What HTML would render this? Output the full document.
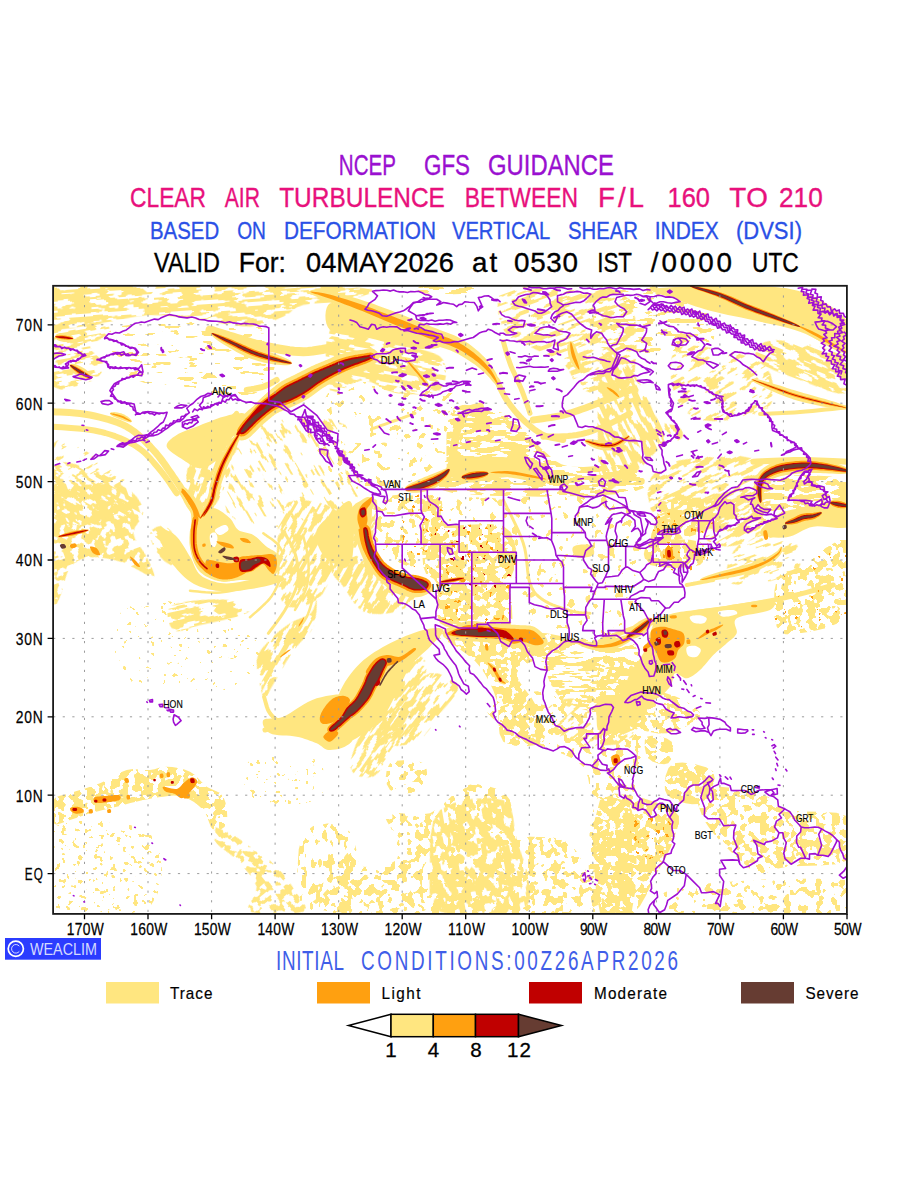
<!DOCTYPE html>
<html><head><meta charset="utf-8"><title>CAT</title>
<style>
html,body{margin:0;padding:0;background:#fff;}
body{width:900px;height:1200px;overflow:hidden;font-family:"Liberation Sans",sans-serif;}
svg{display:block;position:absolute;left:0;top:0}
text{font-family:"Liberation Sans",sans-serif;}
</style></head><body>
<svg width="900" height="1200" viewBox="0 0 900 1200">
<rect width="900" height="1200" fill="#fff"/>
<text transform="translate(338.8 174.6) scale(0.710 1)" font-size="29" fill="#9a10d0" stroke="#9a10d0" stroke-width="0.35" textLength="80.6" lengthAdjust="spacing">NCEP</text>
<text transform="translate(424.0 174.6) scale(0.772 1)" font-size="29" fill="#9a10d0" stroke="#9a10d0" stroke-width="0.35" textLength="59.6" lengthAdjust="spacing">GFS</text>
<text transform="translate(488.0 174.6) scale(0.823 1)" font-size="29" fill="#9a10d0" stroke="#9a10d0" stroke-width="0.35" textLength="153.1" lengthAdjust="spacing">GUIDANCE</text>
<text transform="translate(130.0 206.8) scale(0.820 1)" font-size="27.8" fill="#e8107c" stroke="#e8107c" stroke-width="0.35" textLength="92.7" lengthAdjust="spacing">CLEAR</text>
<text transform="translate(224.8 206.8) scale(0.760 1)" font-size="27.8" fill="#e8107c" stroke="#e8107c" stroke-width="0.35" textLength="46.3" lengthAdjust="spacing">AIR</text>
<text transform="translate(279.2 206.8) scale(0.879 1)" font-size="27.8" fill="#e8107c" stroke="#e8107c" stroke-width="0.35" textLength="188.5" lengthAdjust="spacing">TURBULENCE</text>
<text transform="translate(464.8 206.8) scale(0.823 1)" font-size="27.8" fill="#e8107c" stroke="#e8107c" stroke-width="0.35" textLength="137.5" lengthAdjust="spacing">BETWEEN</text>
<text transform="translate(598.0 206.8) scale(1.000 1)" font-size="27.8" fill="#e8107c" stroke="#e8107c" stroke-width="0.35" textLength="46.0" lengthAdjust="spacing">F/L</text>
<text transform="translate(667.5 206.8) scale(0.916 1)" font-size="27.8" fill="#e8107c" stroke="#e8107c" stroke-width="0.35" textLength="46.4" lengthAdjust="spacing">160</text>
<text transform="translate(729.2 206.8) scale(1.000 1)" font-size="27.8" fill="#e8107c" stroke="#e8107c" stroke-width="0.35" textLength="38.8" lengthAdjust="spacing">TO</text>
<text transform="translate(779.0 206.8) scale(0.944 1)" font-size="27.8" fill="#e8107c" stroke="#e8107c" stroke-width="0.35" textLength="46.4" lengthAdjust="spacing">210</text>
<text transform="translate(150.0 238.6) scale(0.830 1)" font-size="24.6" fill="#2a50e6" stroke="#2a50e6" stroke-width="0.35" textLength="83.4" lengthAdjust="spacing">BASED</text>
<text transform="translate(237.2 238.6) scale(0.780 1)" font-size="24.6" fill="#2a50e6" stroke="#2a50e6" stroke-width="0.35" textLength="36.9" lengthAdjust="spacing">ON</text>
<text transform="translate(284.0 238.6) scale(0.845 1)" font-size="24.6" fill="#2a50e6" stroke="#2a50e6" stroke-width="0.35" textLength="179.9" lengthAdjust="spacing">DEFORMATION</text>
<text transform="translate(452.0 238.6) scale(0.818 1)" font-size="24.6" fill="#2a50e6" stroke="#2a50e6" stroke-width="0.35" textLength="119.9" lengthAdjust="spacing">VERTICAL</text>
<text transform="translate(568.0 238.6) scale(0.826 1)" font-size="24.6" fill="#2a50e6" stroke="#2a50e6" stroke-width="0.35" textLength="84.8" lengthAdjust="spacing">SHEAR</text>
<text transform="translate(654.8 238.6) scale(0.851 1)" font-size="24.6" fill="#2a50e6" stroke="#2a50e6" stroke-width="0.35" textLength="75.2" lengthAdjust="spacing">INDEX</text>
<text transform="translate(736.0 238.6) scale(0.894 1)" font-size="24.6" fill="#2a50e6" stroke="#2a50e6" stroke-width="0.35" textLength="73.8" lengthAdjust="spacing">(DVSI)</text>
<text transform="translate(154.0 272.3) scale(0.843 1)" font-size="27.8" fill="#000" stroke="#000" stroke-width="0.35" textLength="78.3" lengthAdjust="spacing">VALID</text>
<text transform="translate(238.8 272.3) scale(0.955 1)" font-size="27.8" fill="#000" stroke="#000" stroke-width="0.35" textLength="49.4" lengthAdjust="spacing">For:</text>
<text transform="translate(306.0 272.3) scale(0.980 1)" font-size="27.8" fill="#000" stroke="#000" stroke-width="0.35" textLength="150.9" lengthAdjust="spacing">04MAY2026</text>
<text transform="translate(472.0 272.3) scale(1.000 1)" font-size="27.8" fill="#000" stroke="#000" stroke-width="0.35" textLength="25.2" lengthAdjust="spacing">at</text>
<text transform="translate(514.0 272.3) scale(1.000 1)" font-size="27.8" fill="#000" stroke="#000" stroke-width="0.35" textLength="64.0" lengthAdjust="spacing">0530</text>
<text transform="translate(597.2 272.3) scale(0.805 1)" font-size="27.8" fill="#000" stroke="#000" stroke-width="0.35" textLength="43.2" lengthAdjust="spacing">IST</text>
<text transform="translate(650.8 272.3) scale(1.000 1)" font-size="27.8" fill="#000" stroke="#000" stroke-width="0.35" textLength="81.2" lengthAdjust="spacing">/0000</text>
<text transform="translate(752.0 272.3) scale(0.819 1)" font-size="27.8" fill="#000" stroke="#000" stroke-width="0.35" textLength="57.1" lengthAdjust="spacing">UTC</text>
<defs><clipPath id="mc"><rect x="53.1" y="285.8" width="793.8" height="628.1"/></clipPath></defs>
<g clip-path="url(#mc)">
<defs>
<filter id="nzb40" x="0" y="0" width="1" height="1" color-interpolation-filters="sRGB"><feTurbulence type="fractalNoise" baseFrequency="0.125 0.125" numOctaves="2" seed="27" result="t"/><feColorMatrix in="t" type="matrix" values="0 0 0 0 1  0 0 0 0 1  0 0 0 0 1  80.00 0 0 0 -32.000" result="m"/><feComposite in="SourceGraphic" in2="m" operator="in"/></filter>
<filter id="nzb42" x="0" y="0" width="1" height="1" color-interpolation-filters="sRGB"><feTurbulence type="fractalNoise" baseFrequency="0.125 0.125" numOctaves="2" seed="29" result="t"/><feColorMatrix in="t" type="matrix" values="0 0 0 0 1  0 0 0 0 1  0 0 0 0 1  80.00 0 0 0 -33.600" result="m"/><feComposite in="SourceGraphic" in2="m" operator="in"/></filter>
<filter id="nzb44" x="0" y="0" width="1" height="1" color-interpolation-filters="sRGB"><feTurbulence type="fractalNoise" baseFrequency="0.125 0.125" numOctaves="2" seed="31" result="t"/><feColorMatrix in="t" type="matrix" values="0 0 0 0 1  0 0 0 0 1  0 0 0 0 1  80.00 0 0 0 -35.200" result="m"/><feComposite in="SourceGraphic" in2="m" operator="in"/></filter>
<filter id="nzb45" x="0" y="0" width="1" height="1" color-interpolation-filters="sRGB"><feTurbulence type="fractalNoise" baseFrequency="0.125 0.125" numOctaves="2" seed="32" result="t"/><feColorMatrix in="t" type="matrix" values="0 0 0 0 1  0 0 0 0 1  0 0 0 0 1  80.00 0 0 0 -36.000" result="m"/><feComposite in="SourceGraphic" in2="m" operator="in"/></filter>
<filter id="nzb50" x="0" y="0" width="1" height="1" color-interpolation-filters="sRGB"><feTurbulence type="fractalNoise" baseFrequency="0.125 0.125" numOctaves="2" seed="37" result="t"/><feColorMatrix in="t" type="matrix" values="0 0 0 0 1  0 0 0 0 1  0 0 0 0 1  80.00 0 0 0 -40.000" result="m"/><feComposite in="SourceGraphic" in2="m" operator="in"/></filter>
<filter id="nzb53" x="0" y="0" width="1" height="1" color-interpolation-filters="sRGB"><feTurbulence type="fractalNoise" baseFrequency="0.125 0.125" numOctaves="2" seed="40" result="t"/><feColorMatrix in="t" type="matrix" values="0 0 0 0 1  0 0 0 0 1  0 0 0 0 1  80.00 0 0 0 -42.400" result="m"/><feComposite in="SourceGraphic" in2="m" operator="in"/></filter>
<filter id="nzb54" x="0" y="0" width="1" height="1" color-interpolation-filters="sRGB"><feTurbulence type="fractalNoise" baseFrequency="0.125 0.125" numOctaves="2" seed="41" result="t"/><feColorMatrix in="t" type="matrix" values="0 0 0 0 1  0 0 0 0 1  0 0 0 0 1  80.00 0 0 0 -43.200" result="m"/><feComposite in="SourceGraphic" in2="m" operator="in"/></filter>
<filter id="nzb56" x="0" y="0" width="1" height="1" color-interpolation-filters="sRGB"><feTurbulence type="fractalNoise" baseFrequency="0.125 0.125" numOctaves="2" seed="43" result="t"/><feColorMatrix in="t" type="matrix" values="0 0 0 0 1  0 0 0 0 1  0 0 0 0 1  80.00 0 0 0 -44.800" result="m"/><feComposite in="SourceGraphic" in2="m" operator="in"/></filter>
<filter id="nzb57" x="0" y="0" width="1" height="1" color-interpolation-filters="sRGB"><feTurbulence type="fractalNoise" baseFrequency="0.125 0.125" numOctaves="2" seed="44" result="t"/><feColorMatrix in="t" type="matrix" values="0 0 0 0 1  0 0 0 0 1  0 0 0 0 1  80.00 0 0 0 -45.600" result="m"/><feComposite in="SourceGraphic" in2="m" operator="in"/></filter>
<filter id="nzb58" x="0" y="0" width="1" height="1" color-interpolation-filters="sRGB"><feTurbulence type="fractalNoise" baseFrequency="0.125 0.125" numOctaves="2" seed="45" result="t"/><feColorMatrix in="t" type="matrix" values="0 0 0 0 1  0 0 0 0 1  0 0 0 0 1  80.00 0 0 0 -46.400" result="m"/><feComposite in="SourceGraphic" in2="m" operator="in"/></filter>
<filter id="nzb64" x="0" y="0" width="1" height="1" color-interpolation-filters="sRGB"><feTurbulence type="fractalNoise" baseFrequency="0.125 0.125" numOctaves="2" seed="1" result="t"/><feColorMatrix in="t" type="matrix" values="0 0 0 0 1  0 0 0 0 1  0 0 0 0 1  80.00 0 0 0 -51.200" result="m"/><feComposite in="SourceGraphic" in2="m" operator="in"/></filter>
<filter id="nzb66" x="0" y="0" width="1" height="1" color-interpolation-filters="sRGB"><feTurbulence type="fractalNoise" baseFrequency="0.125 0.125" numOctaves="2" seed="3" result="t"/><feColorMatrix in="t" type="matrix" values="0 0 0 0 1  0 0 0 0 1  0 0 0 0 1  80.00 0 0 0 -52.800" result="m"/><feComposite in="SourceGraphic" in2="m" operator="in"/></filter>
<filter id="nzf65" x="0" y="0" width="1" height="1" color-interpolation-filters="sRGB"><feTurbulence type="fractalNoise" baseFrequency="0.18 0.18" numOctaves="2" seed="30" result="t"/><feColorMatrix in="t" type="matrix" values="0 0 0 0 1  0 0 0 0 1  0 0 0 0 1  80.00 0 0 0 -52.000" result="m"/><feComposite in="SourceGraphic" in2="m" operator="in"/></filter>
<filter id="nzf68" x="0" y="0" width="1" height="1" color-interpolation-filters="sRGB"><feTurbulence type="fractalNoise" baseFrequency="0.18 0.18" numOctaves="2" seed="33" result="t"/><feColorMatrix in="t" type="matrix" values="0 0 0 0 1  0 0 0 0 1  0 0 0 0 1  80.00 0 0 0 -54.400" result="m"/><feComposite in="SourceGraphic" in2="m" operator="in"/></filter>
<filter id="nzf70" x="0" y="0" width="1" height="1" color-interpolation-filters="sRGB"><feTurbulence type="fractalNoise" baseFrequency="0.18 0.18" numOctaves="2" seed="35" result="t"/><feColorMatrix in="t" type="matrix" values="0 0 0 0 1  0 0 0 0 1  0 0 0 0 1  80.00 0 0 0 -56.000" result="m"/><feComposite in="SourceGraphic" in2="m" operator="in"/></filter>
<filter id="nzf72" x="0" y="0" width="1" height="1" color-interpolation-filters="sRGB"><feTurbulence type="fractalNoise" baseFrequency="0.18 0.18" numOctaves="2" seed="37" result="t"/><feColorMatrix in="t" type="matrix" values="0 0 0 0 1  0 0 0 0 1  0 0 0 0 1  80.00 0 0 0 -57.600" result="m"/><feComposite in="SourceGraphic" in2="m" operator="in"/></filter>
<filter id="nzf75" x="0" y="0" width="1" height="1" color-interpolation-filters="sRGB"><feTurbulence type="fractalNoise" baseFrequency="0.18 0.18" numOctaves="2" seed="40" result="t"/><feColorMatrix in="t" type="matrix" values="0 0 0 0 1  0 0 0 0 1  0 0 0 0 1  80.00 0 0 0 -60.000" result="m"/><feComposite in="SourceGraphic" in2="m" operator="in"/></filter>
<filter id="nzf76" x="0" y="0" width="1" height="1" color-interpolation-filters="sRGB"><feTurbulence type="fractalNoise" baseFrequency="0.18 0.18" numOctaves="2" seed="41" result="t"/><feColorMatrix in="t" type="matrix" values="0 0 0 0 1  0 0 0 0 1  0 0 0 0 1  80.00 0 0 0 -60.800" result="m"/><feComposite in="SourceGraphic" in2="m" operator="in"/></filter>
<filter id="nzm46" x="0" y="0" width="1" height="1" color-interpolation-filters="sRGB"><feTurbulence type="fractalNoise" baseFrequency="0.08 0.15" numOctaves="2" seed="10" result="t"/><feColorMatrix in="t" type="matrix" values="0 0 0 0 1  0 0 0 0 1  0 0 0 0 1  80.00 0 0 0 -36.800" result="m"/><feComposite in="SourceGraphic" in2="m" operator="in"/></filter>
<filter id="nzm58" x="0" y="0" width="1" height="1" color-interpolation-filters="sRGB"><feTurbulence type="fractalNoise" baseFrequency="0.08 0.15" numOctaves="2" seed="22" result="t"/><feColorMatrix in="t" type="matrix" values="0 0 0 0 1  0 0 0 0 1  0 0 0 0 1  80.00 0 0 0 -46.400" result="m"/><feComposite in="SourceGraphic" in2="m" operator="in"/></filter>
<filter id="nzs45" x="0" y="0" width="1" height="1" color-interpolation-filters="sRGB"><feTurbulence type="fractalNoise" baseFrequency="0.055 0.21" numOctaves="2" seed="1" result="t"/><feColorMatrix in="t" type="matrix" values="0 0 0 0 1  0 0 0 0 1  0 0 0 0 1  80.00 0 0 0 -36.000" result="m"/><feComposite in="SourceGraphic" in2="m" operator="in"/></filter>
<filter id="nzs48" x="0" y="0" width="1" height="1" color-interpolation-filters="sRGB"><feTurbulence type="fractalNoise" baseFrequency="0.055 0.21" numOctaves="2" seed="4" result="t"/><feColorMatrix in="t" type="matrix" values="0 0 0 0 1  0 0 0 0 1  0 0 0 0 1  80.00 0 0 0 -38.400" result="m"/><feComposite in="SourceGraphic" in2="m" operator="in"/></filter>
<filter id="nzs50" x="0" y="0" width="1" height="1" color-interpolation-filters="sRGB"><feTurbulence type="fractalNoise" baseFrequency="0.055 0.21" numOctaves="2" seed="6" result="t"/><feColorMatrix in="t" type="matrix" values="0 0 0 0 1  0 0 0 0 1  0 0 0 0 1  80.00 0 0 0 -40.000" result="m"/><feComposite in="SourceGraphic" in2="m" operator="in"/></filter>
<filter id="nzs51" x="0" y="0" width="1" height="1" color-interpolation-filters="sRGB"><feTurbulence type="fractalNoise" baseFrequency="0.055 0.21" numOctaves="2" seed="7" result="t"/><feColorMatrix in="t" type="matrix" values="0 0 0 0 1  0 0 0 0 1  0 0 0 0 1  80.00 0 0 0 -40.800" result="m"/><feComposite in="SourceGraphic" in2="m" operator="in"/></filter>
<filter id="nzs57" x="0" y="0" width="1" height="1" color-interpolation-filters="sRGB"><feTurbulence type="fractalNoise" baseFrequency="0.055 0.21" numOctaves="2" seed="13" result="t"/><feColorMatrix in="t" type="matrix" values="0 0 0 0 1  0 0 0 0 1  0 0 0 0 1  80.00 0 0 0 -45.600" result="m"/><feComposite in="SourceGraphic" in2="m" operator="in"/></filter>
<filter id="nzs60" x="0" y="0" width="1" height="1" color-interpolation-filters="sRGB"><feTurbulence type="fractalNoise" baseFrequency="0.055 0.21" numOctaves="2" seed="16" result="t"/><feColorMatrix in="t" type="matrix" values="0 0 0 0 1  0 0 0 0 1  0 0 0 0 1  80.00 0 0 0 -48.000" result="m"/><feComposite in="SourceGraphic" in2="m" operator="in"/></filter>
<filter id="nzs62" x="0" y="0" width="1" height="1" color-interpolation-filters="sRGB"><feTurbulence type="fractalNoise" baseFrequency="0.055 0.21" numOctaves="2" seed="18" result="t"/><feColorMatrix in="t" type="matrix" values="0 0 0 0 1  0 0 0 0 1  0 0 0 0 1  80.00 0 0 0 -49.600" result="m"/><feComposite in="SourceGraphic" in2="m" operator="in"/></filter>
<filter id="nzs63" x="0" y="0" width="1" height="1" color-interpolation-filters="sRGB"><feTurbulence type="fractalNoise" baseFrequency="0.055 0.21" numOctaves="2" seed="19" result="t"/><feColorMatrix in="t" type="matrix" values="0 0 0 0 1  0 0 0 0 1  0 0 0 0 1  80.00 0 0 0 -50.400" result="m"/><feComposite in="SourceGraphic" in2="m" operator="in"/></filter>
</defs>
<g transform="rotate(-4.0 209.3 310.7)"><path d="M55.4 275.8L115.7 276.9L203.6 282.9L291.3 290.5L351.3 296.5L373.1 300.7L372.3 304.4L360.8 307.5L350.4 309.8L341.3 310.9L328.2 310.9L314.5 310.8L303.5 311.6L296.8 313.6L292.3 316.3L288.2 319.2L282.7 321.8L275.5 324.3L267.6 326.9L258.7 328.9L248.8 329.5L237.5 328.1L225.1 325.4L212.1 322.2L199.4 319.3L187.0 316.8L174.7 314.2L162.3 312.0L149.8 310.9L137.2 311.2L124.4 312.7L111.8 314.5L99.4 315.7L86.3 317.0L72.7 318.5L60.7 318.7L52.6 315.7L42.9 307.2L32.6 294.5L32.9 282.5Z" fill="#ffe680" filter="url(#nzs45)"/></g>
<g transform="rotate(-10.0 86.2 351.4)"><path d="M58.1 321.3L68.1 317.9L81.5 319.3L94.9 323.0L104.7 326.2L110.1 328.6L113.0 331.6L113.8 334.8L112.8 337.7L108.6 340.1L101.6 342.1L94.7 344.4L90.8 347.4L91.6 351.5L95.3 356.5L99.3 361.5L101.0 366.1L100.1 370.4L97.8 374.7L93.9 378.3L88.3 380.8L78.9 383.1L66.5 385.2L54.9 385.0L47.7 380.4L45.9 368.3L47.5 350.6L51.8 333.0Z" fill="#ffe680" filter="url(#nzs51)"/></g>
<g transform="rotate(0.0 181.1 363.3)"><path d="M116.7 326.7L146.5 322.6L190.0 320.4L233.5 321.4L263.3 326.7L275.4 339.5L277.1 358.1L271.9 376.9L263.3 390.0L249.7 395.4L230.0 396.5L208.6 395.1L190.0 393.3L174.5 391.2L160.0 387.9L147.2 384.0L136.7 380.0L128.9 376.5L123.3 373.1L119.5 369.0L116.7 363.3L111.8 354.7L106.3 344.0L105.9 333.7Z" fill="#ffe680" filter="url(#nzs63)"/></g>
<g transform="rotate(30.0 90.0 492.0)"><path d="M45.6 488.4L47.9 482.2L54.1 478.2L62.5 475.5L71.6 473.4L81.8 471.3L93.7 469.7L105.8 469.3L116.2 470.7L126.8 474.1L137.6 479.0L144.8 485.4L144.4 492.9L132.4 504.0L111.8 518.0L89.4 529.9L72.2 534.6L61.1 528.5L52.8 515.0L47.5 499.8Z" fill="#ffe680" filter="url(#nzs51)"/></g>
<g transform="rotate(60.0 283.3 474.7)"><path d="M225.1 479.5L230.8 457.8L242.8 430.6L258.4 406.2L275.1 392.9L296.4 394.0L322.2 404.7L344.7 421.2L355.9 439.6L351.0 463.1L335.0 492.5L315.3 519.9L299.3 537.7L288.4 542.8L279.0 539.5L270.2 531.8L261.3 523.5L250.1 515.6L237.7 506.1L228.0 494.2Z" fill="#ffe680" filter="url(#nzs62)"/></g>
<g transform="rotate(10.0 386.2 366.2)"><path d="M324.6 340.3L331.0 336.4L341.3 337.1L353.5 339.8L365.4 341.6L377.3 341.9L390.0 342.1L402.4 342.5L413.1 343.3L422.1 344.1L430.1 345.0L436.6 346.7L441.4 350.2L444.7 356.5L446.7 365.0L446.5 373.6L443.3 380.3L435.7 384.8L424.6 388.1L412.3 390.1L401.2 391.1L391.8 390.0L383.0 387.1L374.4 384.4L366.1 383.8L357.5 387.8L349.0 394.8L341.2 400.2L335.0 399.4L329.7 388.5L325.3 370.8L323.1 352.6Z" fill="#ffe680" filter="url(#nzs45)"/></g>
<g transform="rotate(0.0 390.0 435.0)"><path d="M330.0 390.0L354.4 381.6L390.0 378.8L425.6 381.6L450.0 390.0L461.2 408.3L465.0 435.0L461.2 461.7L450.0 480.0L425.6 488.4L390.0 491.2L354.4 488.4L330.0 480.0L318.8 461.7L315.0 435.0L318.8 408.3Z" fill="#ffe680" filter="url(#nzb64)"/></g>
<g transform="rotate(0.0 529.3 455.4)"><path d="M453.3 408.3L463.3 404.7L477.1 405.7L491.5 409.3L503.3 413.3L511.9 418.0L518.8 424.3L524.6 430.9L530.0 436.7L534.7 441.4L538.5 445.6L542.3 449.6L546.7 453.3L551.2 457.2L555.6 461.0L561.4 464.3L570.0 466.7L583.8 467.0L601.5 465.8L618.4 465.1L630.0 466.7L638.4 472.1L644.8 480.0L643.8 487.9L630.0 493.3L594.3 495.8L542.1 496.7L489.7 495.8L453.3 493.3L439.4 489.3L438.5 483.6L443.4 476.2L446.7 466.7L446.4 452.8L446.5 435.5L448.3 419.2Z" fill="#ffe680" filter="url(#nzs45)"/></g>
<g transform="rotate(-20.0 564.2 337.5)"><path d="M523.2 272.1L535.7 273.3L552.1 279.2L569.8 287.2L585.9 294.9L601.8 300.6L618.2 306.0L631.7 313.3L638.9 324.8L637.4 344.4L629.5 369.9L618.7 394.0L608.1 409.4L597.2 412.8L584.8 408.6L573.1 400.9L564.2 393.4L559.8 386.4L558.2 378.1L557.3 369.5L554.5 361.5L549.1 354.3L542.3 347.5L535.3 340.9L528.9 334.4L522.9 328.4L516.8 322.7L511.9 316.7L509.6 309.6L509.5 299.7L511.3 287.9L515.6 277.5Z" fill="#ffe680" filter="url(#nzs51)"/></g>
<g transform="rotate(0.0 446.7 289.2)"><path d="M423.3 285.0L432.8 284.2L446.7 284.0L460.5 284.2L470.0 285.0L474.4 286.7L475.8 289.2L474.4 291.6L470.0 293.3L460.5 294.1L446.7 294.4L432.8 294.1L423.3 293.3L419.0 291.6L417.5 289.2L419.0 286.7Z" fill="#ffe680" filter="url(#nzs51)"/></g>
<g transform="rotate(22.0 804.7 366.0)"><path d="M765.9 353.6L781.2 348.7L802.6 343.9L824.3 341.1L840.1 341.6L849.3 347.6L854.6 357.5L856.2 368.1L853.8 375.6L846.1 379.1L833.6 380.4L819.1 380.6L805.6 380.7L792.3 381.2L778.2 381.4L765.9 380.8L757.9 378.4L754.4 373.5L754.3 366.6L757.9 359.5Z" fill="#ffe680" filter="url(#nzs45)"/></g>
<g transform="rotate(65.0 640.2 427.5)"><path d="M562.0 435.4L554.3 427.9L555.2 422.8L560.9 419.1L567.4 415.8L575.2 413.1L585.7 411.1L597.1 409.8L607.5 408.8L616.8 408.5L625.9 408.8L634.2 409.0L641.0 407.9L646.1 404.6L649.6 400.0L652.5 395.5L655.5 392.6L659.0 391.3L662.4 391.1L665.4 392.0L667.5 394.5L668.1 398.8L667.6 404.9L667.0 411.7L667.4 418.3L669.3 424.8L671.9 431.6L674.8 438.3L677.1 444.9L679.0 451.3L680.8 457.7L682.0 463.8L682.2 469.4L683.5 476.0L685.3 483.2L683.5 488.1L673.8 487.5L650.4 478.6L617.0 463.8L584.1 447.8Z" fill="#ffe680" filter="url(#nzs45)"/></g>
<g transform="rotate(-25.0 710.0 491.7)"><path d="M675.3 447.9L696.4 450.6L725.0 459.6L752.0 471.8L768.7 484.1L772.2 498.7L767.5 516.2L757.1 531.3L743.3 538.5L722.6 534.8L695.0 523.8L668.9 509.5L652.7 496.2L648.7 482.6L652.5 467.1L662.0 454.2Z" fill="#ffe680" filter="url(#nzs51)"/></g>
<g transform="rotate(0.0 660.0 318.8)"><path d="M600.0 286.7L611.0 282.1L627.1 282.1L643.8 284.3L656.7 286.7L663.9 289.1L668.1 292.6L671.6 296.5L676.7 300.0L684.8 302.5L694.6 304.5L703.7 307.1L710.0 311.7L713.4 319.4L714.8 329.5L713.8 339.4L710.0 346.7L702.8 350.6L692.5 352.6L680.2 353.3L666.7 353.3L650.1 353.9L630.6 354.2L612.5 352.4L600.0 346.7L594.0 334.0L592.3 316.2L594.5 298.7Z" fill="#ffe680" filter="url(#nzs57)"/></g>
<g transform="rotate(-30.0 723.9 386.7)"><path d="M705.9 330.1L720.0 337.0L737.5 350.7L754.2 366.6L765.6 380.0L770.2 390.1L770.5 399.4L768.2 407.5L765.0 414.3L761.6 420.0L756.9 424.7L750.4 427.6L741.8 427.8L729.2 424.8L713.2 419.0L697.8 411.6L686.5 403.6L680.4 394.7L677.3 384.6L676.9 374.1L678.4 364.3L682.0 353.4L687.9 341.6L695.9 332.6Z" fill="#ffe680" filter="url(#nzs57)"/></g>
<g transform="rotate(0.0 803.3 500.0)"><path d="M760.0 480.0L777.6 476.2L803.3 475.0L829.1 476.2L846.7 480.0L854.8 488.1L857.5 500.0L854.8 511.9L846.7 520.0L829.1 523.8L803.3 525.0L777.6 523.8L760.0 520.0L751.9 511.9L749.2 500.0L751.9 488.1Z" fill="#ffe680" filter="url(#nzs45)"/></g>
<g transform="rotate(-70.0 210.5 476.2)"><path d="M191.9 455.8L203.6 453.1L219.2 450.7L235.0 449.8L247.2 451.7L255.4 457.9L261.6 467.3L264.9 477.1L264.4 484.4L258.8 488.5L248.9 490.8L237.3 492.0L226.7 492.8L217.2 493.4L207.5 493.3L198.5 492.7L190.8 491.7L184.3 490.4L178.7 488.7L174.5 486.6L172.1 484.3L172.2 481.8L174.3 479.0L177.3 475.9L180.2 472.5L181.9 468.4L183.1 463.7L185.9 459.2Z" fill="#ffe680" filter="url(#nzs45)"/></g>
<g transform="rotate(40.0 167.3 547.3)"><path d="M145.1 547.8L144.5 543.5L146.0 538.5L149.2 534.2L153.5 531.9L160.1 532.5L168.8 534.9L177.3 538.3L183.4 541.6L186.7 545.2L188.2 549.3L188.3 553.2L186.9 556.1L183.8 558.1L178.9 559.3L173.3 559.7L167.7 559.2L161.6 557.5L154.7 554.7L148.6 551.3Z" fill="#ffe680" filter="url(#nzs45)"/></g>
<g transform="rotate(-12.0 211.3 612.9)"><path d="M172.2 598.2L179.9 596.5L190.9 596.8L202.7 598.0L212.8 599.4L221.0 600.9L228.4 602.9L234.8 605.2L240.1 607.5L244.3 610.2L247.5 613.1L249.4 615.9L249.7 618.1L248.4 619.6L245.5 620.6L241.1 621.3L235.3 621.9L227.3 622.2L217.3 622.4L206.9 622.4L197.7 622.4L189.6 623.0L182.0 624.0L175.6 624.2L171.1 622.5L168.5 617.6L167.4 610.3L168.5 603.1Z" fill="#ffe680" filter="url(#nzs45)"/></g>
<g transform="rotate(-20.0 104.2 544.7)"><path d="M76.3 472.8L82.5 466.4L87.2 468.4L92.0 474.2L98.8 479.2L108.9 482.5L121.1 486.6L133.0 491.3L142.0 496.7L147.7 503.4L151.2 511.1L152.9 518.8L152.9 525.5L150.0 530.7L144.6 534.9L138.9 539.1L135.5 544.0L135.2 550.2L136.7 557.0L138.7 564.0L140.0 570.5L140.7 577.2L141.2 584.1L141.1 589.7L139.8 592.4L136.9 590.9L132.7 586.3L128.0 580.7L123.8 576.0L120.6 572.7L117.7 569.7L114.5 566.9L110.5 564.0L105.2 560.6L99.1 557.0L92.7 553.8L86.5 551.7L80.8 550.8L75.2 550.7L69.7 551.8L64.3 554.3L59.0 559.4L53.6 566.7L48.8 573.7L44.9 578.4L41.4 582.1L38.2 585.3L36.8 584.5L38.6 576.2L45.3 554.8L55.7 523.9L66.9 493.3Z" fill="#ffe680" filter="url(#nzb45)"/></g>
<g transform="rotate(-30.0 87.2 466.1)"><path d="M69.3 429.4L74.2 429.2L79.0 432.9L83.6 438.5L87.8 444.0L91.7 449.3L95.2 455.3L98.5 461.4L101.3 467.2L103.9 472.5L106.1 477.7L107.9 482.5L109.1 487.1L110.9 492.3L112.9 498.0L112.8 501.9L108.2 502.0L95.3 496.8L76.5 487.7L58.4 477.1L47.6 467.0L47.3 456.5L53.5 445.1L62.1 435.2Z" fill="#ffe680" filter="url(#nzs60)"/></g>
<g transform="rotate(-60.0 287.1 646.7)"><path d="M259.8 627.3L266.4 625.5L272.5 625.7L278.4 627.0L284.4 628.5L290.6 630.1L297.0 632.3L303.1 634.8L308.8 637.5L314.1 640.8L318.9 644.6L323.5 648.1L327.8 650.4L332.7 650.8L337.8 649.8L341.6 648.8L342.4 648.9L339.0 651.1L332.5 654.4L324.8 657.5L317.6 659.4L311.2 659.3L304.7 657.9L298.3 656.2L292.0 655.0L285.9 654.3L280.0 653.9L274.1 653.6L268.0 653.4L261.1 653.3L253.8 653.4L246.8 653.5L241.1 653.5L236.1 654.1L231.7 655.1L229.0 655.2L229.4 653.3L234.2 648.0L242.4 640.2L251.7 632.5Z" fill="#ffe680" filter="url(#nzs45)"/></g>
<g transform="rotate(0.0 181.3 653.3)"><path d="M133.3 600.0L158.0 599.3L192.3 605.4L226.2 615.5L250.0 626.7L262.1 640.7L267.3 658.3L265.5 675.1L256.7 686.7L236.2 691.4L205.8 691.7L174.2 689.5L150.0 686.7L135.3 684.2L125.6 680.8L119.8 675.4L116.7 666.7L115.0 651.1L115.6 630.4L121.0 611.2Z" fill="#ffe680" filter="url(#nzf72)"/></g>
<g transform="rotate(-60.0 369.4 562.4)"><path d="M386.4 507.1L394.0 508.5L400.4 513.0L406.1 518.7L411.3 523.5L417.0 527.2L422.7 530.7L426.6 534.1L427.1 537.5L422.6 540.8L414.4 543.9L404.9 547.2L396.6 551.3L389.4 556.2L382.4 561.8L376.1 567.8L371.0 573.7L367.4 579.7L364.8 586.0L363.2 592.2L362.0 598.2L362.2 604.6L363.6 611.5L364.5 617.2L363.4 620.5L359.2 620.7L353.0 618.8L346.3 615.2L340.4 610.7L335.1 604.8L329.9 597.5L325.7 589.5L323.7 581.8L324.7 574.2L327.8 566.4L331.9 558.9L335.4 552.0L337.4 546.0L338.9 540.8L341.3 535.7L346.0 530.4L354.4 523.8L365.3 516.4L376.7 510.2Z" fill="#ffe680" filter="url(#nzs45)"/></g>
<g transform="rotate(0.0 402.7 531.3)"><path d="M376.7 500.0L386.5 495.9L400.8 494.4L415.2 495.7L425.0 500.0L428.8 509.0L429.0 522.1L427.2 535.8L425.0 546.7L422.7 554.6L419.6 561.0L415.4 565.3L410.0 566.7L402.2 564.3L392.4 559.0L383.1 551.6L376.7 543.3L373.2 532.9L371.6 520.2L372.5 508.3Z" fill="#ffe680" filter="url(#nzb56)"/></g>
<g transform="rotate(0.0 465.8 565.2)"><path d="M423.3 500.0L427.0 494.8L432.3 494.3L437.7 496.8L441.7 500.0L442.3 504.8L440.8 511.9L440.7 519.0L445.0 524.0L456.8 525.4L473.5 524.6L490.6 524.0L503.3 526.0L510.3 531.7L514.1 539.8L515.8 548.6L516.7 556.7L516.2 563.2L514.2 569.2L511.7 575.6L510.0 583.3L510.4 594.0L511.9 606.7L512.4 618.5L510.0 626.7L503.3 629.8L493.8 629.6L483.1 627.9L473.3 626.7L464.1 626.9L454.6 627.5L446.1 626.8L440.0 623.3L437.3 615.4L437.1 604.2L437.5 592.6L436.7 583.3L433.7 578.7L429.8 576.7L426.0 573.8L423.3 566.7L422.0 552.0L421.4 532.3L421.7 513.2Z" fill="#ffe680" filter="url(#nzb44)"/></g>
<g transform="rotate(0.0 474.2 511.3)"><path d="M445.0 500.0L456.8 497.9L474.2 497.2L491.5 497.8L503.3 500.0L508.8 504.8L510.6 511.8L508.8 518.7L503.3 523.3L491.5 525.2L474.2 525.5L456.8 524.4L445.0 522.0L439.5 517.4L437.7 510.9L439.5 504.4Z" fill="#ffe680" filter="url(#nzb64)"/></g>
<g transform="rotate(0.0 512.1 677.0)"><path d="M440.0 633.3L459.9 632.1L490.8 631.7L523.0 632.1L546.7 633.3L559.5 635.8L566.7 639.4L569.6 643.3L570.0 646.7L566.8 649.2L559.8 651.5L551.2 653.8L543.3 656.7L535.6 660.0L527.1 663.5L520.1 667.8L516.7 673.3L518.7 680.5L524.6 688.9L531.5 697.8L536.7 706.7L540.4 716.1L543.7 726.3L545.3 735.3L543.3 741.7L535.8 745.1L524.2 746.5L512.1 745.4L503.3 741.7L499.6 734.0L498.5 722.9L498.3 710.8L496.7 700.0L493.4 690.8L489.4 682.0L484.9 673.9L480.0 666.7L474.5 660.6L468.3 655.4L462.2 650.9L456.7 646.7L449.1 642.6L440.2 638.7L435.3 635.6Z" fill="#ffe680" filter="url(#nzb45)"/></g>
<g transform="rotate(-52.0 421.9 709.4)"><path d="M372.8 698.9L379.6 694.9L391.7 692.0L405.6 690.0L417.9 689.0L428.5 688.5L439.0 688.7L448.3 690.2L455.4 693.6L460.2 700.0L463.2 709.0L464.0 717.9L462.3 724.1L457.1 726.7L448.9 727.0L439.3 726.4L430.0 726.1L420.8 726.6L410.9 727.4L401.4 727.2L393.3 725.1L385.5 720.0L377.9 712.5L372.9 704.9Z" fill="#ffe680" filter="url(#nzs51)"/></g>
<g transform="rotate(0.0 587.2 678.9)"><path d="M546.7 646.7L563.9 642.0L589.2 637.9L614.4 636.5L631.7 640.0L638.3 651.4L638.8 668.8L635.7 686.7L631.7 700.0L626.8 707.2L620.0 711.2L611.9 713.0L603.3 713.3L593.6 712.2L582.6 709.2L572.0 704.9L563.3 700.0L557.1 694.3L552.5 687.5L549.1 680.3L546.7 673.3L543.5 666.2L540.3 658.8L540.3 651.9Z" fill="#ffe680" filter="url(#nzs51)"/></g>
<g transform="rotate(0.0 568.0 570.0)"><path d="M516.7 500.0L539.7 491.0L573.3 486.5L607.0 488.7L630.0 500.0L639.9 527.1L642.3 566.7L638.5 606.2L630.0 633.3L613.8 643.9L590.2 644.8L565.7 640.0L546.7 633.3L534.7 625.1L526.5 613.5L520.8 599.3L516.7 583.3L511.9 562.9L507.7 538.5L508.0 515.8Z" fill="#ffe680" filter="url(#nzb66)"/></g>
<g transform="rotate(-40.0 592.7 720.0)"><path d="M570.7 679.8L579.1 682.1L589.8 689.4L600.4 698.9L608.6 707.3L614.0 714.1L617.7 721.0L619.8 727.9L620.4 734.6L619.8 742.8L617.8 752.0L613.9 759.0L607.3 760.6L595.7 754.6L580.1 743.2L565.3 729.7L556.3 717.7L554.7 706.4L557.9 694.4L563.9 684.6Z" fill="#ffe680" filter="url(#nzs57)"/></g>
<g transform="rotate(0.0 688.3 519.4)"><path d="M653.3 543.3L662.1 543.3L675.2 540.6L689.0 536.8L700.0 533.3L707.0 530.4L712.1 527.3L716.1 523.9L720.0 520.0L725.7 515.0L732.1 509.2L735.8 503.7L733.3 500.0L721.0 498.1L701.5 497.5L681.2 498.1L666.7 500.0L660.0 503.5L657.7 508.5L657.4 514.3L656.7 520.0L654.2 526.4L651.5 533.5L650.5 539.8Z" fill="#ffe680" filter="url(#nzb44)"/></g>
<g transform="rotate(0.0 675.0 553.6)"><path d="M650.0 542.7L660.2 540.3L675.0 539.3L689.8 539.7L700.0 541.7L704.7 546.3L706.2 553.3L704.7 560.2L700.0 565.0L689.8 567.2L675.0 567.9L660.2 567.1L650.0 565.0L645.3 560.5L643.8 553.9L645.3 547.3Z" fill="#ffe680" filter="url(#nzb40)"/></g>
<g transform="rotate(0.0 808.3 593.3)"><path d="M776.7 580.0L780.3 574.6L785.3 572.1L791.9 570.2L800.0 566.7L811.5 558.6L825.6 547.9L839.1 539.9L848.3 540.0L852.9 552.6L854.4 573.8L852.9 596.4L848.3 613.3L839.1 622.7L825.6 628.3L811.5 631.5L800.0 633.3L791.9 634.5L785.3 634.2L780.3 631.8L776.7 626.7L774.5 617.0L773.8 603.8L774.5 590.3Z" fill="#ffe680" filter="url(#nzb50)"/></g>
<g transform="rotate(0.0 645.8 704.4)"><path d="M600.0 660.0L606.4 655.1L615.6 657.0L625.4 662.0L633.3 666.7L638.3 670.9L641.7 676.2L645.1 681.8L650.0 686.7L657.6 690.4L666.7 693.5L675.8 696.6L683.3 700.0L689.8 703.9L695.8 708.1L699.7 712.4L700.0 716.7L695.2 721.3L686.5 726.2L676.2 730.6L666.7 733.3L658.3 733.6L650.0 732.0L641.7 730.2L633.3 730.0L624.2 734.0L614.6 740.7L606.0 745.0L600.0 741.7L596.9 725.7L595.8 701.1L596.9 676.4Z" fill="#ffe680" filter="url(#nzb50)"/></g>
<g transform="rotate(-20.0 762.7 561.3)"><path d="M747.5 536.7L758.9 535.1L772.7 535.8L785.7 538.7L794.8 543.2L799.4 550.9L801.0 561.5L799.8 571.8L795.9 579.1L787.9 582.4L776.2 583.3L763.6 582.6L752.6 581.1L742.9 579.0L733.3 575.8L725.8 571.7L722.5 566.6L724.3 559.3L730.1 550.3L738.4 541.9Z" fill="#ffe680" filter="url(#nzs57)"/></g>
<g transform="rotate(-30.0 729.3 522.7)"><path d="M715.3 488.4L727.4 491.8L743.3 499.8L758.2 509.6L767.2 518.4L768.3 526.5L764.4 535.0L757.7 542.4L750.6 547.2L742.6 548.8L732.8 548.0L723.0 545.6L715.0 542.1L708.8 537.4L703.5 531.2L699.9 524.2L698.6 517.2L699.6 508.9L702.7 499.4L707.8 491.5Z" fill="#ffe680" filter="url(#nzs51)"/></g>
<g transform="rotate(0.0 144.7 797.8)"><path d="M53.3 800.0L56.0 797.2L59.8 795.8L64.5 794.8L70.0 793.3L76.6 791.1L84.4 788.8L92.4 786.1L100.0 783.3L107.0 779.9L113.8 776.0L120.3 772.5L126.7 770.0L132.9 769.1L139.0 769.4L144.7 769.9L150.0 770.0L154.5 769.2L158.3 768.0L162.2 767.0L166.7 766.7L172.2 767.1L178.3 768.0L184.5 769.5L190.0 771.7L194.6 774.8L198.8 778.9L202.7 783.0L206.7 786.7L211.1 789.1L215.8 790.9L220.1 793.1L223.3 796.7L225.5 802.6L226.9 810.2L227.3 817.7L226.7 823.3L224.4 827.0L220.8 829.6L216.8 830.7L213.3 830.0L210.8 826.7L208.7 821.2L206.5 815.2L203.3 810.0L199.0 805.9L194.0 802.1L188.6 798.9L183.3 796.7L178.3 795.7L173.3 795.6L168.3 796.1L163.3 796.7L158.5 797.2L153.8 797.9L148.8 798.9L143.3 800.0L137.1 801.4L130.4 803.1L123.5 804.9L116.7 806.7L109.8 808.3L102.9 810.0L96.2 811.7L90.0 813.3L84.5 815.1L79.4 816.9L74.6 818.6L70.0 820.0L65.2 821.7L60.4 823.5L56.2 824.5L53.3 823.3L51.8 819.0L51.2 812.3L51.8 805.3Z" fill="#ffe680" filter="url(#nzb45)"/></g>
<g transform="rotate(0.0 101.7 868.3)"><path d="M53.3 826.7L73.0 820.7L101.7 820.4L130.4 824.9L150.0 833.3L159.1 848.7L162.1 870.4L159.1 891.9L150.0 906.7L130.4 913.7L101.7 916.3L73.0 914.0L53.3 906.7L44.3 890.3L41.2 866.2L44.3 842.4Z" fill="#ffe680" filter="url(#nzf65)"/></g>
<g transform="rotate(-40.0 252.7 868.0)"><path d="M246.6 808.9L249.0 810.8L252.0 815.4L255.0 821.2L257.6 826.9L259.6 832.1L261.2 837.5L262.7 843.4L264.3 849.9L266.4 857.4L268.7 865.5L270.7 874.0L271.9 882.4L272.2 891.0L271.9 899.9L271.1 908.4L270.1 915.7L269.6 922.6L269.2 929.1L267.6 933.5L263.4 934.0L254.1 928.7L241.2 919.0L229.2 908.2L222.6 899.7L223.9 895.1L230.5 892.2L238.3 889.4L243.7 884.9L245.7 877.7L246.3 868.9L246.0 859.8L245.6 851.6L244.6 844.4L243.0 837.8L241.5 831.6L240.9 826.0L241.5 820.3L242.8 814.7L244.5 810.5Z" fill="#ffe680" filter="url(#nzb50)"/></g>
<g transform="rotate(0.0 283.3 780.0)"><path d="M250.0 760.0L263.5 756.2L283.3 755.0L303.1 756.2L316.7 760.0L322.9 768.1L325.0 780.0L322.9 791.9L316.7 800.0L303.1 803.8L283.3 805.0L263.5 803.8L250.0 800.0L243.8 791.9L241.7 780.0L243.8 768.1Z" fill="#ffe680" filter="url(#nzf68)"/></g>
<g transform="rotate(90.0 327.5 872.5)"><path d="M288.3 896.7L281.0 886.8L278.5 872.5L281.0 858.2L288.3 848.3L304.2 843.8L327.5 842.3L350.8 843.8L366.7 848.3L374.0 858.2L376.5 872.5L374.0 886.8L366.7 896.7L350.8 901.2L327.5 902.7L304.2 901.2Z" fill="#ffe680" filter="url(#nzm58)"/></g>
<g transform="rotate(0.0 446.0 844.0)"><path d="M386.7 813.3L394.2 812.6L405.8 813.8L418.7 814.7L430.0 813.3L439.2 807.9L447.7 800.0L455.7 792.1L463.3 786.7L470.6 784.5L477.5 784.2L484.0 785.1L490.0 786.7L495.8 788.6L501.2 791.2L506.1 794.9L510.0 800.0L511.7 807.6L511.7 817.1L512.5 826.4L516.7 833.3L526.1 836.4L539.2 837.1L552.6 837.6L563.3 840.0L570.7 844.8L576.2 850.9L580.4 858.2L583.3 866.7L590.7 877.7L600.4 890.8L601.6 903.2L583.3 911.7L531.9 915.4L456.7 916.0L381.5 914.5L330.0 911.7L311.7 907.4L312.9 901.5L322.7 894.3L330.0 886.7L333.8 877.1L339.2 865.7L345.0 855.7L350.0 850.0L353.3 851.0L355.8 856.5L358.8 862.9L363.3 866.7L371.1 867.1L381.0 866.0L390.4 863.6L396.7 860.0L398.5 854.6L397.5 847.5L395.3 840.0L393.3 833.3L390.7 827.4L387.1 821.7L384.9 816.8Z" fill="#ffe680" filter="url(#nzb53)"/></g>
<g transform="rotate(80.0 482.4 861.0)"><path d="M424.8 893.8L420.3 879.6L419.4 860.9L421.6 842.7L426.0 829.7L433.4 824.1L443.9 822.9L455.9 823.7L467.7 823.5L479.9 821.7L493.0 819.6L505.6 818.2L516.0 818.5L524.2 819.9L531.0 822.2L535.8 827.0L538.3 836.0L538.2 852.5L535.9 874.7L531.4 896.4L525.0 911.5L515.9 917.7L504.5 918.5L491.8 916.3L478.9 913.5L464.7 911.2L448.9 907.8L434.7 902.4Z" fill="#ffe680" filter="url(#nzm46)"/></g>
<g transform="rotate(-55.0 387.8 737.2)"><path d="M342.0 723.2L350.8 718.7L363.9 714.9L378.6 712.6L391.7 712.8L403.7 716.6L415.7 723.2L426.1 730.6L432.9 736.8L435.8 741.8L435.6 746.4L432.8 750.2L427.7 752.6L419.6 753.3L408.5 752.4L396.3 751.0L385.1 749.9L374.6 749.9L363.8 750.4L354.3 750.1L347.2 748.0L342.3 743.1L339.1 736.1L338.7 728.9Z" fill="#ffe680" filter="url(#nzs51)"/></g>
<g transform="rotate(0.0 406.7 776.7)"><path d="M390.0 763.3L396.8 760.8L406.7 760.0L416.6 760.8L423.3 763.3L426.5 768.8L427.5 776.7L426.5 784.6L423.3 790.0L416.6 792.5L406.7 793.3L396.8 792.5L390.0 790.0L386.9 784.6L385.8 776.7L386.9 768.8Z" fill="#ffe680" filter="url(#nzb57)"/></g>
<g transform="rotate(0.0 569.5 752.4)"><path d="M490.0 698.3L517.4 693.2L559.6 689.1L602.4 689.5L631.7 698.3L642.4 721.4L642.7 755.0L637.4 788.6L631.7 811.7L624.9 820.7L615.0 821.6L604.7 817.5L596.7 811.7L592.4 803.0L590.3 790.4L588.0 777.2L583.3 766.7L575.1 759.8L564.6 754.7L553.5 750.6L543.3 746.7L534.2 743.4L525.4 740.9L517.2 738.0L510.0 733.3L500.3 725.3L489.1 715.0L483.3 705.1Z" fill="#ffe680" filter="url(#nzb58)"/></g>
<g transform="rotate(0.0 612.5 860.8)"><path d="M593.3 810.0L601.1 800.5L612.5 797.3L623.9 800.5L631.7 810.0L635.3 830.7L636.5 860.8L635.3 891.0L631.7 911.7L623.9 921.2L612.5 924.4L601.1 921.2L593.3 911.7L589.7 891.0L588.5 860.8L589.7 830.7Z" fill="#ffe680" filter="url(#nzb54)"/></g>
<g transform="rotate(0.0 658.8 750.0)"><path d="M646.7 736.7L651.7 735.7L659.3 736.5L666.8 738.6L671.7 741.7L673.2 746.5L672.8 753.1L671.0 759.4L668.3 763.3L664.1 764.3L658.2 763.5L652.4 761.4L648.3 758.3L646.0 753.5L644.7 746.9L644.8 740.6Z" fill="#ffe680" filter="url(#nzb45)"/></g>
<g transform="rotate(0.0 687.0 785.7)"><path d="M673.3 763.3L682.3 762.4L694.5 764.0L706.1 767.2L713.3 771.7L714.7 778.3L712.3 787.2L707.9 795.8L703.3 801.7L698.2 804.0L692.0 804.3L685.6 803.2L680.0 801.7L675.1 799.9L670.5 797.5L666.9 794.2L665.0 790.0L664.7 783.6L665.7 775.4L668.5 767.9Z" fill="#ffe680" filter="url(#nzb42)"/></g>
<g transform="rotate(0.0 639.4 858.3)"><path d="M600.0 800.0L614.9 793.4L636.7 796.0L658.4 803.2L673.3 810.0L678.9 816.0L679.0 823.5L676.2 831.8L673.3 840.0L670.5 847.9L666.5 856.0L661.7 864.5L656.7 873.3L651.5 883.8L646.0 895.4L640.0 906.0L633.3 913.3L624.9 918.8L615.2 922.9L606.2 922.2L600.0 913.3L595.9 890.1L593.3 856.0L594.1 822.3Z" fill="#ffe680" filter="url(#nzb45)"/></g>
<g transform="rotate(0.0 764.3 831.0)"><path d="M700.0 786.7L711.6 786.0L728.3 787.5L745.9 790.3L760.0 793.3L768.2 797.0L773.2 801.7L778.3 806.3L786.7 810.0L801.1 811.5L819.2 811.7L836.4 812.7L848.3 816.7L854.1 825.8L856.0 838.3L854.1 850.9L848.3 860.0L836.4 864.2L819.2 865.6L801.1 865.9L786.7 866.7L777.4 868.8L770.7 871.2L765.4 873.1L760.0 873.3L754.7 871.7L750.0 868.8L745.3 864.7L740.0 860.0L733.5 854.2L726.2 847.3L719.2 840.1L713.3 833.3L708.8 827.3L705.0 821.5L702.1 815.8L700.0 810.0L697.7 803.5L695.4 796.5L695.5 790.4Z" fill="#ffe680" filter="url(#nzb50)"/></g>
<g transform="rotate(0.0 764.2 898.3)"><path d="M680.0 886.7L714.2 882.7L764.2 879.6L814.1 878.4L848.3 880.0L864.1 886.3L869.4 896.2L864.1 906.4L848.3 913.3L814.1 916.3L764.2 917.1L714.2 916.0L680.0 913.3L664.2 908.1L659.0 900.4L664.2 892.6Z" fill="#ffe680" filter="url(#nzb57)"/></g>
<g transform="rotate(-60.0 312.2 549.6)"><path d="M330.0 503.4L340.7 504.9L347.7 511.8L352.3 521.1L355.5 529.8L357.9 537.8L358.7 546.5L357.5 554.9L353.4 561.8L345.5 566.9L334.3 570.9L322.0 573.9L310.5 576.3L299.8 578.5L289.1 580.3L279.1 580.7L270.8 578.7L262.6 573.6L254.6 566.2L250.3 557.3L253.0 547.9L266.8 536.1L288.8 522.1L312.2 509.9Z" fill="#ffe680" filter="url(#nzs48)"/></g>
<g transform="rotate(-52.0 396.3 704.4)"><path d="M391.8 691.5L400.7 690.2L410.8 689.1L420.8 688.2L429.1 687.8L435.6 687.6L441.0 687.7L445.1 688.4L447.8 690.1L449.2 693.0L449.3 697.1L447.9 701.4L444.8 705.1L439.4 708.2L432.0 710.9L423.5 713.4L415.0 715.7L406.1 718.0L396.6 720.3L387.1 722.1L378.4 723.1L370.4 723.2L362.6 722.5L355.8 721.3L350.4 719.6L346.1 717.5L342.9 714.9L341.4 712.0L342.2 709.1L346.1 706.3L352.7 703.3L360.3 700.5L367.3 698.0L373.2 696.0L378.8 694.3L384.8 692.8Z" fill="#ffe680" filter="url(#nzs50)"/></g>
<g><path d="M211.3 334.0L212.3 336.1L214.0 337.7L216.2 339.4L218.7 341.2L221.3 343.0L224.1 344.7L226.8 346.3L229.3 347.8L231.6 349.1L234.1 350.5L236.5 351.9L239.0 353.2L241.6 354.5L244.1 355.8L246.7 357.0L249.2 358.0L251.7 359.0L254.1 359.8L256.5 360.5L258.8 361.2L261.2 361.8L263.5 362.4L265.9 362.9L268.5 363.5L271.3 364.0L274.4 364.4L277.7 364.8L281.0 365.1L284.1 365.3L287.0 365.3L289.5 365.1L291.5 364.1L291.8 362.6L290.5 360.8L288.4 359.5L285.8 358.2L283.0 357.0L279.9 355.7L276.9 354.6L274.1 353.5L271.5 352.5L269.2 351.7L266.9 350.8L264.8 350.1L262.6 349.3L260.6 348.5L258.5 347.7L256.3 346.9L254.1 346.0L251.8 345.0L249.5 344.0L247.0 342.9L244.5 341.8L242.0 340.7L239.3 339.6L236.7 338.6L234.1 337.6L231.3 336.6L228.3 335.5L225.2 334.6L222.2 333.7L219.2 332.9L216.5 332.3L214.1 332.1L212.0 332.6Z" fill="#ffe680"/><path d="M210.0 330.0L212.0 330.6L214.7 331.5L217.9 332.5L221.5 333.6L225.3 334.8L229.1 336.1L233.0 337.2L236.7 338.3L240.2 339.4L243.8 340.5L247.4 341.6L251.0 342.7L254.8 343.8L258.6 344.8L262.6 345.8L266.7 346.7L271.0 347.5L275.4 348.4L280.1 349.2L284.8 350.0L289.5 350.7L294.2 351.2L298.9 351.5L303.3 351.7L307.9 351.5L312.7 351.0L317.5 350.3L322.3 349.5L326.8 348.6L330.8 347.8L334.1 347.1L336.7 346.7" fill="none" stroke="#ffe680" stroke-width="9.0" stroke-linecap="round" stroke-linejoin="round"/><path d="M237.4 435.7L239.4 435.4L241.2 434.3L243.2 432.9L245.4 431.2L247.6 429.4L249.8 427.5L252.0 425.7L254.1 423.9L256.3 422.0L258.4 420.0L260.5 418.1L262.6 416.2L264.7 414.3L266.8 412.5L269.0 410.9L271.2 409.3L273.5 407.9L276.1 406.4L278.8 405.0L281.6 403.6L284.5 402.1L287.6 400.6L290.8 399.1L293.9 397.5L297.1 395.8L300.4 394.2L303.7 392.5L307.1 390.8L310.5 389.0L313.8 387.3L317.1 385.7L320.2 384.1L323.3 382.5L326.3 380.9L329.2 379.3L332.0 377.8L334.7 376.4L337.4 375.0L340.0 373.7L342.5 372.4L344.9 371.3L347.4 370.2L349.9 369.2L352.3 368.2L354.7 367.3L357.0 366.3L359.2 365.5L361.2 364.6L363.1 363.8L364.9 363.1L366.6 362.3L368.2 361.6L369.7 360.9L371.0 360.2L372.1 359.5L372.9 358.3L372.5 356.3L371.4 355.5L370.1 355.2L368.6 355.0L366.9 355.0L365.1 354.9L363.1 355.0L361.0 355.2L358.8 355.4L356.6 355.7L354.2 356.0L351.7 356.4L349.0 356.8L346.3 357.3L343.4 358.0L340.5 358.7L337.5 359.6L334.6 360.5L331.6 361.6L328.5 362.7L325.5 363.9L322.4 365.2L319.4 366.5L316.3 367.9L313.1 369.3L309.9 370.7L306.5 372.3L303.0 373.9L299.6 375.6L296.1 377.3L292.6 379.0L289.3 380.8L286.1 382.5L283.0 384.2L279.9 385.9L276.9 387.6L273.8 389.3L270.8 391.2L267.8 393.1L264.9 395.1L262.1 397.3L259.5 399.7L257.1 402.1L254.9 404.5L252.8 407.0L250.9 409.4L249.2 411.7L247.5 414.0L245.9 416.1L244.2 418.4L242.4 420.9L240.8 423.4L239.2 425.9L237.9 428.2L236.7 430.4L235.9 432.3L235.9 434.3Z" fill="#ffe680"/><path d="M241.1 429.7L239.4 430.4L237.9 431.7L236.3 433.4L234.6 435.4L232.8 437.6L231.1 439.9L229.4 442.2L227.8 444.5L226.3 446.8L224.9 449.2L223.4 451.6L221.9 454.1L220.5 456.7L219.1 459.3L217.8 461.9L216.6 464.6L215.5 467.2L214.5 469.9L213.6 472.6L212.7 475.3L211.9 477.9L211.2 480.5L210.6 482.9L210.0 485.3L209.5 487.6L209.1 489.8L208.9 491.9L208.7 493.7L208.6 495.4L208.4 497.0L208.1 498.6L207.8 500.1L207.2 501.9L206.4 504.0L205.6 506.3L204.6 508.5L203.8 510.8L203.1 512.8L202.6 514.6L202.8 516.3L203.9 517.0L205.4 516.4L206.8 515.1L208.4 513.5L209.9 511.7L211.5 509.6L213.0 507.5L214.4 505.3L215.6 503.2L216.5 501.1L217.2 499.1L217.7 497.1L218.2 495.3L218.6 493.5L219.0 491.7L219.4 489.9L220.0 488.0L220.7 485.9L221.5 483.6L222.3 481.1L223.1 478.7L224.0 476.2L224.9 473.7L225.8 471.2L226.7 468.8L227.7 466.3L228.7 463.9L229.9 461.3L231.0 458.8L232.2 456.2L233.3 453.7L234.4 451.2L235.5 448.8L236.6 446.4L237.7 443.8L238.9 441.3L240.0 438.7L241.0 436.3L241.8 434.1L242.4 432.2L242.2 430.3Z" fill="#ffe680"/><path d="M181.1 488.7L180.3 490.9L180.6 493.0L181.2 495.3L182.0 497.7L183.1 500.1L184.2 502.4L185.4 504.6L186.5 506.5L187.7 508.3L189.1 510.2L190.6 512.2L192.2 514.1L193.8 515.8L195.5 517.3L197.1 518.4L199.4 518.7L200.6 518.0L201.6 516.0L201.6 514.0L201.3 511.8L200.7 509.4L200.0 507.0L199.0 504.6L198.0 502.3L196.8 500.2L195.5 498.1L193.9 496.1L192.1 494.0L190.3 492.1L188.3 490.4L186.4 489.0L184.6 488.0L182.3 487.9Z" fill="#ffe680"/><path d="M53.3 411.7L56.2 411.9L59.9 412.1L64.4 412.3L69.4 412.6L74.6 413.0L80.0 413.5L85.2 414.2L90.0 415.0L94.7 416.0L99.4 417.1L104.2 418.3L109.0 419.6L113.6 421.1L118.2 422.7L122.6 424.6L126.7 426.7L130.5 429.0L134.2 431.6L137.7 434.4L141.0 437.4L144.3 440.5L147.4 443.7L150.4 446.8L153.3 450.0L156.2 453.2L159.0 456.6L161.6 460.0L164.2 463.5L166.6 467.0L169.0 470.4L171.2 473.6L173.3 476.7L175.4 479.6L177.4 482.6L179.4 485.5L181.2 488.3L182.9 490.9L184.4 493.2L185.7 495.2L186.7 496.7" fill="none" stroke="#ffe680" stroke-width="7.0" stroke-linecap="round" stroke-linejoin="round"/><path d="M53.3 426.7L57.0 427.0L62.0 427.3L67.9 427.7L74.4 428.2L81.2 428.8L87.9 429.6L94.3 430.5L100.0 431.7L105.2 433.0L110.2 434.5L115.1 436.2L119.8 438.0L124.3 440.0L128.7 442.1L132.8 444.3L136.7 446.7L140.3 449.2L143.6 451.9L146.7 454.8L149.6 457.8L152.3 460.9L154.9 464.0L157.5 467.0L160.0 470.0L162.5 473.1L165.0 476.4L167.5 479.8L169.8 483.1L171.9 486.3L173.8 489.1L175.4 491.5L176.7 493.3" fill="none" stroke="#ffe680" stroke-width="6.0" stroke-linecap="round" stroke-linejoin="round"/><path d="M109.9 413.7L110.6 414.8L111.7 415.6L113.0 416.4L114.6 417.1L116.2 417.8L117.8 418.4L119.3 419.0L120.6 419.5L121.9 420.0L123.3 420.5L124.8 421.0L126.3 421.5L127.7 421.9L129.1 422.2L130.3 422.4L131.5 422.0L131.8 421.3L131.5 420.2L130.7 419.2L129.7 418.2L128.5 417.2L127.2 416.3L125.7 415.4L124.3 414.5L122.7 413.9L121.2 413.3L119.4 412.9L117.6 412.5L115.9 412.3L114.1 412.1L112.6 412.2L111.2 412.3L110.1 413.0Z" fill="#ffe680"/><path d="M196.7 426.7L199.7 425.5L203.0 424.1L206.5 422.7L210.0 421.4L213.5 420.0L217.0 418.7L220.3 417.6L223.3 416.7L226.3 415.9L229.2 415.1L232.1 414.4L234.8 413.9L237.3 413.4L239.7 413.2L241.7 413.1L243.3 413.3L244.7 413.7L245.8 414.4L246.7 415.2L247.3 416.1L247.6 417.3L247.6 418.6L247.3 420.1L246.7 421.7L245.5 423.5L243.8 425.5L241.7 427.7L239.4 430.1L236.9 432.6L234.4 435.1L232.1 437.6L230.0 440.0L228.2 442.5L226.5 445.2L224.9 447.9L223.3 450.6L221.8 453.3L220.2 455.8L218.5 458.0L216.7 460.0L214.7 461.7L212.7 463.3L210.7 464.7L208.5 465.9L206.4 466.9L204.2 467.7L202.1 468.2L200.0 468.3L197.9 468.1L195.8 467.5L193.8 466.6L191.7 465.5L189.6 464.2L187.5 462.8L185.4 461.4L183.3 460.0L181.1 458.6L178.5 457.0L175.9 455.3L173.3 453.5L171.0 451.8L169.0 450.0L167.5 448.3L166.7 446.7L166.6 445.1L167.1 443.6L168.0 442.0L169.4 440.5L171.0 439.1L172.8 437.6L174.8 436.3L176.7 435.0L178.6 433.8L180.8 432.7L183.1 431.7L185.6 430.7L188.2 429.8L191.0 428.8L193.8 427.8Z" fill="#ffe680"/><path d="M55.0 337.2L55.5 338.5L56.3 339.3L57.2 339.9L58.3 340.4L59.4 340.9L60.6 341.3L61.7 341.6L62.8 341.8L64.0 341.9L65.4 342.0L66.8 342.0L68.3 341.8L69.8 341.6L71.1 341.1L72.3 340.5L73.3 339.2L73.4 338.1L72.8 336.6L71.9 335.7L70.7 334.9L69.4 334.2L68.0 333.7L66.5 333.3L65.1 333.0L63.8 332.9L62.6 332.9L61.3 332.9L60.0 333.1L58.8 333.4L57.7 333.8L56.6 334.3L55.8 334.9L55.0 336.1Z" fill="#ffe680"/><path d="M69.7 365.5L69.6 367.2L70.2 368.5L71.0 369.9L72.0 371.2L73.2 372.5L74.6 373.8L76.0 374.9L77.4 375.9L78.9 376.8L80.6 377.7L82.5 378.5L84.4 379.1L86.3 379.5L88.1 379.8L89.7 379.7L91.4 378.9L92.0 377.8L91.8 375.9L91.0 374.5L89.9 373.1L88.5 371.8L87.0 370.5L85.5 369.3L84.0 368.3L82.6 367.4L81.2 366.7L79.7 365.9L78.1 365.2L76.5 364.6L74.9 364.1L73.4 363.9L71.9 363.8L70.3 364.5Z" fill="#ffe680"/><path d="M246.7 390.0L248.0 389.8L249.7 389.5L251.8 389.1L254.2 388.8L256.6 388.3L259.0 387.8L261.3 387.3L263.3 386.7L265.3 385.9L267.2 385.1L269.2 384.1L271.0 383.1L272.8 382.2L274.3 381.3L275.7 380.5L276.7 380.0" fill="none" stroke="#ffe680" stroke-width="6.0" stroke-linecap="round" stroke-linejoin="round"/><path d="M206.7 436.7L208.0 435.9L209.7 434.9L211.8 433.8L214.2 432.5L216.6 431.1L219.0 429.6L221.3 428.1L223.3 426.7L225.3 425.1L227.2 423.3L229.2 421.3L231.0 419.4L232.8 417.5L234.3 415.8L235.7 414.4L236.7 413.3" fill="none" stroke="#ffe680" stroke-width="5.0" stroke-linecap="round" stroke-linejoin="round"/><path d="M309.8 292.7L311.0 294.1L312.7 295.0L314.8 296.0L317.1 296.9L319.7 298.0L322.5 299.1L325.4 300.3L328.5 301.5L331.8 303.0L335.6 304.5L339.5 306.2L343.7 308.0L348.0 309.9L352.3 311.7L356.6 313.5L360.7 315.3L364.8 317.0L368.8 318.8L372.9 320.6L377.0 322.3L381.1 324.1L385.2 325.9L389.4 327.7L393.5 329.5L397.7 331.2L402.0 332.9L406.3 334.7L410.6 336.4L414.8 338.1L419.0 339.7L423.1 341.3L427.0 342.8L430.9 344.2L434.6 345.4L438.2 346.5L441.6 347.6L444.8 348.6L447.8 349.6L450.6 350.6L453.3 351.7L456.0 353.0L458.6 354.3L461.1 355.7L463.6 357.2L466.0 358.7L468.3 360.2L470.6 361.7L472.8 363.2L474.8 364.6L476.7 366.0L478.5 367.4L480.2 368.8L481.8 370.3L483.4 371.7L484.9 373.1L486.4 374.5L487.8 376.0L489.3 377.5L490.7 379.2L492.1 380.9L493.5 382.4L494.8 383.8L496.0 385.0L497.5 385.5L499.2 384.5L499.5 383.0L499.2 381.4L498.6 379.5L497.9 377.5L497.0 375.3L496.0 373.1L494.9 370.9L493.6 368.8L492.3 366.9L490.9 365.0L489.5 363.1L488.0 361.2L486.3 359.2L484.5 357.3L482.6 355.4L480.6 353.5L478.5 351.6L476.3 349.7L473.9 347.7L471.4 345.7L468.8 343.8L466.0 341.9L463.1 340.0L460.0 338.3L456.8 336.6L453.5 335.1L450.1 333.7L446.8 332.4L443.4 331.2L440.0 329.9L436.5 328.6L433.0 327.2L429.2 325.7L425.3 324.1L421.1 322.4L416.9 320.7L412.6 318.9L408.3 317.2L404.0 315.5L399.8 313.9L395.6 312.3L391.4 310.6L387.2 309.0L383.0 307.4L378.8 305.9L374.5 304.3L370.2 302.8L365.9 301.4L361.6 300.0L357.1 298.6L352.5 297.2L348.0 295.9L343.5 294.7L339.2 293.6L335.2 292.6L331.5 291.8L328.0 291.1L324.7 290.6L321.6 290.2L318.7 289.9L316.1 289.8L313.9 289.8L311.9 289.9L310.2 290.7Z" fill="#ffe680"/><path d="M496.7 380.0L497.4 381.5L498.3 383.6L499.4 386.0L500.6 388.8L502.0 391.6L503.5 394.5L505.0 397.4L506.7 400.0L508.4 402.5L510.3 405.1L512.3 407.7L514.4 410.3L516.5 412.9L518.8 415.4L521.0 417.7L523.3 420.0L525.7 422.2L528.1 424.3L530.6 426.4L533.1 428.4L535.7 430.3L538.3 432.1L540.8 433.6L543.3 435.0L546.0 436.1L548.8 437.1L551.7 437.8L554.6 438.4L557.3 438.9L559.7 439.3L561.8 439.7L563.3 440.0" fill="none" stroke="#ffe680" stroke-width="6.0" stroke-linecap="round" stroke-linejoin="round"/><path d="M330.0 303.3L332.5 302.9L335.6 303.4L339.3 304.5L343.5 306.2L348.1 308.3L353.0 310.6L358.1 312.9L363.3 315.0L368.9 317.2L375.2 319.6L381.9 322.3L388.8 325.0L395.6 327.7L402.1 330.4L408.1 332.8L413.3 335.0L418.1 336.9L422.9 338.7L427.4 340.4L431.5 342.0L434.9 343.4L437.6 344.6L439.4 345.7L440.0 346.7L439.3 347.4L437.5 348.1L434.6 348.5L431.0 348.9L426.9 349.0L422.4 349.0L417.8 348.8L413.3 348.3L408.7 347.6L403.6 346.6L398.2 345.4L392.5 344.0L386.7 342.5L381.0 341.0L375.4 339.6L370.0 338.3L364.6 337.3L358.8 336.6L353.0 335.9L347.3 335.2L341.9 334.4L337.1 333.3L333.1 331.9L330.0 330.0L327.9 327.3L326.4 323.7L325.6 319.7L325.4 315.4L325.8 311.3L326.7 307.7L328.1 305.0Z" fill="#ffe680"/><path d="M404.7 358.6L405.0 360.2L405.8 361.8L406.9 363.6L408.2 365.5L409.7 367.6L411.2 369.6L412.8 371.6L414.4 373.6L416.0 375.6L417.9 377.8L419.9 380.1L422.1 382.4L424.1 384.5L426.1 386.4L427.9 387.8L429.7 388.6L430.3 388.1L430.0 386.2L429.0 384.1L427.7 381.8L426.1 379.2L424.3 376.7L422.5 374.1L420.7 371.8L419.0 369.8L417.3 367.9L415.5 366.0L413.6 364.1L411.8 362.4L410.0 360.9L408.3 359.5L406.8 358.5L405.3 358.1Z" fill="#ffe680"/><path d="M373.3 428.3L375.2 427.7L377.6 426.8L380.6 425.7L383.9 424.6L387.3 423.4L390.6 422.2L393.8 421.0L396.7 420.0L399.3 419.0L402.0 418.1L404.7 417.1L407.3 416.1L409.7 415.3L411.8 414.5L413.6 413.8L415.0 413.3" fill="none" stroke="#ffe680" stroke-width="3.0" stroke-linecap="round" stroke-linejoin="round"/><path d="M405.2 490.2L406.7 491.6L408.4 492.1L410.4 492.5L412.6 492.7L415.0 492.8L417.3 492.7L419.6 492.5L421.8 492.2L423.8 491.8L425.7 491.3L427.6 490.8L429.4 490.2L431.2 489.5L433.0 488.8L434.7 488.0L436.3 487.2L437.8 486.3L439.3 485.4L440.7 484.4L442.0 483.4L443.3 482.3L444.4 481.3L445.4 480.2L446.4 479.2L447.4 478.0L448.3 476.8L449.0 475.6L449.6 474.4L450.0 473.3L450.3 472.2L450.4 471.2L449.9 469.9L448.7 468.7L447.4 468.3L446.4 468.5L445.4 468.8L444.3 469.2L443.3 469.6L442.2 470.1L441.2 470.5L440.2 470.8L439.2 471.2L438.0 471.7L436.8 472.2L435.5 472.7L434.3 473.2L433.0 473.8L431.7 474.3L430.4 474.8L429.0 475.3L427.6 475.9L426.1 476.5L424.5 477.1L423.0 477.8L421.4 478.4L419.8 479.1L418.2 479.8L416.6 480.5L414.7 481.4L412.7 482.3L410.7 483.3L408.8 484.3L407.1 485.4L405.7 486.6L404.8 488.5Z" fill="#ffe680"/><path d="M451.7 466.7L451.8 465.1L452.0 463.1L452.3 460.6L452.6 457.9L452.9 455.0L453.2 452.1L453.6 449.3L454.0 446.7L454.4 444.1L454.8 441.5L455.3 438.9L455.8 436.4L456.3 433.8L456.9 431.3L457.6 428.9L458.3 426.7L459.1 424.5L460.0 422.3L460.9 420.2L461.9 418.2L463.0 416.3L464.1 414.6L465.4 413.0L466.7 411.7L468.2 410.5L470.0 409.6L471.9 408.8L473.9 408.2L475.8 407.7L477.5 407.3L478.9 407.0L480.0 406.7" fill="none" stroke="#ffe680" stroke-width="8.0" stroke-linecap="round" stroke-linejoin="round"/><path d="M461.8 478.2L463.1 480.1L464.7 481.0L466.4 481.7L468.4 482.1L470.4 482.4L472.4 482.5L474.3 482.5L476.0 482.3L477.8 481.9L479.6 481.4L481.5 480.7L483.4 479.9L485.1 478.9L486.5 477.7L487.7 476.4L488.5 474.2L488.2 472.5L486.9 470.5L485.3 469.6L483.6 469.0L481.6 468.5L479.6 468.2L477.6 468.1L475.7 468.2L474.0 468.4L472.2 468.7L470.4 469.2L468.5 469.9L466.6 470.8L464.9 471.8L463.5 472.9L462.3 474.2L461.5 476.5Z" fill="#ffe680"/><path d="M490.0 472.9L491.5 474.2L493.6 474.9L496.1 475.4L498.7 475.9L501.6 476.3L504.4 476.7L507.1 477.0L509.6 477.4L511.9 477.8L514.4 478.2L516.8 478.6L519.3 479.1L521.8 479.5L524.3 479.9L526.8 480.2L529.2 480.5L531.5 480.7L534.0 480.9L536.5 481.0L538.9 481.1L541.2 481.2L543.3 481.1L545.0 480.8L546.5 479.9L546.8 478.7L545.8 477.3L544.2 476.4L542.4 475.5L540.3 474.6L538.0 473.7L535.6 472.9L533.2 472.2L530.8 471.5L528.5 470.9L526.1 470.3L523.7 469.8L521.1 469.2L518.5 468.8L515.8 468.4L513.1 468.1L510.4 467.9L507.6 467.9L504.7 468.0L501.7 468.3L498.8 468.7L496.0 469.2L493.6 469.8L491.5 470.5L490.0 471.7Z" fill="#ffe680"/><path d="M456.7 460.0L458.4 458.6L460.5 457.6L463.1 457.1L466.0 456.8L469.2 456.7L472.7 456.7L476.3 456.7L480.0 456.7L484.0 456.6L488.4 456.6L493.1 456.7L497.9 456.9L502.8 457.1L507.7 457.4L512.3 457.9L516.7 458.3L520.9 458.9L525.3 459.5L529.7 460.1L534.0 460.8L537.9 461.7L541.4 462.6L544.4 463.7L546.7 465.0L548.3 466.6L549.5 468.6L550.2 470.8L550.4 473.1L550.2 475.4L549.5 477.3L548.3 478.9L546.7 480.0L544.4 480.4L541.4 480.3L537.9 479.8L534.0 479.1L529.7 478.2L525.3 477.5L520.9 476.9L516.7 476.7L512.3 476.8L507.7 477.0L502.8 477.4L497.9 477.9L493.1 478.5L488.4 479.0L484.0 479.5L480.0 480.0L476.3 480.6L472.7 481.5L469.2 482.4L466.0 483.3L463.1 484.0L460.5 484.4L458.4 484.2L456.7 483.3L455.4 481.6L454.5 478.9L453.9 475.7L453.8 472.1L453.9 468.5L454.5 465.1L455.4 462.1Z" fill="#ffe680"/><path d="M570.1 341.8L568.8 343.0L568.3 344.5L568.0 346.2L567.7 348.1L567.7 350.1L567.8 352.2L568.1 354.4L568.6 356.5L569.3 358.6L570.2 360.7L571.3 362.9L572.6 365.0L574.0 366.9L575.4 368.5L576.8 369.7L578.8 370.2L579.9 369.8L580.9 368.0L581.0 366.1L580.8 363.9L580.4 361.7L579.9 359.4L579.3 357.2L578.7 355.2L578.1 353.5L577.5 352.0L576.9 350.2L576.2 348.5L575.5 346.7L574.7 345.1L573.8 343.6L572.9 342.3L571.3 341.6Z" fill="#ffe680"/><path d="M606.4 387.8L606.2 389.3L606.5 390.3L607.0 391.3L607.7 392.3L608.4 393.1L609.2 393.9L609.9 394.6L610.5 395.2L611.2 395.7L612.1 396.3L613.1 396.9L614.1 397.4L615.3 397.9L616.4 398.2L617.5 398.3L619.0 397.7L619.7 396.9L620.2 395.5L620.1 394.4L619.8 393.3L619.4 392.1L618.7 391.0L618.0 389.9L617.1 389.0L616.1 388.1L615.1 387.4L614.0 386.8L612.8 386.4L611.6 386.0L610.4 385.9L609.2 385.9L608.2 386.0L607.0 386.9Z" fill="#ffe680"/><path d="M584.8 441.2L585.6 442.8L586.9 443.9L588.6 445.1L590.6 446.2L592.7 447.3L594.9 448.2L597.1 449.0L599.2 449.6L601.2 450.0L603.1 450.3L605.0 450.5L607.0 450.6L608.8 450.6L610.7 450.4L612.6 450.1L614.4 449.7L616.3 449.1L618.0 448.4L619.5 447.5L620.9 446.6L622.2 445.6L623.3 444.7L624.3 443.9L625.1 443.1L626.1 442.3L626.9 441.4L627.7 440.6L628.4 439.8L629.0 439.0L629.4 438.2L629.7 437.5L629.7 436.5L629.0 435.5L628.1 435.1L627.3 435.2L626.4 435.4L625.5 435.6L624.6 435.9L623.6 436.2L622.6 436.6L621.5 436.9L620.3 437.4L619.1 437.9L617.8 438.4L616.6 438.9L615.5 439.4L614.3 439.8L613.3 440.1L612.3 440.3L611.1 440.4L609.8 440.5L608.5 440.6L607.0 440.6L605.5 440.6L603.9 440.5L602.3 440.5L600.8 440.4L599.1 440.2L597.1 440.0L595.0 439.7L592.7 439.5L590.6 439.2L588.5 439.2L586.7 439.3L585.2 440.1Z" fill="#ffe680"/><path d="M533.3 420.0L535.6 419.6L538.7 419.2L542.4 418.7L546.5 418.1L550.8 417.5L555.1 416.7L559.4 415.9L563.3 415.0L567.0 414.0L570.7 413.0L574.3 411.8L577.9 410.6L581.6 409.3L585.4 408.0L589.3 406.5L593.3 405.0L597.8 403.3L602.9 401.2L608.2 399.1L613.5 396.9L618.6 394.7L623.3 392.8L627.1 391.2L630.0 390.0" fill="none" stroke="#ffe680" stroke-width="7.0" stroke-linecap="round" stroke-linejoin="round"/><path d="M543.3 436.7L546.0 436.6L549.5 436.5L553.7 436.5L558.3 436.4L563.2 436.2L568.0 435.9L572.6 435.5L576.7 435.0L580.3 434.3L583.8 433.5L587.2 432.6L590.4 431.6L593.6 430.5L596.8 429.3L600.0 428.0L603.3 426.7L606.8 425.1L610.6 423.4L614.5 421.4L618.3 419.5L622.0 417.6L625.2 415.8L627.9 414.4L630.0 413.3" fill="none" stroke="#ffe680" stroke-width="6.0" stroke-linecap="round" stroke-linejoin="round"/><path d="M503.3 341.7L503.8 343.3L504.4 345.4L505.1 348.0L505.9 350.8L506.8 353.9L507.8 357.1L508.9 360.2L510.0 363.3L511.2 366.5L512.6 369.7L514.2 373.1L515.7 376.6L517.3 380.0L518.9 383.5L520.3 386.8L521.7 390.0L522.9 393.2L524.2 396.6L525.4 400.0L526.6 403.3L527.6 406.4L528.6 409.2L529.4 411.6L530.0 413.3" fill="none" stroke="#ffe680" stroke-width="5.0" stroke-linecap="round" stroke-linejoin="round"/><path d="M656.7 288.3L666.2 287.6L680.3 286.8L697.5 286.1L716.7 285.7L736.5 285.5L755.6 285.8L772.7 286.7L786.7 288.3L797.9 290.8L808.0 294.0L816.9 297.9L824.8 302.2L831.6 306.7L837.5 311.3L842.5 315.8L846.7 320.0L849.9 324.3L852.0 329.1L853.1 334.1L853.3 339.1L852.7 343.6L851.4 347.4L849.3 350.2L846.7 351.7L843.0 351.6L838.1 350.1L832.3 347.5L825.8 344.3L819.1 340.7L812.3 337.2L805.8 334.0L800.0 331.7L794.7 329.9L789.8 328.5L785.0 327.2L780.2 326.1L775.4 325.1L770.5 324.0L765.4 322.9L760.0 321.7L754.1 320.3L747.8 319.0L741.2 317.6L734.6 316.3L728.0 314.9L721.6 313.5L715.5 312.1L710.0 310.7L704.9 309.3L700.2 307.8L695.7 306.4L691.5 305.0L687.5 303.6L683.7 302.2L680.1 300.7L676.7 299.3L672.5 297.9L667.2 296.3L661.6 294.7L656.5 293.1L652.6 291.6L650.8 290.3L651.9 289.2Z" fill="#ffe680"/><path d="M689.8 286.5L691.9 288.2L694.9 289.6L698.5 291.0L702.5 292.6L706.7 294.2L711.0 295.7L715.0 297.3L718.6 298.7L722.0 300.1L725.2 301.6L728.5 303.2L731.7 304.8L734.9 306.3L738.2 307.9L741.6 309.4L745.0 310.8L748.4 312.2L751.7 313.4L755.1 314.7L758.5 315.8L761.9 317.0L765.3 318.1L768.6 319.2L772.0 320.3L775.6 321.4L779.4 322.6L783.4 323.8L787.3 324.9L791.1 325.9L794.5 326.7L797.4 327.3L799.8 327.2L800.2 326.2L798.5 324.5L795.9 323.0L792.8 321.4L789.3 319.7L785.6 317.9L781.8 316.2L778.1 314.6L774.7 313.1L771.4 311.7L768.1 310.3L764.8 309.0L761.5 307.7L758.2 306.4L754.9 305.1L751.6 303.8L748.4 302.5L745.1 301.1L741.9 299.7L738.7 298.3L735.4 296.8L732.0 295.3L728.6 293.9L725.0 292.5L721.4 291.3L717.4 290.1L713.1 289.0L708.6 287.9L704.1 287.0L699.9 286.2L696.0 285.6L692.8 285.2L690.2 285.5Z" fill="#ffe680"/><path d="M796.5 325.4L797.5 327.2L799.4 328.7L801.7 330.3L804.3 332.1L807.1 333.8L809.8 335.4L812.5 337.0L814.8 338.4L817.0 339.7L819.1 341.0L821.2 342.2L823.2 343.5L825.3 344.7L827.3 345.9L829.4 347.0L831.5 348.1L833.7 349.2L836.0 350.2L838.3 351.2L840.6 352.1L842.8 352.9L844.8 353.5L846.5 353.9L848.1 353.8L848.6 352.9L847.9 351.5L846.6 350.2L845.0 348.9L843.2 347.5L841.2 346.0L839.1 344.6L837.1 343.2L835.1 341.9L833.3 340.6L831.4 339.3L829.4 338.0L827.4 336.7L825.3 335.4L823.1 334.1L820.9 332.8L818.5 331.6L815.9 330.4L813.0 329.1L810.0 327.8L806.9 326.7L804.0 325.7L801.3 324.9L798.9 324.4L796.9 324.6Z" fill="#ffe680"/><path d="M751.5 379.8L753.3 381.7L756.2 383.4L759.6 385.2L763.5 387.1L767.5 389.0L771.5 390.9L775.3 392.5L778.6 393.9L781.4 395.0L784.0 396.0L786.4 396.9L788.7 397.8L791.0 398.6L793.4 399.4L796.0 400.2L798.8 401.0L801.9 401.8L805.2 402.7L808.7 403.5L812.2 404.3L815.8 405.0L819.3 405.7L822.6 406.4L825.8 406.9L829.0 407.5L832.2 408.0L835.4 408.5L838.6 408.8L841.5 409.2L844.1 409.3L846.4 409.4L848.2 408.9L848.5 407.8L847.0 406.6L845.0 405.6L842.5 404.6L839.8 403.7L836.8 402.6L833.7 401.6L830.6 400.7L827.5 399.7L824.4 398.8L821.1 397.9L817.7 396.9L814.3 395.9L810.8 395.0L807.4 394.1L804.2 393.2L801.2 392.3L798.5 391.6L796.1 390.8L793.8 390.1L791.5 389.4L789.3 388.7L786.9 387.9L784.3 387.1L781.4 386.1L778.0 385.1L774.1 383.9L770.0 382.6L765.7 381.4L761.5 380.2L757.7 379.3L754.5 378.7L751.9 378.8Z" fill="#ffe680"/><path d="M760.0 414.0L763.0 413.9L767.0 413.7L771.8 413.5L777.1 413.3L782.8 413.0L788.6 412.7L794.4 412.4L800.0 412.0L805.8 411.5L812.3 410.9L819.1 410.2L825.8 409.5L832.3 408.9L838.1 408.2L843.0 407.7L846.7 407.3" fill="none" stroke="#ffe680" stroke-width="4.0" stroke-linecap="round" stroke-linejoin="round"/><path d="M761.6 502.5L762.7 501.2L763.1 499.6L763.4 497.7L763.6 495.7L763.8 493.7L764.0 491.7L764.3 490.1L764.6 488.8L765.0 487.6L765.4 486.4L765.9 485.4L766.4 484.4L766.9 483.5L767.4 482.7L768.0 482.0L768.5 481.5L769.1 481.0L769.8 480.5L770.6 480.1L771.5 479.6L772.6 479.0L773.8 478.5L775.0 478.0L776.3 477.5L777.6 477.1L778.8 476.7L780.1 476.3L781.4 476.0L782.9 475.7L784.4 475.4L786.1 475.1L787.9 474.9L790.0 474.6L792.2 474.3L794.5 474.0L796.9 473.8L799.4 473.6L801.9 473.4L804.3 473.2L806.7 473.1L809.0 473.0L811.2 473.0L813.5 473.0L815.8 473.0L818.2 473.1L820.6 473.1L823.1 473.2L825.8 473.3L828.6 473.5L831.8 473.6L835.2 473.8L838.7 473.9L842.0 473.9L845.1 473.8L847.7 473.5L849.8 472.3L850.2 470.4L848.7 468.5L846.4 467.2L843.6 465.9L840.5 464.7L837.2 463.5L833.8 462.4L830.6 461.4L827.6 460.7L824.9 460.0L822.2 459.5L819.7 459.0L817.1 458.6L814.5 458.2L811.9 457.9L809.3 457.7L806.7 457.6L803.9 457.5L801.1 457.6L798.3 457.7L795.6 457.9L792.8 458.1L790.2 458.4L787.7 458.8L785.4 459.1L783.2 459.5L781.2 460.0L779.2 460.5L777.3 461.0L775.5 461.6L773.7 462.3L772.0 463.0L770.3 463.8L768.7 464.6L767.1 465.5L765.5 466.5L764.0 467.5L762.4 468.7L760.9 470.0L759.4 471.5L758.1 473.2L757.1 474.9L756.2 476.7L755.5 478.5L754.9 480.3L754.5 482.2L754.2 484.0L754.1 485.9L754.1 487.9L754.2 490.0L754.6 492.3L755.2 494.5L755.9 496.7L756.6 498.7L757.5 500.4L758.4 501.8L759.7 502.8Z" fill="#ffe680"/><path d="M753.3 461.7L756.9 461.5L761.7 461.3L767.4 461.0L773.8 460.7L780.4 460.5L787.2 460.2L793.8 460.1L800.0 460.0L806.2 460.1L812.8 460.2L819.6 460.5L826.2 460.7L832.6 461.0L838.3 461.3L843.1 461.5L846.7 461.7" fill="none" stroke="#ffe680" stroke-width="6.0" stroke-linecap="round" stroke-linejoin="round"/><path d="M158.3 530.0L159.3 529.2L160.8 528.9L162.9 529.1L165.2 529.7L167.8 530.7L170.4 531.9L172.8 533.4L175.0 535.0L177.0 536.9L179.0 539.3L180.9 542.0L182.9 545.0L184.8 548.0L186.6 551.1L188.3 554.0L190.0 556.7L191.5 559.2L192.7 561.8L193.8 564.4L194.9 566.9L196.0 569.2L197.3 571.5L198.8 573.5L200.7 575.3L202.9 576.9L205.4 578.3L208.1 579.6L211.0 580.7L214.0 581.6L217.1 582.4L220.2 582.9L223.3 583.3L226.5 583.5L229.7 583.3L233.0 583.0L236.4 582.5L239.8 581.9L243.2 581.2L246.6 580.6L250.0 580.0L253.5 579.4L257.1 578.6L260.9 577.8L264.6 576.9L268.1 576.2L271.4 575.5L274.3 575.1L276.7 575.0L278.7 575.2L280.5 575.6L282.1 576.3L283.3 577.1L284.2 578.0L284.5 578.9L284.2 579.8L283.3 580.7L281.6 581.5L279.2 582.5L276.1 583.5L272.5 584.5L268.6 585.5L264.6 586.4L260.5 587.3L256.7 588.0L252.8 588.7L248.6 589.3L244.4 590.0L240.0 590.5L235.6 590.9L231.4 591.2L227.2 591.4L223.3 591.3L219.6 591.1L216.0 590.7L212.4 590.1L209.0 589.4L205.7 588.5L202.5 587.6L199.5 586.5L196.7 585.3L194.0 584.1L191.6 582.6L189.3 581.1L187.2 579.5L185.1 577.7L183.2 575.9L181.2 574.0L179.3 572.0L177.4 570.0L175.6 567.8L173.8 565.6L172.1 563.3L170.4 560.9L168.8 558.5L167.4 555.9L166.0 553.3L164.6 550.4L163.1 547.2L161.6 543.7L160.3 540.2L159.2 536.9L158.4 534.0L158.1 531.6Z" fill="#ffe680"/><path d="M285.0 533.3L285.9 535.1L287.2 537.4L288.7 540.2L290.4 543.3L292.1 546.6L293.7 550.1L295.0 553.4L296.0 556.7L296.7 559.8L297.3 563.1L297.8 566.4L298.1 569.8L298.3 573.2L298.2 576.6L297.9 580.0L297.3 583.3L296.5 586.7L295.3 590.1L293.9 593.5L292.3 596.9L290.5 600.2L288.7 603.6L286.8 606.8L285.0 610.0L283.0 613.2L280.7 616.6L278.3 620.0L275.9 623.3L273.6 626.4L271.4 629.2L269.6 631.6L268.3 633.3" fill="none" stroke="#ffe680" stroke-width="3.0" stroke-linecap="round" stroke-linejoin="round"/><path d="M303.3 536.7L303.8 538.4L304.4 540.8L305.1 543.6L305.9 546.7L306.7 550.0L307.4 553.4L308.0 556.8L308.3 560.0L308.5 563.2L308.6 566.5L308.6 569.9L308.5 573.3L308.3 576.8L307.9 580.2L307.4 583.5L306.7 586.7L305.6 589.9L304.2 593.3L302.5 596.7L300.7 600.0L299.0 603.1L297.3 605.9L296.0 608.2L295.0 610.0" fill="none" stroke="#ffe680" stroke-width="2.5" stroke-linecap="round" stroke-linejoin="round"/><path d="M313.3 596.7L312.8 598.5L312.1 600.9L311.3 603.8L310.4 607.0L309.3 610.3L308.1 613.7L306.7 617.0L305.0 620.0L302.9 622.9L300.4 626.0L297.5 629.2L294.5 632.3L291.5 635.2L288.9 637.8L286.6 640.0L285.0 641.7" fill="none" stroke="#ffe680" stroke-width="2.5" stroke-linecap="round" stroke-linejoin="round"/><path d="M280.0 580.0L279.3 581.4L278.4 583.3L277.4 585.5L276.2 588.0L274.9 590.6L273.4 593.3L271.8 595.9L270.0 598.3L267.8 600.8L265.2 603.5L262.4 606.2L259.4 609.0L256.5 611.6L253.8 613.9L251.6 615.9L250.0 617.3" fill="none" stroke="#ffe680" stroke-width="2.5" stroke-linecap="round" stroke-linejoin="round"/><path d="M263.3 533.3L264.4 534.1L265.9 535.1L267.6 536.4L269.6 537.7L271.6 539.1L273.5 540.6L275.2 542.0L276.7 543.3L277.9 544.7L279.0 546.1L279.9 547.5L280.8 549.0L281.6 550.3L282.3 551.5L282.9 552.6L283.3 553.3" fill="none" stroke="#ffe680" stroke-width="2.5" stroke-linecap="round" stroke-linejoin="round"/><path d="M190.0 590.7L192.1 590.9L194.8 591.2L198.0 591.5L201.7 591.9L205.5 592.3L209.4 592.5L213.2 592.7L216.7 592.7L220.2 592.4L224.0 592.0L227.8 591.4L231.7 590.8L235.3 590.1L238.5 589.5L241.3 589.0L243.3 588.7" fill="none" stroke="#ffe680" stroke-width="2.5" stroke-linecap="round" stroke-linejoin="round"/><path d="M316.7 530.0L317.8 527.7L319.4 525.4L321.4 523.2L323.6 521.0L326.1 518.9L328.6 517.0L331.0 515.1L333.3 513.3L335.7 511.3L338.2 508.8L340.9 506.2L343.5 503.8L346.1 501.9L348.3 501.0L350.2 501.3L351.7 503.3L352.7 507.6L353.4 514.1L353.8 522.0L354.0 530.8L353.8 539.7L353.4 548.0L352.7 555.0L351.7 560.0L350.2 563.1L348.3 565.0L345.9 565.9L343.3 566.0L340.6 565.6L338.0 564.9L335.5 564.1L333.3 563.3L331.4 562.5L329.4 561.3L327.5 559.8L325.7 558.1L324.0 556.2L322.5 554.2L321.2 552.1L320.0 550.0L319.0 547.8L318.0 545.4L317.1 542.8L316.5 540.2L316.0 537.5L315.9 534.9L316.1 532.4Z" fill="#ffe680"/><path d="M264.0 696.7L264.4 698.0L264.9 699.8L265.5 702.0L266.2 704.4L266.9 706.9L267.8 709.3L268.9 711.5L270.0 713.3L271.3 714.9L272.7 716.5L274.2 717.9L275.8 719.2L277.5 720.4L279.4 721.3L281.3 722.1L283.3 722.7L285.7 722.9L288.3 722.8L291.2 722.4L294.2 721.9L297.0 721.3L299.6 720.8L301.7 720.3L303.3 720.0" fill="none" stroke="#ffe680" stroke-width="4.0" stroke-linecap="round" stroke-linejoin="round"/><path d="M265.0 730.0L266.4 729.6L268.3 728.9L270.5 728.2L272.9 727.4L275.5 726.6L278.2 725.9L280.8 725.3L283.3 725.0L285.8 724.9L288.4 724.9L291.0 725.1L293.6 725.3L296.2 725.6L298.8 726.0L301.1 726.3L303.3 726.7L305.4 727.0L307.4 727.5L309.4 727.9L311.2 728.4L312.9 728.9L314.4 729.4L315.7 729.7L316.7 730.0" fill="none" stroke="#ffe680" stroke-width="5.0" stroke-linecap="round" stroke-linejoin="round"/><path d="M313.3 733.3L314.2 731.4L315.4 729.1L317.0 726.6L318.8 724.0L320.7 721.2L322.7 718.5L324.7 715.8L326.7 713.3L328.6 710.9L330.8 708.3L333.0 705.8L335.3 703.2L337.5 700.8L339.7 698.6L341.6 696.6L343.3 695.0L344.8 693.3L346.2 691.5L347.4 689.7L348.5 688.1L349.5 687.1L350.4 687.0L351.1 687.8L351.7 690.0L352.3 694.1L353.1 700.1L353.8 707.5L354.4 715.5L354.6 723.6L354.3 731.1L353.4 737.3L351.7 741.7L348.8 744.2L344.6 745.5L339.7 745.8L334.4 745.4L329.0 744.5L324.0 743.5L319.8 742.4L316.7 741.7L314.6 741.1L313.2 740.4L312.4 739.7L312.0 738.7L312.0 737.7L312.3 736.4L312.7 735.0Z" fill="#ffe680"/><path d="M350.0 513.3L350.5 510.6L351.5 508.3L353.0 506.3L354.7 504.6L356.5 503.1L358.4 501.9L360.2 500.9L361.7 500.0L363.1 499.1L364.5 498.3L366.0 497.6L367.4 497.1L368.7 497.0L369.9 497.3L370.9 498.3L371.7 500.0L372.1 502.6L372.2 506.1L372.0 510.4L371.8 515.0L371.5 519.9L371.3 524.7L371.3 529.3L371.7 533.3L372.3 537.0L373.0 540.7L373.8 544.2L374.8 547.6L375.9 550.9L377.1 554.1L378.5 557.1L380.0 560.0L381.6 562.8L383.3 565.4L385.2 567.9L387.2 570.3L389.3 572.5L391.6 574.6L394.0 576.5L396.7 578.3L399.7 580.0L403.1 581.5L406.8 583.0L410.6 584.2L414.4 585.3L417.8 586.2L420.9 586.9L423.3 587.3L425.1 587.4L426.5 587.0L427.4 586.3L428.1 585.5L428.6 584.6L429.0 583.9L429.5 583.4L430.0 583.3L430.7 583.7L431.5 584.2L432.4 585.0L433.1 586.0L433.7 587.0L434.0 588.0L433.9 589.1L433.3 590.0L432.3 591.0L430.7 592.1L428.8 593.3L426.7 594.4L424.3 595.5L421.8 596.4L419.2 597.0L416.7 597.3L414.1 597.4L411.3 597.2L408.4 596.9L405.4 596.3L402.4 595.5L399.3 594.5L396.3 593.2L393.3 591.7L390.3 589.7L387.2 587.4L384.1 584.8L380.9 581.9L377.9 579.0L375.0 575.9L372.4 572.9L370.0 570.0L368.0 567.2L366.2 564.5L364.6 561.8L363.2 559.1L362.0 556.2L360.7 553.2L359.6 550.1L358.3 546.7L357.0 542.8L355.5 538.6L354.1 534.0L352.7 529.4L351.5 524.8L350.6 520.5L350.1 516.6Z" fill="#ffe680"/><path d="M336.7 700.0L338.3 695.4L340.3 690.8L342.5 686.4L345.0 682.1L347.7 677.9L350.6 674.0L353.6 670.2L356.7 666.7L359.9 663.4L363.3 660.3L366.9 657.4L370.6 654.7L374.5 652.1L378.5 649.7L382.5 647.3L386.7 645.0L391.0 642.7L395.8 640.4L400.7 638.2L405.6 636.1L410.5 634.2L415.2 632.5L419.5 631.1L423.3 630.0L426.9 629.2L430.3 628.6L433.5 628.2L436.5 628.0L439.0 628.1L441.1 628.5L442.5 629.1L443.3 630.0L443.3 631.3L442.5 632.9L441.1 634.9L439.2 637.1L437.0 639.4L434.6 641.9L432.2 644.3L430.0 646.7L427.8 649.0L425.3 651.3L422.7 653.6L420.0 656.0L417.3 658.5L414.7 661.1L412.2 663.8L410.0 666.7L408.0 669.7L406.3 672.9L404.7 676.2L403.1 679.6L401.6 683.0L400.1 686.5L398.4 690.0L396.7 693.3L394.8 696.7L393.0 700.1L391.2 703.6L389.4 707.0L387.4 710.4L385.2 713.7L382.7 716.9L380.0 720.0L376.8 723.1L373.1 726.3L369.1 729.4L365.0 732.5L360.9 735.3L356.9 737.9L353.2 740.0L350.0 741.7L347.1 743.0L344.4 744.2L341.9 745.1L339.6 745.6L337.5 745.7L335.8 745.1L334.4 743.8L333.3 741.7L332.7 738.4L332.4 734.0L332.4 728.7L332.7 722.9L333.3 716.8L334.2 710.8L335.3 705.1Z" fill="#ffe680"/><path d="M574.9 641.8L576.0 643.1L577.7 644.2L579.8 645.3L582.1 646.4L584.7 647.4L587.5 648.4L590.2 649.2L592.9 649.7L595.5 650.0L598.1 650.3L600.8 650.4L603.4 650.4L606.1 650.2L608.8 650.0L611.5 649.6L614.1 649.0L616.8 648.2L619.5 647.2L622.2 645.9L624.8 644.6L627.2 643.2L629.2 641.9L630.8 640.6L631.8 639.1L631.5 638.2L629.7 637.9L627.6 638.2L625.3 638.7L622.7 639.3L620.0 640.0L617.4 640.7L614.9 641.3L612.6 641.7L610.3 641.9L608.0 642.1L605.6 642.3L603.2 642.4L600.8 642.4L598.4 642.4L596.0 642.4L593.8 642.3L591.5 642.1L588.9 641.8L586.3 641.4L583.7 641.0L581.2 640.7L578.8 640.4L576.8 640.3L575.1 640.9Z" fill="#ffe680"/><path d="M503.3 500.0L505.0 503.4L507.2 507.9L510.0 513.2L512.9 519.2L515.9 525.4L518.8 531.7L521.3 537.8L523.3 543.3L524.8 548.7L525.8 554.1L526.5 559.6L527.1 565.0L527.6 570.2L528.2 575.1L528.9 579.5L530.0 583.3L531.3 586.6L532.6 589.3L533.9 591.6L535.4 593.5L537.1 595.2L538.9 596.8L541.0 598.4L543.3 600.0L546.1 601.7L549.2 603.3L552.6 604.8L556.2 606.2L559.9 607.5L563.5 608.7L566.9 609.8L570.0 610.7L573.0 611.4L575.9 612.0L578.9 612.4L581.7 612.7L584.3 612.9L586.6 613.0L588.5 613.2L590.0 613.3" fill="none" stroke="#ffe680" stroke-width="3.0" stroke-linecap="round" stroke-linejoin="round"/><path d="M573.3 546.7L574.6 545.9L576.4 545.3L578.7 544.9L581.2 544.5L583.8 544.4L586.3 544.4L588.4 544.6L590.0 545.0L591.2 545.7L592.2 546.9L593.1 548.2L593.8 549.8L594.1 551.3L594.2 552.8L594.0 554.0L593.3 555.0L592.1 555.7L590.3 556.4L588.0 557.0L585.4 557.5L582.8 557.7L580.4 557.8L578.2 557.7L576.7 557.3L575.5 556.6L574.4 555.4L573.6 553.9L572.9 552.2L572.5 550.6L572.4 549.0L572.7 547.7Z" fill="#ffe680"/><path d="M600.0 641.7L602.5 640.6L605.6 639.3L609.3 637.6L613.5 635.8L618.1 633.9L623.0 632.0L628.1 630.1L633.3 628.3L638.8 626.6L644.7 624.9L650.9 623.1L657.3 621.3L663.9 619.6L670.4 617.9L677.0 616.4L683.3 615.0L689.6 613.8L695.8 612.7L701.9 611.8L708.1 611.0L714.3 610.1L720.6 609.3L726.9 608.4L733.3 607.3L739.9 606.2L746.6 605.1L753.4 603.9L760.2 602.6L767.0 601.4L773.7 600.1L780.3 598.7L786.7 597.3L793.1 595.8L799.9 594.1L806.7 592.3L813.3 590.5L819.5 588.8L825.1 587.3L829.8 586.0L833.3 585.0" fill="none" stroke="#ffe680" stroke-width="5.0" stroke-linecap="round" stroke-linejoin="round"/><path d="M700.1 580.5L703.1 581.1L706.9 581.0L711.4 580.5L716.4 579.9L721.4 579.2L726.3 578.4L730.7 577.6L734.3 576.9L737.2 576.3L739.7 575.8L741.9 575.3L743.8 574.8L745.7 574.3L747.5 573.8L749.4 573.2L751.4 572.6L753.5 571.8L755.7 571.0L758.0 570.1L760.2 569.2L762.4 568.2L764.5 567.2L766.5 566.1L768.5 565.0L770.3 563.9L772.0 562.7L773.7 561.4L775.2 560.1L776.7 558.8L778.0 557.6L779.1 556.3L780.2 555.1L781.0 553.8L781.7 552.5L782.2 551.3L782.4 550.1L782.5 549.1L782.6 548.2L782.5 547.5L782.2 546.9L781.2 546.5L780.4 546.8L780.0 547.4L779.5 548.1L779.0 548.8L778.5 549.6L777.9 550.3L777.3 550.9L776.5 551.6L775.5 552.3L774.3 553.1L772.9 554.0L771.4 554.9L769.9 555.8L768.2 556.7L766.6 557.5L764.9 558.3L763.1 559.1L761.2 559.8L759.2 560.6L757.1 561.3L755.0 562.0L752.8 562.7L750.7 563.4L748.6 564.1L746.7 564.7L745.0 565.2L743.3 565.7L741.6 566.1L739.8 566.6L737.7 567.1L735.2 567.7L732.4 568.4L728.8 569.4L724.5 570.5L719.8 571.8L714.9 573.3L710.2 574.8L705.9 576.3L702.3 577.7L699.9 579.5Z" fill="#ffe680"/><path d="M686.7 585.0L690.0 584.4L693.3 583.8L696.7 583.1L700.0 582.5L703.3 581.9L706.7 581.2L710.0 580.6L713.3 580.0" fill="none" stroke="#ffe680" stroke-width="4.0" stroke-linecap="round" stroke-linejoin="round"/><path d="M627.1 638.0L629.2 639.0L631.1 639.1L633.2 638.8L635.5 638.2L637.7 637.4L639.9 636.3L642.0 635.2L643.9 633.9L645.6 632.4L647.3 630.8L648.8 629.0L650.2 627.1L651.3 625.2L652.1 623.3L652.6 621.5L652.2 619.3L651.2 618.1L649.0 617.4L647.1 617.7L645.1 618.3L643.2 619.2L641.2 620.2L639.3 621.3L637.6 622.4L636.1 623.5L634.6 624.6L633.0 625.9L631.3 627.4L629.7 629.1L628.3 630.8L627.1 632.6L626.2 634.3L626.2 636.7Z" fill="#ffe680"/><path d="M593.4 647.9L595.2 649.0L597.3 649.5L599.9 649.8L602.8 649.9L605.9 649.8L608.9 649.5L611.9 649.0L614.7 648.3L617.3 647.3L619.9 646.0L622.3 644.6L624.6 643.0L626.6 641.4L628.3 639.8L629.6 638.3L630.2 636.5L629.8 635.5L627.9 635.0L625.9 635.3L623.6 635.8L621.2 636.6L618.8 637.4L616.4 638.3L614.1 639.0L612.0 639.7L609.8 640.3L607.3 640.9L604.5 641.7L601.8 642.4L599.1 643.3L596.7 644.2L594.6 645.2L593.3 646.8Z" fill="#ffe680"/><path d="M760.0 533.3L760.2 531.5L761.4 529.1L763.5 526.4L766.2 523.5L769.5 520.6L773.0 517.8L776.5 515.3L780.0 513.3L783.5 511.8L787.4 510.7L791.5 509.7L795.7 509.0L800.1 508.3L804.6 507.8L809.0 507.2L813.3 506.7L817.9 505.9L822.8 505.0L827.9 504.0L832.9 503.1L837.7 502.5L842.0 502.2L845.6 502.5L848.3 503.3L850.2 505.1L851.6 507.8L852.4 511.2L852.7 514.8L852.4 518.5L851.6 521.8L850.2 524.7L848.3 526.7L845.6 527.7L841.8 528.1L837.4 527.9L832.5 527.5L827.4 526.9L822.3 526.5L817.5 526.3L813.3 526.7L809.6 527.6L806.1 528.9L802.7 530.5L799.5 532.2L796.3 533.9L793.1 535.4L789.9 536.6L786.7 537.3L783.0 537.6L778.9 537.7L774.6 537.6L770.4 537.2L766.6 536.6L763.4 535.8L761.1 534.7Z" fill="#ffe680"/><path d="M829.9 503.4L830.3 505.4L831.1 506.6L832.2 507.7L833.5 508.6L834.8 509.4L836.2 509.9L837.6 510.3L838.9 510.5L840.2 510.6L841.5 510.6L842.8 510.4L844.1 510.1L845.3 509.7L846.4 509.1L847.3 508.3L848.2 506.7L848.4 505.3L848.1 503.5L847.4 502.5L846.5 501.6L845.5 500.8L844.4 500.1L843.3 499.6L842.2 499.1L841.1 498.8L839.9 498.5L838.5 498.4L837.0 498.4L835.5 498.6L834.0 498.9L832.6 499.5L831.3 500.2L830.1 502.0Z" fill="#ffe680"/><path d="M263.3 720.0L264.5 719.2L266.1 718.8L268.3 718.7L270.8 718.6L273.7 718.6L276.8 718.3L280.0 717.7L283.3 716.7L286.9 715.0L290.7 712.7L294.8 710.1L299.1 707.3L303.5 704.5L307.9 702.0L312.3 699.9L316.7 698.3L321.2 697.2L326.1 696.1L331.2 695.2L336.2 694.6L341.0 694.5L345.3 695.0L349.0 696.2L351.7 698.3L353.5 701.8L354.6 706.6L355.2 712.3L355.2 718.5L354.8 724.9L354.0 730.8L352.9 736.0L351.7 740.0L349.9 742.9L347.6 745.1L344.8 746.8L341.7 748.0L338.5 748.9L335.3 749.4L332.5 749.8L330.0 750.0L328.0 750.0L326.2 749.5L324.7 748.7L323.2 747.7L321.8 746.6L320.3 745.4L318.6 744.3L316.7 743.3L314.5 742.5L312.3 741.6L309.9 740.7L307.5 739.8L304.9 738.9L302.3 738.1L299.5 737.3L296.7 736.7L293.5 736.2L290.0 735.8L286.3 735.6L282.5 735.4L278.8 735.2L275.4 734.8L272.4 734.2L270.0 733.3L268.0 732.1L266.3 730.5L264.9 728.6L263.8 726.7L263.0 724.7L262.7 722.9L262.8 721.3Z" fill="#ffe680"/><path d="M330.0 698.3L333.5 696.5L338.6 695.2L344.7 694.5L351.2 694.4L357.6 694.7L363.3 695.5L367.6 696.7L370.0 698.3L370.4 700.7L369.2 703.9L366.9 707.8L363.8 712.1L360.1 716.4L356.4 720.4L352.9 724.0L350.0 726.7L347.4 728.8L344.5 730.8L341.6 732.6L338.8 734.0L336.0 734.8L333.6 735.1L331.5 734.6L330.0 733.3L328.8 730.7L327.7 726.7L326.8 721.7L326.2 716.2L326.2 710.7L326.7 705.6L327.9 701.3Z" fill="#ffe680"/><path d="M600.0 698.3L604.0 696.7L609.6 695.6L616.4 695.1L623.8 695.0L631.0 695.4L637.7 696.1L643.1 697.1L646.7 698.3L648.5 700.1L649.2 702.4L649.0 705.2L647.9 708.3L646.3 711.5L644.3 714.7L642.2 717.5L640.0 720.0L637.5 722.2L634.4 724.3L630.9 726.3L627.1 728.2L623.2 729.9L619.5 731.4L616.2 732.5L613.3 733.3L610.9 733.9L608.8 734.3L606.8 734.5L605.0 734.5L603.4 734.1L602.1 733.2L600.9 731.9L600.0 730.0L599.0 727.2L598.0 723.3L597.0 718.8L596.2 714.0L596.0 709.1L596.4 704.7L597.7 701.0Z" fill="#ffe680"/><path d="M623.3 693.3L623.8 691.5L624.4 689.3L625.1 686.8L625.8 684.2L626.7 681.4L627.7 678.6L628.8 675.9L630.0 673.3L631.4 670.8L633.0 668.3L634.8 665.8L636.7 663.3L638.5 660.8L640.3 658.3L641.9 655.8L643.3 653.3L644.5 650.8L645.5 648.2L646.3 645.5L647.1 642.9L647.8 640.3L648.5 637.9L649.2 635.5L650.0 633.3L650.8 631.3L651.4 629.4L652.1 627.6L652.7 625.8L653.4 624.2L654.3 622.7L655.4 621.3L656.7 620.0L658.2 618.8L660.0 617.8L662.0 616.9L664.1 616.0L666.3 615.3L668.6 614.6L670.9 614.0L673.3 613.3L675.8 612.8L678.3 612.3L680.9 611.8L683.6 611.5L686.4 611.1L689.2 610.8L692.1 610.4L695.0 610.0L697.8 609.6L700.4 609.2L703.0 608.9L705.7 608.5L708.6 608.2L711.9 607.7L715.7 607.2L720.0 606.7L725.4 605.9L731.9 604.8L739.1 603.7L746.6 602.5L753.8 601.4L760.4 600.6L766.0 600.1L770.0 600.0L772.6 600.5L774.3 601.4L775.1 602.6L775.2 604.1L774.6 605.6L773.5 607.2L771.9 608.7L770.0 610.0L767.2 611.1L763.2 612.0L758.5 613.0L753.3 613.9L748.2 614.8L743.4 615.8L739.5 617.0L736.7 618.3L735.1 619.9L734.6 621.7L734.7 623.7L735.2 625.7L735.9 627.8L736.6 629.8L736.9 631.7L736.7 633.3L735.9 634.8L734.9 636.1L733.8 637.4L732.5 638.5L731.1 639.7L729.6 640.8L728.1 642.0L726.7 643.3L725.2 644.7L723.6 646.1L721.9 647.4L720.2 648.9L718.5 650.3L716.7 651.8L715.0 653.4L713.3 655.0L711.7 656.8L710.0 658.7L708.3 660.7L706.7 662.7L705.0 664.7L703.3 666.6L701.7 668.4L700.0 670.0L698.3 671.5L696.6 672.9L694.9 674.2L693.2 675.4L691.5 676.5L689.9 677.3L688.3 678.0L686.7 678.3L685.1 678.2L683.5 677.6L681.9 676.6L680.3 675.5L678.8 674.5L677.4 673.6L676.1 673.2L675.0 673.3L674.1 674.1L673.6 675.4L673.1 677.0L672.8 678.9L672.4 680.9L671.9 682.9L671.1 684.9L670.0 686.7L668.6 688.4L667.0 690.3L665.2 692.3L663.2 694.2L661.1 696.0L658.7 697.6L656.1 699.0L653.3 700.0L650.0 700.7L646.1 701.1L641.7 701.3L637.3 701.2L633.0 701.1L629.0 700.8L625.7 700.4L623.3 700.0L621.9 699.6L621.1 699.1L620.8 698.6L621.0 697.9L621.5 697.1L622.2 696.1L622.8 694.9Z" fill="#ffe680"/><path d="M241.0 431.6L241.2 431.0L241.6 430.2L242.2 429.3L242.8 428.3L243.6 427.2L244.4 426.1L245.2 425.0L246.0 424.0L246.8 423.0L247.8 422.0L248.7 421.0L249.8 420.0L250.8 418.9L251.9 417.9L252.9 417.0L254.0 416.0L255.1 415.1L256.2 414.2L257.4 413.3L258.6 412.5L259.7 411.7L260.9 410.8L262.0 409.9L263.0 409.0L264.0 408.0L264.9 407.0L265.7 406.0L266.6 405.0L267.4 404.0L268.2 403.0L269.1 402.0L270.0 401.0L271.0 400.1L271.9 399.2L272.9 398.3L273.9 397.4L275.0 396.5L276.0 395.7L277.0 394.8L278.0 394.0L279.0 393.2L280.0 392.4L280.9 391.6L281.9 390.9L282.9 390.1L283.9 389.4L284.9 388.7L286.0 388.0L287.2 387.3L288.4 386.7L289.6 386.1L290.9 385.4L292.2 384.8L293.5 384.2L294.7 383.6L296.0 383.0L297.2 382.4L298.5 381.8L299.8 381.1L301.0 380.5L302.2 379.9L303.5 379.2L304.8 378.6L306.0 378.0L307.2 377.4L308.5 376.8L309.7 376.1L310.9 375.5L312.1 374.9L313.4 374.2L314.7 373.6L316.0 373.0L317.4 372.4L318.9 371.8L320.4 371.1L321.9 370.5L323.4 369.9L325.0 369.2L326.5 368.6L328.0 368.0L329.5 367.4L331.0 366.7L332.5 366.1L334.0 365.4L335.5 364.8L337.0 364.1L338.5 363.5L340.0 363.0L341.5 362.5L343.0 362.0L344.5 361.5L346.0 361.1L347.5 360.7L349.0 360.3L350.5 359.9L352.0 359.6L353.5 359.3L355.1 359.0L356.7 358.7L358.3 358.5L359.9 358.2L361.4 358.0L362.7 357.8L364.0 357.6L365.2 357.4L366.4 357.2L367.6 357.0L368.7 356.8L369.6 356.6L370.4 356.5L370.8 356.5L371.0 356.6L370.8 356.8L370.3 357.1L369.5 357.5L368.6 358.0L367.5 358.5L366.3 359.0L365.1 359.5L364.0 360.0L362.9 360.4L361.7 360.9L360.5 361.3L359.2 361.8L357.9 362.2L356.6 362.7L355.3 363.1L354.0 363.6L352.8 364.1L351.5 364.6L350.2 365.0L349.0 365.5L347.8 366.0L346.5 366.5L345.2 367.1L344.0 367.6L342.8 368.2L341.5 368.7L340.2 369.3L339.0 369.9L337.8 370.5L336.5 371.1L335.2 371.8L334.0 372.4L332.7 373.1L331.5 373.8L330.2 374.5L328.9 375.2L327.6 375.9L326.4 376.6L325.2 377.3L324.0 378.0L322.9 378.6L321.9 379.3L320.9 379.9L319.9 380.5L318.9 381.1L318.0 381.7L317.0 382.3L316.0 383.0L315.0 383.7L314.0 384.5L313.0 385.2L312.0 386.0L311.0 386.8L310.0 387.5L309.0 388.3L308.0 389.0L307.0 389.7L306.0 390.3L305.1 390.9L304.1 391.6L303.1 392.2L302.1 392.8L301.1 393.4L300.0 394.0L298.8 394.6L297.6 395.3L296.4 395.9L295.1 396.6L293.8 397.2L292.5 397.8L291.3 398.4L290.0 399.0L288.7 399.5L287.5 400.1L286.2 400.6L284.9 401.1L283.6 401.5L282.4 402.0L281.2 402.5L280.0 403.0L278.9 403.5L277.9 404.0L276.9 404.4L275.9 404.9L274.9 405.4L274.0 405.9L273.0 406.4L272.0 407.0L271.0 407.6L270.0 408.3L269.0 409.1L268.0 409.8L267.0 410.6L266.0 411.4L265.0 412.2L264.0 413.0L263.0 413.8L262.0 414.7L260.9 415.6L259.9 416.5L258.9 417.4L257.9 418.3L256.9 419.2L256.0 420.0L255.2 420.8L254.4 421.6L253.6 422.3L252.9 423.1L252.2 423.8L251.5 424.6L250.7 425.3L250.0 426.0L249.2 426.8L248.4 427.6L247.6 428.4L246.8 429.2L246.0 429.9L245.3 430.6L244.6 431.2L244.0 431.6L243.4 431.9L242.9 432.2L242.3 432.3L241.8 432.4L241.4 432.4L241.1 432.3L241.0 432.0Z" fill="#ffe680" stroke="#ffe680" stroke-width="16.0" stroke-linejoin="round"/><path d="M198.3 510.0L199.9 509.3L201.7 508.7L203.8 508.3L206.0 507.9L208.4 507.7L210.7 507.7L212.9 507.9L215.0 508.3L217.0 509.0L219.0 510.0L221.0 511.2L223.0 512.5L224.9 513.9L226.8 515.4L228.5 516.9L230.0 518.3L231.3 519.8L232.4 521.3L233.3 522.9L234.2 524.5L235.0 526.0L235.9 527.5L237.0 528.8L238.3 530.0L239.9 530.9L241.7 531.6L243.5 532.1L245.5 532.5L247.5 532.9L249.5 533.4L251.5 534.1L253.3 535.0L255.1 536.2L256.9 537.6L258.6 539.1L260.3 540.7L262.0 542.4L263.6 543.9L265.2 545.4L266.7 546.7L268.1 547.7L269.6 548.6L271.0 549.4L272.3 550.1L273.6 550.8L274.7 551.5L275.8 552.4L276.7 553.3L277.5 554.4L278.2 555.6L278.8 556.8L279.3 558.0L279.7 559.3L279.9 560.6L280.0 562.0L280.0 563.3L279.8 564.8L279.6 566.3L279.2 567.9L278.6 569.5L278.0 571.0L277.1 572.5L276.2 573.8L275.0 575.0L273.6 576.0L272.1 576.8L270.3 577.6L268.4 578.2L266.4 578.8L264.3 579.3L262.2 579.7L260.0 580.0L257.7 580.2L255.3 580.3L252.7 580.3L250.1 580.2L247.5 580.1L244.9 580.0L242.4 580.0L240.0 580.0L237.7 580.2L235.5 580.4L233.4 580.7L231.2 581.0L229.2 581.3L227.2 581.6L225.2 581.7L223.3 581.7L221.5 581.5L219.7 581.3L218.0 581.0L216.4 580.6L214.7 580.2L213.1 579.6L211.6 579.0L210.0 578.3L208.4 577.6L206.8 576.8L205.3 575.9L203.8 574.9L202.3 573.8L200.9 572.7L199.5 571.4L198.3 570.0L197.2 568.5L196.2 566.8L195.2 565.1L194.3 563.2L193.5 561.3L192.8 559.3L192.2 557.2L191.7 555.0L191.3 552.7L191.0 550.2L190.8 547.6L190.7 545.0L190.6 542.4L190.7 539.8L190.7 537.3L190.8 535.0L191.0 532.9L191.2 530.8L191.4 528.8L191.7 526.9L192.1 525.0L192.5 523.3L192.9 521.6L193.3 520.0L193.8 518.5L194.1 517.0L194.5 515.5L194.9 514.2L195.5 512.9L196.2 511.8L197.1 510.8Z" fill="#ffe680"/><path d="M183.3 491.7L183.9 492.4L184.6 493.5L185.4 494.7L186.4 496.0L187.3 497.5L188.3 498.9L189.2 500.3L190.0 501.7L190.7 502.9L191.5 504.1L192.2 505.3L192.9 506.6L193.5 507.8L194.1 509.0L194.6 510.3L195.0 511.7L195.3 513.1L195.6 514.5L195.7 516.0L195.8 517.5L195.9 519.0L195.9 520.5L195.9 521.9L195.8 523.3L195.7 524.7L195.6 525.9L195.3 527.1L195.1 528.3L194.8 529.5L194.5 530.8L194.3 532.0L194.2 533.3L194.1 534.7L194.0 536.2L193.9 537.6L193.9 539.1L193.9 540.6L193.9 542.1L194.0 543.6L194.2 545.0L194.4 546.4L194.6 547.8L194.9 549.2L195.2 550.6L195.6 552.0L196.0 553.3L196.5 554.6L197.0 555.8L197.5 557.0L198.1 558.1L198.7 559.2L199.4 560.2L200.1 561.2L200.9 562.2L201.7 563.2L202.5 564.2L203.4 565.2L204.3 566.2L205.3 567.2L206.3 568.1L207.4 569.1L208.5 570.0L209.6 570.9L210.8 571.7L212.1 572.5L213.4 573.2L214.8 574.0L216.2 574.7L217.7 575.3L219.1 575.9L220.6 576.3L222.0 576.7L223.4 576.9L224.9 577.0L226.4 576.9L227.9 576.8L229.4 576.7L230.8 576.4L232.3 576.2L233.7 575.8L235.1 575.4L236.6 574.9L238.2 574.2L239.6 573.5L241.0 572.9L242.3 572.2L243.4 571.7L244.2 571.3" fill="none" stroke="#ffe680" stroke-width="9.0" stroke-linecap="round" stroke-linejoin="round"/><path d="M216.1 479.9L214.8 480.7L213.9 481.9L213.0 483.5L212.1 485.3L211.3 487.1L210.5 489.0L209.9 490.7L209.3 492.2L208.8 493.6L208.3 494.9L207.9 496.1L207.5 497.3L207.1 498.4L206.7 499.4L206.4 500.5L206.0 501.5L205.5 502.5L205.1 503.5L204.6 504.5L204.1 505.5L203.6 506.5L203.0 507.6L202.5 508.6L202.0 509.7L201.5 510.7L201.0 511.9L200.6 513.0L200.1 514.2L199.7 515.3L199.4 516.3L199.2 517.3L199.6 518.3L200.4 519.0L201.5 519.0L202.4 518.5L203.3 517.9L204.3 517.2L205.3 516.4L206.2 515.5L207.1 514.6L208.0 513.6L208.8 512.8L209.5 511.9L210.3 510.9L211.1 509.9L211.9 508.8L212.7 507.7L213.4 506.5L214.0 505.2L214.6 503.9L215.2 502.6L215.6 501.3L216.0 500.0L216.4 498.7L216.7 497.3L217.1 495.9L217.4 494.5L217.7 492.8L217.9 490.9L218.2 488.8L218.3 486.8L218.3 484.8L218.3 483.0L218.0 481.4L217.2 480.1Z" fill="#ffe680"/><path d="M220.0 564.2L220.6 563.9L221.5 563.8L222.5 563.9L223.7 564.0L225.0 564.2L226.2 564.5L227.4 564.7L228.3 565.0L229.2 565.3L230.1 565.7L231.0 566.1L231.8 566.5L232.5 567.0L233.0 567.4L233.3 567.9L233.3 568.3L233.0 568.8L232.4 569.3L231.6 569.8L230.6 570.3L229.6 570.8L228.5 571.2L227.5 571.5L226.7 571.7L225.9 571.7L225.2 571.7L224.5 571.6L223.9 571.4L223.2 571.1L222.6 570.8L222.1 570.4L221.7 570.0L221.2 569.4L220.8 568.7L220.4 567.8L220.0 566.9L219.7 566.0L219.6 565.3L219.7 564.6Z" fill="#ffe680"/><path d="M325.0 708.3L325.4 707.7L326.2 706.9L327.3 706.1L328.5 705.3L329.9 704.6L331.2 704.0L332.4 703.6L333.3 703.3L334.2 703.3L335.1 703.5L336.0 703.8L336.9 704.3L337.6 704.8L338.1 705.4L338.4 706.0L338.3 706.7L337.9 707.4L337.1 708.4L336.0 709.4L334.8 710.5L333.5 711.5L332.2 712.4L331.0 713.0L330.0 713.3L329.1 713.3L328.2 712.9L327.3 712.3L326.5 711.6L325.8 710.7L325.2 709.9L325.0 709.0Z" fill="#ffe680"/><path d="M367.5 684.2L367.7 683.9L368.1 683.7L368.6 683.5L369.1 683.3L369.6 683.2L370.1 683.2L370.5 683.2L370.8 683.3L371.1 683.6L371.2 683.9L371.4 684.4L371.5 684.9L371.5 685.4L371.5 685.9L371.5 686.3L371.3 686.7L371.1 686.9L370.8 687.1L370.4 687.3L369.9 687.5L369.5 687.6L369.0 687.6L368.6 687.6L368.3 687.5L368.1 687.3L367.9 686.9L367.7 686.4L367.5 685.9L367.4 685.4L367.4 684.9L367.4 684.5Z" fill="#ffe680"/><path d="M446.7 633.3L447.3 632.7L448.6 632.0L450.2 631.2L452.2 630.4L454.3 629.6L456.4 628.8L458.3 628.1L460.0 627.5L461.4 627.0L462.5 626.5L463.6 626.1L464.7 625.8L465.8 625.5L467.0 625.3L468.4 625.1L470.0 625.0L471.9 625.0L474.0 625.1L476.3 625.3L478.8 625.6L481.2 625.9L483.7 626.2L486.1 626.4L488.3 626.7L490.5 626.9L492.7 627.1L494.8 627.3L496.9 627.6L498.9 627.8L501.0 628.0L503.0 628.2L505.0 628.3L507.0 628.5L508.9 628.6L510.8 628.7L512.7 628.7L514.6 628.8L516.4 628.9L518.2 629.0L520.0 629.2L521.8 629.3L523.5 629.3L525.3 629.3L527.0 629.4L528.6 629.5L530.2 629.8L531.8 630.2L533.3 630.8L534.9 631.8L536.5 633.1L538.2 634.5L539.8 636.1L541.2 637.7L542.4 639.2L543.2 640.6L543.7 641.7L543.7 642.5L543.3 643.3L542.6 643.9L541.6 644.4L540.5 644.8L539.3 645.1L538.0 645.3L536.7 645.3L535.3 645.2L533.7 644.9L532.0 644.4L530.2 643.8L528.4 643.2L526.6 642.6L524.9 642.2L523.3 642.0L521.9 642.0L520.6 642.2L519.3 642.5L518.1 642.9L516.9 643.2L515.8 643.5L514.6 643.7L513.3 643.7L512.2 643.4L511.1 643.0L510.2 642.4L509.2 641.8L508.1 641.1L506.8 640.5L505.2 639.9L503.3 639.5L501.1 639.2L498.5 638.9L495.6 638.7L492.6 638.5L489.5 638.3L486.3 638.2L483.1 638.0L480.0 637.8L476.8 637.6L473.5 637.4L470.0 637.3L466.6 637.1L463.2 636.9L460.1 636.7L457.3 636.4L455.0 636.2L453.0 635.9L451.2 635.6L449.7 635.3L448.4 635.0L447.5 634.7L446.8 634.3L446.6 633.8Z" fill="#ffe680" stroke="#ffe680" stroke-width="8.0" stroke-linejoin="round"/><path d="M487.2 662.8L487.1 664.0L487.5 665.0L488.0 666.1L488.7 667.2L489.4 668.4L490.2 669.5L490.9 670.6L491.5 671.6L492.0 672.6L492.6 673.8L493.3 675.1L494.0 676.5L494.8 677.8L495.7 679.2L496.6 680.4L497.7 681.6L498.8 682.5L500.0 683.3L501.1 683.8L502.2 684.1L503.2 684.4L504.1 684.5L504.8 684.4L505.6 684.0L506.0 683.3L505.9 682.4L505.5 681.7L504.9 681.1L504.4 680.4L503.8 679.8L503.2 679.1L502.7 678.4L502.3 677.7L501.9 676.9L501.4 675.9L500.9 674.6L500.2 673.3L499.5 671.8L498.7 670.4L497.8 669.0L496.9 667.7L495.8 666.6L494.6 665.5L493.4 664.6L492.2 663.7L491.1 663.0L490.0 662.5L488.9 662.1L487.8 662.2Z" fill="#ffe680"/></g>
<g><path d="M686.7 647.5L687.2 646.9L688.1 646.5L689.2 646.1L690.4 645.9L691.6 645.7L692.9 645.7L694.0 645.7L695.0 645.8L695.9 646.1L696.9 646.4L697.8 646.9L698.7 647.4L699.5 648.0L700.1 648.6L700.6 649.3L700.8 650.0L700.8 650.8L700.6 651.7L700.2 652.6L699.6 653.6L699.0 654.6L698.2 655.5L697.5 656.2L696.7 656.7L695.8 657.0L694.7 657.2L693.6 657.2L692.3 657.2L691.2 657.0L690.0 656.7L689.1 656.3L688.3 655.8L687.7 655.1L687.2 654.1L686.8 653.0L686.5 651.7L686.3 650.5L686.2 649.3L686.4 648.3Z" fill="#ffffff"/><path d="M690.0 616.7L690.6 616.3L691.6 615.9L692.9 615.6L694.4 615.4L695.9 615.3L697.4 615.3L698.8 615.3L700.0 615.3L701.1 615.5L702.1 615.7L703.2 616.1L704.2 616.4L705.0 616.9L705.8 617.3L706.3 617.8L706.7 618.3L706.8 618.9L706.7 619.6L706.4 620.3L706.0 621.1L705.5 621.8L704.9 622.4L704.1 623.0L703.3 623.3L702.4 623.5L701.1 623.7L699.8 623.7L698.3 623.6L696.9 623.4L695.5 623.2L694.3 622.9L693.3 622.5L692.5 622.0L691.7 621.3L691.0 620.5L690.4 619.6L690.0 618.7L689.7 617.9L689.7 617.2Z" fill="#ffffff"/><path d="M718.3 611.7L719.3 611.3L721.0 610.9L723.0 610.5L725.3 610.3L727.7 610.1L729.9 609.9L731.9 609.9L733.3 610.0L734.4 610.3L735.4 610.7L736.2 611.2L736.8 611.8L737.2 612.5L737.3 613.1L737.1 613.7L736.7 614.2L735.7 614.6L734.3 615.1L732.5 615.6L730.5 616.0L728.5 616.4L726.5 616.6L724.7 616.7L723.3 616.7L722.2 616.4L721.0 615.9L720.0 615.2L719.1 614.4L718.4 613.6L718.0 612.9L717.9 612.2Z" fill="#ffffff"/><path d="M210.0 535.0L210.4 534.3L210.9 533.7L211.6 533.2L212.3 532.8L213.1 532.5L213.8 532.4L214.5 532.4L215.0 532.5L215.5 532.8L215.9 533.3L216.3 534.0L216.7 534.7L217.0 535.6L217.3 536.5L217.4 537.4L217.5 538.3L217.4 539.3L217.3 540.5L217.0 541.8L216.7 543.0L216.3 544.2L215.9 545.3L215.4 546.1L215.0 546.7L214.5 546.9L214.0 547.0L213.4 546.8L212.8 546.5L212.2 546.1L211.7 545.5L211.2 544.9L210.8 544.2L210.5 543.3L210.3 542.2L210.0 540.9L209.8 539.6L209.7 538.2L209.7 537.0L209.8 535.9Z" fill="#ffffff"/><path d="M215.0 530.0L215.6 529.3L216.6 528.5L217.9 527.7L219.5 526.9L221.1 526.1L222.6 525.5L224.0 525.1L225.0 525.0L225.8 525.1L226.6 525.5L227.3 526.1L227.8 526.9L228.2 527.7L228.5 528.5L228.5 529.3L228.3 530.0L227.8 530.7L227.0 531.5L225.9 532.3L224.7 533.1L223.4 533.9L222.1 534.5L221.0 534.9L220.0 535.0L219.1 534.9L218.2 534.5L217.2 533.9L216.4 533.1L215.6 532.3L215.1 531.5L214.9 530.7Z" fill="#ffffff"/></g>
<g transform="rotate(0.0 462.1 565.2)"><path d="M396.7 500.0L404.8 494.8L418.1 494.3L432.0 496.8L441.7 500.0L444.1 504.8L442.5 511.9L441.3 519.0L445.0 524.0L456.8 525.4L473.5 524.6L490.6 524.0L503.3 526.0L510.3 531.7L514.1 539.8L515.8 548.6L516.7 556.7L516.2 563.2L514.2 569.2L511.7 575.6L510.0 583.3L510.4 594.0L511.9 606.7L512.4 618.5L510.0 626.7L503.3 629.8L493.8 629.6L483.1 627.9L473.3 626.7L464.1 626.9L454.6 627.5L446.1 626.8L440.0 623.3L437.6 615.4L437.9 604.2L438.4 592.6L436.7 583.3L431.3 578.7L424.0 576.7L416.3 573.8L410.0 566.7L404.4 552.0L398.9 532.3L395.6 513.2Z" fill="#ffa010" filter="url(#nzf70)"/></g>
<g transform="rotate(0.0 680.0 540.8)"><path d="M650.0 520.0L662.2 514.3L680.0 510.6L697.8 510.0L710.0 513.3L715.6 523.4L717.5 538.8L715.6 554.3L710.0 565.0L697.8 569.7L680.0 571.0L662.2 569.4L650.0 565.0L644.4 556.0L642.5 542.9L644.4 529.6Z" fill="#ffa010" filter="url(#nzf70)"/></g>
<g transform="rotate(0.0 808.3 593.3)"><path d="M776.7 580.0L780.3 574.6L785.3 572.1L791.9 570.2L800.0 566.7L811.5 558.6L825.6 547.9L839.1 539.9L848.3 540.0L852.9 552.6L854.4 573.8L852.9 596.4L848.3 613.3L839.1 622.7L825.6 628.3L811.5 631.5L800.0 633.3L791.9 634.5L785.3 634.2L780.3 631.8L776.7 626.7L774.5 617.0L773.8 603.8L774.5 590.3Z" fill="#ffa010" filter="url(#nzf76)"/></g>
<g transform="rotate(0.0 652.5 837.5)"><path d="M633.3 820.0L641.4 816.6L653.5 815.6L665.6 816.8L673.3 820.0L675.5 826.7L674.4 836.5L671.1 846.3L666.7 853.3L660.2 857.2L651.5 859.4L642.8 859.3L636.7 856.7L632.9 849.5L630.6 838.5L630.5 827.5Z" fill="#ffa010" filter="url(#nzf68)"/></g>
<g><path d="M211.5 333.7L212.7 335.1L214.6 336.3L216.9 337.8L219.5 339.3L222.3 340.9L225.1 342.4L227.9 343.9L230.5 345.2L232.9 346.5L235.4 347.8L237.9 349.1L240.4 350.4L242.9 351.6L245.4 352.8L248.0 354.0L250.5 355.0L252.9 355.9L255.2 356.8L257.5 357.5L259.8 358.2L262.1 358.9L264.4 359.5L266.7 360.1L269.2 360.7L272.0 361.4L275.1 362.0L278.3 362.6L281.5 363.1L284.6 363.5L287.4 363.8L289.7 364.0L291.6 363.7L291.8 363.0L290.2 361.8L288.0 360.9L285.4 360.0L282.5 359.0L279.4 358.0L276.3 357.0L273.4 356.1L270.8 355.3L268.4 354.5L266.1 353.7L263.9 353.0L261.7 352.3L259.5 351.5L257.4 350.7L255.2 349.9L252.9 349.0L250.5 348.0L248.1 347.0L245.7 345.8L243.1 344.7L240.6 343.5L238.0 342.4L235.4 341.2L232.9 340.1L230.2 339.0L227.3 337.8L224.3 336.7L221.3 335.5L218.5 334.5L215.9 333.7L213.7 333.1L211.8 333.0Z" fill="#ffa010"/><path d="M237.2 435.4L238.8 434.8L240.4 433.6L242.3 432.1L244.3 430.3L246.4 428.4L248.5 426.4L250.6 424.4L252.7 422.5L254.7 420.6L256.8 418.6L258.8 416.5L260.9 414.5L263.0 412.6L265.1 410.7L267.3 408.9L269.6 407.2L272.0 405.6L274.6 404.1L277.4 402.6L280.2 401.1L283.2 399.6L286.3 398.0L289.4 396.4L292.5 394.8L295.7 393.2L299.0 391.5L302.4 389.8L305.8 388.1L309.2 386.4L312.5 384.7L315.8 383.0L319.0 381.4L322.0 379.9L325.0 378.3L328.0 376.8L330.8 375.4L333.6 374.0L336.4 372.6L339.0 371.3L341.6 370.2L344.1 369.1L346.7 368.1L349.2 367.1L351.7 366.2L354.1 365.3L356.5 364.5L358.7 363.7L360.8 363.0L362.7 362.3L364.6 361.6L366.3 361.0L368.0 360.5L369.5 359.9L370.9 359.4L372.0 358.8L372.8 358.0L372.5 356.7L371.5 356.2L370.3 356.1L368.8 356.1L367.2 356.1L365.3 356.2L363.4 356.4L361.3 356.7L359.2 357.0L357.0 357.4L354.7 357.8L352.2 358.3L349.6 358.8L346.9 359.4L344.1 360.1L341.3 360.9L338.4 361.8L335.5 362.8L332.6 363.9L329.6 365.1L326.7 366.4L323.6 367.7L320.6 369.1L317.5 370.5L314.4 371.9L311.1 373.4L307.8 374.9L304.4 376.6L300.9 378.3L297.4 380.0L294.0 381.7L290.7 383.5L287.5 385.2L284.4 386.8L281.3 388.5L278.2 390.2L275.2 391.9L272.2 393.6L269.3 395.4L266.5 397.4L263.7 399.4L261.2 401.6L258.8 403.9L256.6 406.2L254.5 408.6L252.6 410.9L250.8 413.2L249.0 415.4L247.3 417.5L245.5 419.7L243.7 422.1L242.0 424.5L240.3 426.8L238.8 429.0L237.5 431.1L236.5 432.9L236.2 434.6Z" fill="#ffa010"/><path d="M241.4 429.8L240.2 430.9L239.0 432.4L237.6 434.2L236.1 436.3L234.5 438.6L232.9 441.0L231.3 443.4L229.9 445.7L228.6 448.0L227.2 450.4L225.8 452.9L224.4 455.4L223.0 458.0L221.7 460.6L220.5 463.1L219.4 465.7L218.3 468.3L217.3 470.9L216.4 473.6L215.6 476.2L214.8 478.8L214.0 481.3L213.3 483.7L212.7 486.0L212.2 488.3L211.8 490.3L211.5 492.3L211.3 494.1L211.1 495.9L210.8 497.6L210.4 499.2L209.9 501.0L209.2 502.9L208.2 505.0L207.2 507.2L206.1 509.4L205.0 511.5L204.1 513.4L203.4 515.1L203.1 516.5L203.6 516.8L204.7 515.9L205.8 514.5L207.1 512.8L208.5 510.8L209.9 508.7L211.2 506.6L212.5 504.4L213.4 502.4L214.2 500.4L214.8 498.5L215.2 496.7L215.6 494.8L215.9 493.0L216.3 491.2L216.7 489.3L217.3 487.3L218.0 485.1L218.7 482.7L219.5 480.3L220.3 477.7L221.1 475.2L222.0 472.6L223.0 470.1L224.0 467.6L225.0 465.1L226.1 462.6L227.3 460.1L228.5 457.5L229.8 455.0L231.0 452.5L232.2 450.0L233.4 447.6L234.6 445.2L235.9 442.8L237.2 440.3L238.5 437.8L239.7 435.5L240.8 433.5L241.6 431.7L241.9 430.2Z" fill="#ffa010"/><path d="M181.7 488.3L181.7 490.0L182.4 491.8L183.3 493.8L184.5 496.0L185.7 498.3L187.0 500.6L188.3 502.7L189.5 504.6L190.7 506.6L192.0 508.6L193.4 510.7L194.7 512.7L196.1 514.6L197.4 516.3L198.6 517.6L200.0 518.3L200.0 518.3L200.1 516.8L199.7 515.0L199.0 513.0L198.2 510.8L197.2 508.6L196.1 506.3L195.0 504.1L193.8 502.0L192.5 500.0L191.1 497.9L189.5 495.8L187.8 493.8L186.2 491.9L184.6 490.3L183.2 489.0L181.7 488.3Z" fill="#ffa010"/><path d="M110.0 413.3L110.8 413.9L112.0 414.4L113.4 414.9L115.0 415.5L116.7 416.0L118.3 416.6L119.9 417.1L121.3 417.6L122.7 418.1L124.1 418.8L125.6 419.4L127.0 420.1L128.4 420.7L129.7 421.2L130.7 421.6L131.7 421.7L131.7 421.7L131.1 421.0L130.2 420.3L129.0 419.5L127.8 418.7L126.4 417.9L124.9 417.1L123.5 416.3L122.0 415.7L120.5 415.2L118.9 414.7L117.1 414.3L115.4 413.9L113.8 413.6L112.3 413.4L111.0 413.2L110.0 413.3Z" fill="#ffa010"/><path d="M55.0 336.9L55.6 337.5L56.4 337.9L57.3 338.2L58.4 338.5L59.6 338.7L60.8 339.0L62.0 339.2L63.1 339.3L64.3 339.5L65.7 339.6L67.2 339.7L68.6 339.7L70.0 339.7L71.3 339.6L72.4 339.4L73.3 338.9L73.4 338.4L72.7 337.7L71.7 337.2L70.4 336.8L69.1 336.3L67.6 336.0L66.2 335.7L64.8 335.5L63.5 335.4L62.3 335.3L61.1 335.2L59.9 335.3L58.7 335.4L57.5 335.5L56.5 335.7L55.7 335.9L55.0 336.4Z" fill="#ffa010"/><path d="M69.8 365.2L70.2 366.4L71.0 367.4L72.0 368.4L73.1 369.6L74.5 370.7L75.9 371.8L77.3 372.9L78.7 373.8L80.2 374.7L81.9 375.6L83.6 376.5L85.4 377.2L87.2 377.9L88.8 378.4L90.2 378.8L91.5 378.6L91.8 378.1L91.3 376.9L90.3 375.8L89.0 374.7L87.5 373.6L85.9 372.5L84.3 371.4L82.7 370.4L81.3 369.5L79.9 368.7L78.4 367.9L76.9 367.0L75.4 366.3L73.9 365.6L72.6 365.0L71.3 364.7L70.2 364.8Z" fill="#ffa010"/><path d="M310.0 291.7L311.3 292.5L313.1 293.2L315.2 293.9L317.6 294.6L320.3 295.4L323.2 296.4L326.2 297.4L329.4 298.5L332.9 299.8L336.7 301.2L340.8 302.7L345.0 304.4L349.4 306.0L353.7 307.8L358.1 309.5L362.3 311.1L366.4 312.8L370.5 314.5L374.6 316.2L378.8 317.9L382.9 319.7L387.1 321.4L391.2 323.2L395.4 324.9L399.6 326.6L403.9 328.3L408.2 330.1L412.4 331.8L416.7 333.5L420.9 335.1L424.9 336.7L428.8 338.2L432.5 339.6L436.2 340.8L439.7 342.0L443.1 343.1L446.4 344.2L449.5 345.3L452.4 346.5L455.3 347.7L458.1 349.1L460.8 350.6L463.4 352.1L465.9 353.7L468.4 355.4L470.7 357.0L473.0 358.6L475.1 360.2L477.2 361.8L479.1 363.3L480.9 364.9L482.6 366.5L484.2 368.0L485.8 369.6L487.3 371.2L488.7 372.7L490.1 374.3L491.4 376.1L492.8 377.9L494.1 379.7L495.2 381.4L496.3 382.9L497.3 384.2L498.3 385.0L498.3 385.0L498.1 383.7L497.6 382.3L496.8 380.5L495.9 378.6L494.9 376.6L493.8 374.5L492.6 372.5L491.3 370.6L490.0 368.8L488.6 367.1L487.1 365.3L485.5 363.5L483.9 361.8L482.1 360.0L480.2 358.2L478.2 356.4L476.1 354.7L473.9 352.8L471.5 351.0L469.1 349.2L466.5 347.4L463.8 345.6L461.0 343.9L458.0 342.3L454.9 340.8L451.8 339.4L448.5 338.1L445.2 336.9L441.8 335.7L438.4 334.5L434.9 333.2L431.2 331.8L427.4 330.3L423.4 328.7L419.3 327.0L415.1 325.3L410.8 323.6L406.5 321.8L402.2 320.1L398.0 318.5L393.8 316.8L389.6 315.2L385.4 313.5L381.2 311.9L377.0 310.2L372.8 308.6L368.6 307.1L364.4 305.5L360.1 304.0L355.6 302.5L351.1 301.0L346.7 299.6L342.3 298.2L338.1 297.0L334.2 295.8L330.6 294.8L327.2 294.0L324.0 293.3L321.0 292.7L318.2 292.3L315.7 291.9L313.4 291.7L311.6 291.5L310.0 291.7Z" fill="#ffa010"/><path d="M405.0 358.3L405.6 359.6L406.7 361.0L408.0 362.6L409.4 364.5L411.0 366.4L412.7 368.4L414.3 370.4L415.9 372.3L417.6 374.3L419.4 376.6L421.4 379.0L423.4 381.4L425.3 383.6L427.1 385.6L428.7 387.3L430.0 388.3L430.0 388.3L429.2 386.8L428.0 384.9L426.5 382.7L424.7 380.3L422.9 377.8L421.0 375.4L419.1 373.1L417.4 371.0L415.8 369.1L414.1 367.2L412.3 365.3L410.6 363.5L408.9 361.8L407.4 360.3L406.1 359.1L405.0 358.3Z" fill="#ffa010"/><path d="M405.1 489.9L406.5 490.7L408.2 490.9L410.1 491.0L412.3 491.0L414.6 490.9L416.9 490.7L419.1 490.4L421.1 490.0L423.0 489.5L424.9 489.0L426.8 488.5L428.6 487.9L430.3 487.2L432.0 486.5L433.6 485.8L435.2 485.0L436.7 484.2L438.2 483.3L439.6 482.4L440.9 481.5L442.1 480.5L443.3 479.6L444.3 478.6L445.3 477.7L446.3 476.7L447.2 475.6L448.0 474.5L448.6 473.5L449.2 472.5L449.6 471.5L449.8 470.7L449.7 469.7L449.0 469.0L448.0 468.8L447.1 469.2L446.2 469.6L445.3 470.1L444.3 470.7L443.3 471.3L442.3 471.8L441.3 472.3L440.3 472.9L439.1 473.4L437.9 474.0L436.7 474.6L435.4 475.2L434.1 475.8L432.8 476.4L431.4 477.0L430.0 477.6L428.5 478.2L427.0 478.8L425.4 479.5L423.8 480.1L422.1 480.7L420.5 481.4L418.9 482.0L417.1 482.7L415.2 483.4L413.1 484.1L411.0 484.9L409.1 485.8L407.3 486.6L405.8 487.5L404.9 488.8Z" fill="#ffa010"/><path d="M461.7 477.8L462.9 478.9L464.4 479.3L466.1 479.6L468.0 479.7L469.9 479.7L471.9 479.7L473.8 479.5L475.6 479.3L477.3 479.0L479.2 478.6L481.1 478.1L483.0 477.5L484.7 476.8L486.3 476.0L487.6 475.2L488.4 473.8L488.3 472.9L487.1 471.8L485.6 471.4L483.9 471.1L482.0 471.0L480.1 470.9L478.1 471.0L476.2 471.2L474.4 471.4L472.7 471.7L470.8 472.1L468.9 472.6L467.0 473.2L465.3 473.9L463.7 474.7L462.4 475.5L461.6 476.9Z" fill="#ffa010"/><path d="M490.0 472.3L491.5 472.8L493.6 473.0L496.0 473.2L498.7 473.3L501.6 473.5L504.5 473.6L507.3 473.8L509.9 474.1L512.3 474.4L514.9 474.8L517.4 475.2L519.9 475.6L522.5 476.1L525.0 476.5L527.4 476.9L529.8 477.3L532.1 477.7L534.6 478.1L537.0 478.4L539.4 478.8L541.6 479.1L543.6 479.3L545.3 479.5L546.7 479.3L546.7 479.3L545.5 478.7L543.9 478.1L541.9 477.6L539.8 477.0L537.4 476.4L535.0 475.8L532.6 475.2L530.2 474.7L527.9 474.2L525.5 473.7L523.0 473.2L520.5 472.7L517.9 472.2L515.3 471.8L512.7 471.5L510.1 471.3L507.4 471.1L504.6 471.1L501.6 471.2L498.8 471.3L496.0 471.4L493.6 471.7L491.5 471.9L490.0 472.3Z" fill="#ffa010"/><path d="M570.7 341.7L570.3 342.8L570.2 344.2L570.2 345.8L570.3 347.6L570.5 349.6L570.8 351.6L571.2 353.6L571.7 355.5L572.3 357.5L573.1 359.6L574.1 361.8L575.2 363.9L576.2 365.9L577.3 367.6L578.3 369.1L579.3 370.0L579.3 370.0L579.4 368.6L579.1 366.9L578.5 364.9L577.8 362.8L577.1 360.6L576.3 358.4L575.6 356.3L575.0 354.5L574.5 352.7L574.0 350.9L573.4 349.0L572.9 347.2L572.4 345.4L571.9 343.9L571.4 342.6L570.7 341.7Z" fill="#ffa010"/><path d="M606.7 387.3L607.0 388.0L607.5 388.6L608.3 389.3L609.1 390.0L610.0 390.7L610.9 391.4L611.8 392.0L612.6 392.6L613.3 393.3L614.2 394.0L615.1 394.8L616.0 395.5L616.9 396.2L617.8 396.8L618.6 397.2L619.3 397.3L619.3 397.3L619.2 396.6L618.7 395.8L618.2 395.0L617.5 394.1L616.7 393.1L615.8 392.2L615.0 391.4L614.1 390.7L613.2 390.0L612.2 389.4L611.2 388.8L610.1 388.3L609.1 387.9L608.2 387.5L607.4 387.3L606.7 387.3Z" fill="#ffa010"/><path d="M584.9 440.9L585.9 441.7L587.4 442.5L589.2 443.3L591.2 444.2L593.4 445.0L595.6 445.8L597.7 446.4L599.7 446.8L601.5 447.2L603.4 447.4L605.2 447.5L607.0 447.6L608.7 447.6L610.5 447.4L612.1 447.2L613.8 446.9L615.4 446.4L616.9 445.8L618.3 445.1L619.7 444.3L620.9 443.5L622.0 442.7L623.1 441.9L624.1 441.2L625.0 440.6L625.9 439.9L626.8 439.2L627.5 438.5L628.2 437.9L628.8 437.3L629.2 436.8L629.5 436.2L629.2 435.8L628.6 435.8L627.9 436.1L627.2 436.4L626.4 436.9L625.5 437.3L624.6 437.8L623.6 438.3L622.6 438.8L621.5 439.3L620.3 439.9L619.2 440.6L617.9 441.2L616.7 441.8L615.4 442.4L614.2 442.8L612.9 443.1L611.5 443.3L610.1 443.5L608.6 443.6L607.0 443.6L605.4 443.6L603.7 443.5L602.0 443.3L600.3 443.2L598.5 442.9L596.5 442.5L594.3 442.0L592.1 441.5L590.0 441.0L588.0 440.6L586.4 440.3L585.1 440.4Z" fill="#ffa010"/><path d="M689.9 286.3L692.1 287.7L695.1 288.9L698.7 290.2L702.8 291.6L707.1 293.1L711.3 294.6L715.4 296.1L719.1 297.5L722.5 298.9L725.8 300.3L729.1 301.9L732.3 303.4L735.6 305.0L738.8 306.5L742.2 308.0L745.5 309.4L748.9 310.8L752.3 312.1L755.6 313.3L759.0 314.5L762.4 315.6L765.7 316.8L769.1 317.9L772.4 319.1L776.0 320.3L779.8 321.5L783.8 322.8L787.7 324.0L791.4 325.2L794.7 326.1L797.6 326.8L799.9 327.0L800.1 326.3L798.3 325.0L795.7 323.6L792.5 322.1L789.0 320.5L785.2 318.9L781.4 317.3L777.7 315.7L774.2 314.3L770.9 312.9L767.6 311.6L764.3 310.3L761.0 309.1L757.7 307.8L754.4 306.5L751.1 305.2L747.8 303.9L744.6 302.5L741.3 301.1L738.1 299.6L734.8 298.1L731.4 296.6L728.0 295.2L724.5 293.8L720.9 292.5L717.0 291.3L712.7 290.1L708.3 288.9L703.9 287.9L699.7 287.0L695.8 286.2L692.6 285.7L690.1 285.7Z" fill="#ffa010"/><path d="M796.7 325.0L798.0 326.2L800.0 327.4L802.5 328.8L805.2 330.3L808.0 331.9L810.8 333.4L813.5 334.9L816.0 336.3L818.2 337.5L820.3 338.8L822.5 340.1L824.5 341.4L826.6 342.6L828.6 343.8L830.6 345.0L832.7 346.2L834.8 347.3L837.0 348.4L839.2 349.5L841.4 350.6L843.5 351.6L845.4 352.4L847.0 353.0L848.3 353.3L848.3 353.3L847.4 352.4L846.0 351.3L844.3 350.2L842.3 349.0L840.3 347.7L838.1 346.4L836.0 345.1L834.0 343.8L832.1 342.6L830.1 341.4L828.1 340.1L826.1 338.8L824.0 337.5L821.9 336.3L819.7 335.0L817.4 333.7L814.8 332.4L812.0 331.1L809.1 329.7L806.1 328.4L803.2 327.2L800.6 326.2L798.4 325.4L796.7 325.0Z" fill="#ffa010"/><path d="M751.6 379.5L753.7 380.7L756.7 382.0L760.3 383.6L764.2 385.2L768.3 386.9L772.4 388.5L776.2 390.0L779.5 391.3L782.4 392.3L784.9 393.3L787.3 394.2L789.6 395.0L791.9 395.8L794.3 396.5L796.8 397.3L799.6 398.1L802.7 399.0L805.9 399.8L809.4 400.7L812.9 401.5L816.4 402.3L819.9 403.1L823.2 403.8L826.4 404.5L829.5 405.2L832.7 405.9L835.9 406.5L839.0 407.1L841.8 407.6L844.4 408.1L846.6 408.4L848.3 408.5L848.4 408.2L846.8 407.5L844.7 406.9L842.2 406.1L839.4 405.4L836.3 404.6L833.2 403.8L830.0 402.9L827.0 402.1L823.8 401.3L820.5 400.5L817.1 399.6L813.6 398.7L810.1 397.8L806.7 396.9L803.4 396.1L800.4 395.2L797.7 394.4L795.2 393.7L792.8 392.9L790.6 392.2L788.3 391.4L785.9 390.6L783.3 389.7L780.5 388.7L777.1 387.6L773.3 386.2L769.1 384.8L764.9 383.3L760.9 381.9L757.2 380.7L754.1 379.7L751.7 379.2Z" fill="#ffa010"/><path d="M761.2 502.6L761.8 501.4L762.0 499.8L762.0 497.9L762.1 495.9L762.1 493.8L762.1 491.8L762.2 490.1L762.5 488.6L762.8 487.3L763.1 486.0L763.6 484.7L764.0 483.6L764.5 482.5L765.1 481.5L765.7 480.6L766.4 479.8L767.1 479.1L768.0 478.4L768.9 477.8L770.0 477.1L771.2 476.5L772.4 475.9L773.8 475.3L775.1 474.7L776.5 474.2L777.8 473.8L779.2 473.4L780.6 473.0L782.1 472.6L783.7 472.3L785.5 472.0L787.4 471.7L789.5 471.4L791.8 471.1L794.2 470.8L796.7 470.6L799.2 470.3L801.7 470.1L804.2 470.0L806.7 469.9L809.0 469.9L811.4 469.9L813.7 470.0L816.1 470.1L818.5 470.2L820.9 470.4L823.5 470.6L826.1 470.8L829.0 471.0L832.2 471.3L835.6 471.7L839.0 472.0L842.3 472.3L845.3 472.5L847.9 472.5L849.9 471.9L850.1 470.8L848.5 469.5L846.1 468.5L843.3 467.5L840.1 466.5L836.8 465.6L833.4 464.7L830.2 463.9L827.2 463.2L824.5 462.7L821.9 462.3L819.4 461.9L816.8 461.5L814.3 461.2L811.8 461.0L809.3 460.8L806.7 460.7L804.0 460.7L801.3 460.8L798.5 460.9L795.8 461.1L793.2 461.4L790.6 461.7L788.2 462.0L785.9 462.3L783.8 462.7L781.8 463.1L780.0 463.6L778.2 464.1L776.4 464.6L774.8 465.2L773.1 465.9L771.5 466.6L770.0 467.3L768.5 468.2L767.0 469.0L765.5 470.0L764.1 471.0L762.7 472.2L761.4 473.5L760.3 474.9L759.3 476.4L758.4 477.9L757.8 479.5L757.2 481.2L756.8 482.8L756.5 484.5L756.3 486.3L756.2 488.1L756.3 490.1L756.5 492.2L756.9 494.4L757.4 496.5L758.0 498.5L758.6 500.3L759.2 501.7L760.1 502.7Z" fill="#ffa010"/><path d="M58.4 536.9L59.7 537.2L61.3 537.2L63.2 537.0L65.2 536.8L67.4 536.5L69.6 536.1L71.8 535.7L73.8 535.3L75.8 534.8L77.9 534.3L80.1 533.7L82.3 533.1L84.3 532.4L86.2 531.7L87.7 531.1L88.7 530.2L88.6 529.8L87.3 529.4L85.7 529.5L83.7 529.6L81.6 529.8L79.3 530.2L77.1 530.5L74.9 531.0L72.9 531.4L70.9 531.8L68.8 532.4L66.6 533.0L64.5 533.6L62.5 534.3L60.8 534.9L59.3 535.6L58.3 536.4Z" fill="#ffa010"/><path d="M90.0 546.7L90.4 546.4L91.0 546.4L91.9 546.5L92.9 546.7L94.0 547.0L95.0 547.4L95.9 547.8L96.7 548.3L97.3 549.0L98.0 549.8L98.6 550.8L99.2 551.9L99.6 552.9L99.9 553.8L100.1 554.5L100.0 555.0L99.6 555.2L99.0 555.3L98.1 555.2L97.1 555.0L96.0 554.7L95.0 554.3L94.1 553.8L93.3 553.3L92.7 552.7L92.0 551.8L91.4 550.8L90.8 549.8L90.4 548.8L90.1 547.9L89.9 547.1Z" fill="#ffa010"/><path d="M130.0 556.7L130.1 556.5L130.5 556.6L131.1 556.9L131.9 557.4L132.7 558.0L133.5 558.7L134.3 559.3L135.0 560.0L135.7 560.7L136.5 561.6L137.3 562.6L138.1 563.6L138.9 564.6L139.5 565.5L139.9 566.2L140.0 566.7L139.9 566.9L139.5 567.0L138.9 566.9L138.1 566.8L137.3 566.5L136.5 566.1L135.7 565.6L135.0 565.0L134.3 564.2L133.5 563.1L132.7 561.9L131.9 560.5L131.1 559.2L130.5 558.1L130.1 557.2Z" fill="#ffa010"/><path d="M70.0 545.0L70.3 544.7L70.9 544.3L71.5 544.0L72.3 543.8L73.1 543.5L73.8 543.4L74.5 543.3L75.0 543.3L75.4 543.5L75.8 543.9L76.2 544.3L76.5 544.8L76.7 545.3L76.8 545.8L76.8 546.3L76.7 546.7L76.3 547.0L75.8 547.3L75.1 547.6L74.4 547.9L73.6 548.1L72.8 548.3L72.2 548.4L71.7 548.3L71.3 548.1L70.9 547.8L70.5 547.4L70.2 546.9L70.0 546.3L69.9 545.8L69.9 545.4Z" fill="#ffa010"/><path d="M280.0 657.3L280.5 657.2L281.1 656.9L281.8 656.5L282.5 656.0L283.3 655.5L284.0 655.0L284.8 654.4L285.4 653.9L286.2 653.4L286.9 652.8L287.7 652.2L288.5 651.6L289.2 651.0L289.9 650.4L290.4 649.9L290.7 649.3L290.7 649.3L290.1 649.4L289.4 649.7L288.6 650.1L287.8 650.6L286.9 651.1L286.1 651.7L285.3 652.2L284.6 652.7L283.9 653.3L283.1 653.9L282.4 654.5L281.8 655.1L281.2 655.7L280.6 656.3L280.2 656.8L280.0 657.3Z" fill="#ffa010"/><path d="M298.3 626.7L298.8 626.4L299.3 626.0L299.8 625.4L300.4 624.8L300.9 624.1L301.4 623.4L301.9 622.7L302.3 622.1L302.7 621.4L303.0 620.8L303.3 620.1L303.5 619.4L303.8 618.8L303.9 618.3L304.0 617.8L304.0 617.3L304.0 617.3L303.6 617.6L303.3 617.9L302.9 618.4L302.5 618.9L302.2 619.5L301.8 620.1L301.4 620.7L301.0 621.3L300.6 621.9L300.2 622.6L299.8 623.3L299.3 624.1L298.9 624.8L298.6 625.5L298.4 626.1L298.3 626.7Z" fill="#ffa010"/><path d="M575.0 641.3L576.3 642.1L578.1 642.8L580.3 643.7L582.7 644.5L585.3 645.4L588.0 646.1L590.6 646.8L593.2 647.2L595.7 647.5L598.2 647.6L600.8 647.7L603.4 647.7L606.0 647.5L608.5 647.3L611.1 647.0L613.6 646.5L616.1 645.9L618.8 645.0L621.5 643.9L624.1 642.8L626.5 641.6L628.6 640.5L630.4 639.6L631.7 638.7L631.7 638.7L630.1 638.9L628.2 639.5L625.9 640.3L623.4 641.2L620.8 642.1L618.1 642.9L615.5 643.6L613.1 644.1L610.7 644.5L608.3 644.8L605.8 645.0L603.3 645.1L600.8 645.1L598.3 645.1L595.9 645.0L593.5 644.8L591.0 644.5L588.4 644.1L585.8 643.5L583.2 642.9L580.7 642.3L578.4 641.8L576.5 641.4L575.0 641.3Z" fill="#ffa010"/><path d="M700.0 580.0L702.8 579.9L706.5 579.4L711.0 578.6L715.9 577.7L720.9 576.8L725.7 575.8L730.1 574.9L733.7 574.2L736.6 573.5L739.0 573.0L741.2 572.5L743.1 572.0L744.9 571.5L746.7 571.0L748.5 570.5L750.5 569.8L752.6 569.1L754.8 568.3L757.0 567.5L759.2 566.6L761.3 565.7L763.4 564.8L765.4 563.8L767.3 562.8L769.1 561.8L770.8 560.7L772.4 559.5L774.0 558.4L775.4 557.2L776.7 556.1L777.9 555.0L778.9 553.9L779.8 552.8L780.4 551.7L780.9 550.7L781.2 549.7L781.4 548.7L781.6 547.9L781.7 547.2L781.7 546.7L781.7 546.7L781.3 547.1L780.9 547.7L780.6 548.5L780.3 549.3L779.8 550.2L779.3 551.1L778.6 551.9L777.7 552.8L776.7 553.7L775.5 554.6L774.2 555.6L772.7 556.6L771.1 557.6L769.5 558.6L767.8 559.6L766.0 560.5L764.2 561.4L762.3 562.2L760.2 563.0L758.1 563.9L755.9 564.6L753.8 565.4L751.6 566.1L749.5 566.8L747.6 567.4L745.8 568.0L744.1 568.5L742.3 568.9L740.4 569.4L738.3 569.9L735.9 570.5L733.0 571.2L729.4 572.0L725.1 573.1L720.3 574.2L715.4 575.5L710.6 576.7L706.2 577.9L702.6 578.9L700.0 580.0Z" fill="#ffa010"/><path d="M626.9 637.7L628.5 637.9L630.2 637.6L632.1 636.9L634.2 636.1L636.3 635.1L638.3 633.9L640.3 632.7L642.1 631.5L643.8 630.1L645.5 628.6L647.1 627.0L648.6 625.3L649.9 623.6L651.0 622.0L651.8 620.6L651.9 619.0L651.4 618.4L649.8 618.3L648.3 619.0L646.6 619.9L644.8 621.0L643.0 622.2L641.2 623.5L639.5 624.7L637.9 625.9L636.3 627.0L634.6 628.3L632.8 629.7L631.1 631.2L629.4 632.6L628.0 634.1L626.9 635.4L626.4 637.0Z" fill="#ffa010"/><path d="M593.3 647.3L595.0 647.6L597.1 647.5L599.6 647.4L602.4 647.2L605.4 646.9L608.3 646.4L611.1 645.9L613.7 645.2L616.1 644.3L618.6 643.2L621.0 642.0L623.4 640.7L625.5 639.3L627.4 638.1L628.9 637.0L630.0 636.0L630.0 636.0L628.5 636.3L626.8 637.0L624.7 637.9L622.5 638.9L620.1 640.0L617.6 641.1L615.2 642.0L613.0 642.8L610.6 643.5L607.9 644.1L605.0 644.6L602.2 645.2L599.4 645.7L596.9 646.2L594.8 646.7L593.3 647.3Z" fill="#ffa010"/><path d="M665.7 548.0L666.2 547.4L666.9 547.0L667.8 546.8L668.8 546.7L669.7 546.8L670.7 547.0L671.4 547.4L672.0 548.0L672.4 548.9L672.7 550.2L673.0 551.7L673.1 553.3L673.2 555.0L673.1 556.5L673.0 557.8L672.7 558.7L672.1 559.2L671.4 559.7L670.4 559.9L669.4 560.0L668.4 559.9L667.4 559.7L666.6 559.2L666.0 558.7L665.6 557.8L665.3 556.5L665.1 555.0L665.0 553.3L665.0 551.7L665.1 550.2L665.3 548.9Z" fill="#ffa010"/><path d="M785.1 523.8L786.1 524.4L787.3 524.6L788.6 524.6L790.1 524.6L791.6 524.5L793.2 524.3L794.7 524.1L796.0 523.8L797.3 523.5L798.6 523.1L799.7 522.6L800.7 522.2L801.6 521.8L802.5 521.5L803.4 521.2L804.2 521.0L805.2 520.8L806.2 520.6L807.4 520.4L808.6 520.3L810.0 520.1L811.3 519.8L812.7 519.5L814.1 519.1L815.4 518.5L816.7 517.8L817.9 517.1L819.0 516.4L820.0 515.6L820.9 514.8L821.5 514.1L821.8 513.1L821.5 512.3L820.5 511.8L819.5 511.8L818.4 511.9L817.2 512.1L816.0 512.4L814.8 512.6L813.6 512.8L812.6 512.9L811.6 513.0L810.5 513.0L809.3 513.1L808.0 513.1L806.7 513.1L805.3 513.2L803.9 513.4L802.4 513.7L801.1 514.1L799.8 514.6L798.7 515.1L797.6 515.6L796.7 516.1L795.8 516.6L794.9 517.1L794.0 517.5L792.9 518.0L791.6 518.6L790.2 519.2L788.9 519.8L787.6 520.5L786.4 521.2L785.5 521.9L784.9 522.9Z" fill="#ffa010"/><path d="M763.3 531.7L763.5 531.2L763.9 530.7L764.3 530.4L764.8 530.2L765.4 530.1L765.9 530.2L766.3 530.3L766.7 530.7L767.0 531.3L767.2 532.1L767.5 533.2L767.8 534.4L767.9 535.6L768.0 536.7L768.1 537.6L768.0 538.3L767.8 538.8L767.4 539.3L767.0 539.6L766.5 539.8L766.0 539.9L765.5 539.8L765.0 539.7L764.7 539.3L764.4 538.7L764.1 537.9L763.8 536.8L763.6 535.6L763.4 534.4L763.3 533.3L763.3 532.4Z" fill="#ffa010"/><path d="M829.9 503.1L830.5 504.3L831.4 505.1L832.6 505.9L833.9 506.5L835.3 507.1L836.7 507.5L838.1 507.9L839.4 508.1L840.6 508.2L841.9 508.3L843.1 508.3L844.4 508.2L845.5 508.0L846.6 507.7L847.5 507.3L848.3 506.4L848.4 505.6L847.9 504.5L847.2 503.9L846.3 503.3L845.2 502.7L844.1 502.3L842.9 501.9L841.8 501.5L840.6 501.2L839.4 501.0L838.0 500.8L836.6 500.7L835.1 500.7L833.6 500.7L832.3 500.9L831.1 501.3L830.1 502.3Z" fill="#ffa010"/><path d="M611.7 756.7L612.1 756.1L612.9 755.5L613.8 755.1L614.8 754.8L615.8 754.6L616.8 754.5L617.7 754.7L618.3 755.0L618.8 755.6L619.3 756.5L619.7 757.7L620.0 758.9L620.2 760.2L620.3 761.5L620.2 762.5L620.0 763.3L619.5 764.0L618.8 764.5L617.9 765.0L616.9 765.4L615.8 765.6L614.8 765.7L614.0 765.6L613.3 765.3L612.8 764.7L612.4 763.8L612.0 762.6L611.7 761.2L611.5 759.9L611.4 758.6L611.4 757.5Z" fill="#ffa010"/><path d="M612.0 756.7L612.5 756.1L613.2 755.5L614.1 755.1L615.2 754.8L616.2 754.6L617.2 754.5L618.0 754.7L618.7 755.0L619.1 755.6L619.6 756.5L619.9 757.7L620.2 758.9L620.3 760.2L620.4 761.5L620.3 762.5L620.0 763.3L619.5 764.0L618.8 764.5L617.9 765.0L616.8 765.4L615.8 765.6L614.8 765.7L614.0 765.6L613.3 765.3L612.9 764.7L612.4 763.8L612.1 762.6L611.8 761.2L611.7 759.9L611.6 758.6L611.7 757.5Z" fill="#ffa010"/><path d="M651.7 630.0L652.5 629.2L653.5 628.6L654.7 628.0L656.0 627.6L657.4 627.2L658.9 626.9L660.3 626.8L661.7 626.7L663.1 626.7L664.5 626.8L666.0 627.1L667.5 627.4L669.0 627.9L670.5 628.3L671.9 628.7L673.3 629.2L674.7 629.6L676.2 630.0L677.6 630.4L679.0 630.8L680.3 631.3L681.5 631.8L682.5 632.5L683.3 633.3L683.9 634.3L684.3 635.5L684.6 636.8L684.7 638.2L684.7 639.6L684.6 640.9L684.4 642.2L684.2 643.3L683.7 644.3L683.1 645.2L682.4 646.0L681.5 646.8L680.6 647.5L679.8 648.3L679.0 649.1L678.3 650.0L677.8 651.0L677.4 652.1L677.1 653.2L676.8 654.3L676.5 655.4L676.1 656.5L675.6 657.5L675.0 658.3L674.2 659.1L673.2 659.8L672.2 660.5L671.0 661.0L669.9 661.5L668.8 662.0L667.7 662.3L666.7 662.5L665.7 662.6L664.8 662.7L663.9 662.6L663.1 662.5L662.2 662.3L661.5 661.9L660.7 661.4L660.0 660.8L659.4 660.0L658.8 659.0L658.3 657.8L657.8 656.5L657.3 655.1L656.8 653.8L656.3 652.7L655.8 651.7L655.3 650.8L654.9 649.9L654.4 649.1L653.9 648.4L653.4 647.7L652.9 647.2L652.3 646.9L651.7 646.7L650.9 646.7L650.1 647.1L649.1 647.6L648.2 648.2L647.2 648.9L646.4 649.4L645.6 649.8L645.0 650.0L644.5 649.9L644.0 649.7L643.6 649.4L643.3 649.0L643.1 648.5L643.0 647.9L643.1 647.3L643.3 646.7L643.8 646.0L644.5 645.3L645.4 644.6L646.5 643.8L647.5 642.9L648.5 642.0L649.3 641.0L650.0 640.0L650.4 638.9L650.6 637.6L650.6 636.2L650.6 634.8L650.7 633.4L650.8 632.1L651.1 631.0Z" fill="#ffa010"/><path d="M670.0 615.8L670.4 615.7L671.1 615.5L671.9 615.4L672.8 615.3L673.7 615.2L674.6 615.2L675.3 615.2L675.8 615.3L676.2 615.5L676.5 615.8L676.7 616.2L676.8 616.6L676.8 617.0L676.8 617.4L676.6 617.8L676.3 618.0L675.9 618.2L675.3 618.3L674.5 618.4L673.7 618.5L672.8 618.5L672.0 618.5L671.3 618.4L670.8 618.3L670.5 618.1L670.1 617.9L669.9 617.5L669.7 617.1L669.6 616.7L669.6 616.4L669.8 616.1Z" fill="#ffa010"/><path d="M697.5 639.2L698.5 639.0L699.5 638.6L700.8 638.0L702.1 637.2L703.5 636.4L704.9 635.6L706.2 634.9L707.4 634.2L708.5 633.7L709.6 633.1L710.8 632.6L712.0 632.1L713.1 631.5L714.2 631.0L715.4 630.4L716.4 629.9L717.5 629.2L718.5 628.6L719.6 627.9L720.6 627.2L721.5 626.5L722.3 625.9L723.0 625.3L723.3 624.7L723.3 624.7L722.6 624.6L721.7 624.9L720.8 625.2L719.7 625.6L718.6 626.0L717.5 626.5L716.3 627.0L715.2 627.5L714.2 627.9L713.1 628.4L711.9 628.8L710.7 629.3L709.6 629.9L708.3 630.4L707.1 631.1L706.0 631.8L704.7 632.5L703.4 633.5L702.2 634.5L700.9 635.5L699.8 636.5L698.7 637.5L697.9 638.3L697.5 639.2Z" fill="#ffa010"/><path d="M686.7 640.0L686.9 639.8L687.3 639.6L687.8 639.4L688.3 639.4L688.8 639.3L689.3 639.4L689.7 639.5L690.0 639.7L690.2 640.0L690.3 640.5L690.4 641.0L690.4 641.6L690.4 642.3L690.3 642.8L690.2 643.3L690.0 643.7L689.8 643.9L689.4 644.0L689.0 644.1L688.5 644.1L688.1 644.1L687.6 644.0L687.3 643.9L687.0 643.7L686.8 643.4L686.6 642.9L686.5 642.4L686.4 641.9L686.4 641.3L686.4 640.8L686.5 640.3Z" fill="#ffa010"/><path d="M751.7 605.0L752.1 604.9L752.7 604.8L753.4 604.8L754.2 604.8L754.9 604.8L755.7 604.8L756.2 604.9L756.7 605.0L756.9 605.2L757.1 605.4L757.3 605.7L757.3 606.0L757.3 606.3L757.1 606.6L756.9 606.8L756.7 607.0L756.2 607.1L755.7 607.2L754.9 607.2L754.2 607.2L753.4 607.2L752.7 607.2L752.1 607.1L751.7 607.0L751.4 606.8L751.2 606.6L751.1 606.3L751.0 606.0L751.1 605.7L751.2 605.4L751.4 605.2Z" fill="#ffa010"/><path d="M241.0 431.6L241.2 431.0L241.6 430.2L242.2 429.3L242.8 428.3L243.6 427.2L244.4 426.1L245.2 425.0L246.0 424.0L246.8 423.0L247.8 422.0L248.7 421.0L249.8 420.0L250.8 418.9L251.9 417.9L252.9 417.0L254.0 416.0L255.1 415.1L256.2 414.2L257.4 413.3L258.6 412.5L259.7 411.7L260.9 410.8L262.0 409.9L263.0 409.0L264.0 408.0L264.9 407.0L265.7 406.0L266.6 405.0L267.4 404.0L268.2 403.0L269.1 402.0L270.0 401.0L271.0 400.1L271.9 399.2L272.9 398.3L273.9 397.4L275.0 396.5L276.0 395.7L277.0 394.8L278.0 394.0L279.0 393.2L280.0 392.4L280.9 391.6L281.9 390.9L282.9 390.1L283.9 389.4L284.9 388.7L286.0 388.0L287.2 387.3L288.4 386.7L289.6 386.1L290.9 385.4L292.2 384.8L293.5 384.2L294.7 383.6L296.0 383.0L297.2 382.4L298.5 381.8L299.8 381.1L301.0 380.5L302.2 379.9L303.5 379.2L304.8 378.6L306.0 378.0L307.2 377.4L308.5 376.8L309.7 376.1L310.9 375.5L312.1 374.9L313.4 374.2L314.7 373.6L316.0 373.0L317.4 372.4L318.9 371.8L320.4 371.1L321.9 370.5L323.4 369.9L325.0 369.2L326.5 368.6L328.0 368.0L329.5 367.4L331.0 366.7L332.5 366.1L334.0 365.4L335.5 364.8L337.0 364.1L338.5 363.5L340.0 363.0L341.5 362.5L343.0 362.0L344.5 361.5L346.0 361.1L347.5 360.7L349.0 360.3L350.5 359.9L352.0 359.6L353.5 359.3L355.1 359.0L356.7 358.7L358.3 358.5L359.9 358.2L361.4 358.0L362.7 357.8L364.0 357.6L365.2 357.4L366.4 357.2L367.6 357.0L368.7 356.8L369.6 356.6L370.4 356.5L370.8 356.5L371.0 356.6L370.8 356.8L370.3 357.1L369.5 357.5L368.6 358.0L367.5 358.5L366.3 359.0L365.1 359.5L364.0 360.0L362.9 360.4L361.7 360.9L360.5 361.3L359.2 361.8L357.9 362.2L356.6 362.7L355.3 363.1L354.0 363.6L352.8 364.1L351.5 364.6L350.2 365.0L349.0 365.5L347.8 366.0L346.5 366.5L345.2 367.1L344.0 367.6L342.8 368.2L341.5 368.7L340.2 369.3L339.0 369.9L337.8 370.5L336.5 371.1L335.2 371.8L334.0 372.4L332.7 373.1L331.5 373.8L330.2 374.5L328.9 375.2L327.6 375.9L326.4 376.6L325.2 377.3L324.0 378.0L322.9 378.6L321.9 379.3L320.9 379.9L319.9 380.5L318.9 381.1L318.0 381.7L317.0 382.3L316.0 383.0L315.0 383.7L314.0 384.5L313.0 385.2L312.0 386.0L311.0 386.8L310.0 387.5L309.0 388.3L308.0 389.0L307.0 389.7L306.0 390.3L305.1 390.9L304.1 391.6L303.1 392.2L302.1 392.8L301.1 393.4L300.0 394.0L298.8 394.6L297.6 395.3L296.4 395.9L295.1 396.6L293.8 397.2L292.5 397.8L291.3 398.4L290.0 399.0L288.7 399.5L287.5 400.1L286.2 400.6L284.9 401.1L283.6 401.5L282.4 402.0L281.2 402.5L280.0 403.0L278.9 403.5L277.9 404.0L276.9 404.4L275.9 404.9L274.9 405.4L274.0 405.9L273.0 406.4L272.0 407.0L271.0 407.6L270.0 408.3L269.0 409.1L268.0 409.8L267.0 410.6L266.0 411.4L265.0 412.2L264.0 413.0L263.0 413.8L262.0 414.7L260.9 415.6L259.9 416.5L258.9 417.4L257.9 418.3L256.9 419.2L256.0 420.0L255.2 420.8L254.4 421.6L253.6 422.3L252.9 423.1L252.2 423.8L251.5 424.6L250.7 425.3L250.0 426.0L249.2 426.8L248.4 427.6L247.6 428.4L246.8 429.2L246.0 429.9L245.3 430.6L244.6 431.2L244.0 431.6L243.4 431.9L242.9 432.2L242.3 432.3L241.8 432.4L241.4 432.4L241.1 432.3L241.0 432.0Z" fill="#ffa010" stroke="#ffa010" stroke-width="8.0" stroke-linejoin="round"/><path d="M364.7 530.0L364.7 529.4L364.8 528.9L365.0 528.7L365.3 528.6L365.5 528.8L365.8 529.0L366.1 529.4L366.3 530.0L366.6 530.8L366.8 531.8L367.0 533.0L367.2 534.4L367.4 535.8L367.7 537.3L368.0 538.7L368.3 540.0L368.7 541.2L369.1 542.5L369.5 543.8L369.9 545.0L370.4 546.2L370.9 547.5L371.4 548.8L372.0 550.0L372.6 551.3L373.3 552.6L374.1 553.9L374.9 555.2L375.7 556.5L376.5 557.7L377.2 558.9L378.0 560.0L378.7 561.0L379.3 561.9L379.9 562.7L380.5 563.5L381.1 564.3L381.9 565.0L382.7 565.8L383.7 566.7L384.8 567.6L386.1 568.6L387.5 569.6L389.0 570.6L390.5 571.6L392.0 572.5L393.5 573.4L395.0 574.2L396.4 574.8L397.9 575.4L399.4 576.0L400.8 576.4L402.3 576.9L403.7 577.3L405.2 577.6L406.7 578.0L408.1 578.3L409.7 578.5L411.2 578.7L412.7 578.8L414.2 579.0L415.6 579.1L417.0 579.4L418.3 579.7L419.6 580.1L421.0 580.5L422.3 581.0L423.6 581.5L424.7 582.0L425.7 582.6L426.5 583.1L427.0 583.7L427.3 584.2L427.3 584.9L427.1 585.6L426.8 586.2L426.3 586.9L425.7 587.5L425.0 588.0L424.2 588.3L423.2 588.6L422.0 588.8L420.7 589.0L419.2 589.1L417.7 589.1L416.2 589.0L414.7 588.9L413.3 588.7L412.1 588.3L410.8 587.9L409.6 587.4L408.4 586.8L407.2 586.1L405.9 585.4L404.7 584.8L403.3 584.2L401.9 583.6L400.5 583.0L399.0 582.4L397.4 581.7L395.9 581.1L394.4 580.5L393.0 579.8L391.7 579.2L390.4 578.5L389.2 577.9L388.0 577.4L386.8 576.7L385.7 576.1L384.6 575.4L383.5 574.6L382.5 573.7L381.5 572.6L380.5 571.4L379.5 570.1L378.5 568.8L377.6 567.4L376.7 566.0L375.8 564.6L375.0 563.3L374.2 562.1L373.5 560.8L372.8 559.6L372.1 558.4L371.4 557.2L370.8 555.9L370.2 554.7L369.7 553.3L369.1 552.0L368.7 550.5L368.2 549.1L367.8 547.6L367.4 546.1L367.0 544.6L366.7 543.1L366.3 541.7L366.0 540.1L365.7 538.5L365.4 536.8L365.2 535.1L365.0 533.5L364.8 532.1L364.7 530.9Z" fill="#ffa010" stroke="#ffa010" stroke-width="8.0" stroke-linejoin="round"/><path d="M361.7 505.0L362.3 504.3L363.0 503.6L363.7 502.9L364.5 502.3L365.3 501.7L366.0 501.1L366.8 500.5L367.5 500.0L368.2 499.4L369.0 498.8L369.7 498.2L370.5 497.6L371.1 497.1L371.7 496.8L372.2 496.6L372.5 496.7L372.6 497.0L372.6 497.6L372.5 498.4L372.2 499.4L371.9 500.4L371.6 501.4L371.2 502.4L370.8 503.3L370.4 504.1L369.9 504.9L369.2 505.7L368.6 506.5L368.0 507.3L367.4 508.1L367.0 509.0L366.7 510.0L366.6 511.1L366.6 512.3L366.8 513.6L367.0 514.9L367.2 516.2L367.4 517.5L367.5 518.8L367.5 520.0L367.4 521.2L367.1 522.4L366.9 523.5L366.6 524.7L366.2 525.8L365.8 526.8L365.4 527.6L365.0 528.3L364.6 528.9L364.1 529.5L363.5 530.0L363.0 530.3L362.4 530.5L361.9 530.6L361.3 530.4L360.8 530.0L360.3 529.3L359.8 528.3L359.3 527.0L358.9 525.6L358.4 524.1L358.0 522.7L357.7 521.2L357.5 520.0L357.4 518.9L357.4 517.8L357.4 516.7L357.5 515.6L357.7 514.6L357.9 513.6L358.1 512.6L358.3 511.7L358.6 510.7L358.9 509.8L359.3 509.0L359.7 508.1L360.1 507.3L360.6 506.5L361.1 505.7Z" fill="#ffa010"/><path d="M360.0 530.0L360.2 531.0L360.4 532.4L360.6 534.1L360.9 535.9L361.3 537.9L361.6 539.8L362.1 541.7L362.5 543.3L363.0 544.9L363.5 546.4L364.0 547.8L364.6 549.3L365.3 550.7L366.0 552.1L366.7 553.6L367.5 555.0L368.4 556.5L369.3 558.0L370.2 559.4L371.2 560.9L372.3 562.4L373.4 563.9L374.6 565.3L375.8 566.7L377.2 568.0L378.6 569.3L380.1 570.6L381.7 571.9L383.3 573.1L384.9 574.3L386.6 575.5L388.3 576.7L390.1 577.8L391.9 579.0L393.8 580.1L395.8 581.2L397.7 582.3L399.6 583.2L401.5 584.2L403.3 585.0L405.1 585.8L406.8 586.5L408.5 587.2L410.2 587.8L411.9 588.3L413.5 588.7L415.1 589.0L416.7 589.2L418.3 589.2L420.0 589.0L421.7 588.6L423.3 588.2L424.9 587.7L426.3 587.3L427.4 586.9L428.3 586.7" fill="none" stroke="#ffa010" stroke-width="3.0" stroke-linecap="round" stroke-linejoin="round"/><path d="M440.0 582.2L441.2 582.7L442.6 582.9L444.3 582.9L446.2 582.8L448.2 582.7L450.2 582.5L452.0 582.2L453.7 582.0L455.2 581.7L456.8 581.3L458.4 580.9L459.9 580.4L461.3 579.9L462.5 579.4L463.5 579.0L464.2 578.2L464.1 577.8L463.2 577.4L462.1 577.3L460.8 577.3L459.3 577.3L457.7 577.5L456.1 577.6L454.5 577.8L453.0 578.0L451.4 578.3L449.6 578.6L447.7 579.0L445.7 579.4L443.9 579.9L442.3 580.4L440.9 581.0L440.0 581.8Z" fill="#ffa010"/><path d="M183.3 491.7L183.9 492.4L184.6 493.5L185.4 494.7L186.4 496.0L187.3 497.5L188.3 498.9L189.2 500.3L190.0 501.7L190.7 502.9L191.5 504.1L192.2 505.3L192.9 506.6L193.5 507.8L194.1 509.0L194.6 510.3L195.0 511.7L195.3 513.1L195.5 514.7L195.7 516.4L195.7 518.1L195.8 519.7L195.8 521.2L195.8 522.4L195.8 523.3" fill="none" stroke="#ffa010" stroke-width="4.0" stroke-linecap="round" stroke-linejoin="round"/><path d="M216.5 480.0L215.8 480.9L215.2 482.3L214.6 483.9L214.0 485.7L213.4 487.7L212.8 489.6L212.3 491.3L211.8 492.9L211.3 494.3L210.9 495.6L210.5 496.9L210.1 498.1L209.7 499.3L209.3 500.4L208.9 501.5L208.4 502.6L207.9 503.7L207.4 504.7L206.8 505.8L206.2 506.8L205.6 507.9L205.0 508.9L204.4 509.9L203.8 510.9L203.2 511.9L202.6 513.0L202.0 514.0L201.4 515.1L200.8 516.1L200.3 517.0L199.9 517.8L199.8 518.5L200.2 518.8L200.8 518.5L201.5 517.9L202.2 517.1L203.0 516.3L203.8 515.4L204.6 514.4L205.4 513.4L206.2 512.4L206.9 511.5L207.6 510.6L208.3 509.6L209.0 508.5L209.7 507.5L210.3 506.4L211.0 505.2L211.6 504.1L212.1 502.9L212.6 501.6L213.0 500.4L213.4 499.2L213.8 497.9L214.2 496.6L214.5 495.2L214.9 493.8L215.3 492.1L215.7 490.3L216.1 488.3L216.4 486.3L216.7 484.4L216.9 482.7L217.0 481.2L216.9 480.0Z" fill="#ffa010"/><path d="M195.5 519.2L195.4 520.0L195.2 521.1L194.9 522.3L194.7 523.8L194.4 525.3L194.2 526.9L194.0 528.5L193.8 530.0L193.7 531.6L193.7 533.2L193.6 534.9L193.6 536.6L193.6 538.3L193.6 540.1L193.7 541.7L193.8 543.3L194.0 544.9L194.2 546.4L194.5 548.0L194.8 549.5L195.1 550.9L195.5 552.3L195.9 553.7L196.3 555.0L196.8 556.2L197.3 557.4L197.9 558.5L198.5 559.6L199.1 560.6L199.8 561.6L200.5 562.7L201.3 563.7L202.2 564.7L203.1 565.7L204.1 566.7L205.1 567.7L206.1 568.7L207.2 569.6L208.4 570.5L209.7 571.3L211.0 572.1L212.4 572.9L213.9 573.7L215.5 574.4L217.0 575.0L218.6 575.6L220.2 576.0L221.7 576.3L223.2 576.5L224.6 576.6L226.1 576.5L227.6 576.4L229.1 576.2L230.5 576.0L232.0 575.7L233.3 575.3L234.7 574.9L236.2 574.4L237.6 573.8L239.1 573.1L240.4 572.5L241.6 571.9L242.6 571.4L243.3 571.0" fill="none" stroke="#ffa010" stroke-width="6.0" stroke-linecap="round" stroke-linejoin="round"/><path d="M206.7 560.0L207.6 559.7L208.8 559.7L210.2 559.9L211.8 560.2L213.4 560.6L215.1 561.0L216.8 561.4L218.3 561.7L219.8 561.9L221.3 562.2L222.8 562.4L224.3 562.7L225.7 563.0L227.2 563.2L228.6 563.3L230.0 563.3L231.4 563.2L232.8 562.9L234.3 562.5L235.7 562.0L237.0 561.6L238.2 561.4L239.2 561.4L240.0 561.7L240.6 562.3L241.0 563.3L241.3 564.5L241.4 565.9L241.4 567.3L241.2 568.6L240.9 569.8L240.3 570.8L239.6 571.6L238.6 572.4L237.4 573.1L236.1 573.7L234.7 574.2L233.2 574.6L231.6 575.0L230.0 575.3L228.3 575.6L226.4 575.8L224.4 576.0L222.4 576.1L220.3 576.0L218.4 575.9L216.6 575.7L215.0 575.3L213.6 574.8L212.3 574.1L211.0 573.3L209.9 572.4L208.9 571.4L208.0 570.3L207.3 569.3L206.7 568.3L206.2 567.3L205.8 566.1L205.5 564.9L205.4 563.6L205.4 562.5L205.7 561.4L206.1 560.6Z" fill="#ffa010"/><path d="M238.3 558.3L239.2 557.5L240.4 556.9L241.8 556.5L243.4 556.3L245.2 556.2L246.9 556.1L248.5 556.0L250.0 555.8L251.3 555.6L252.5 555.5L253.7 555.4L254.9 555.3L256.1 555.2L257.3 555.1L258.6 555.1L260.0 555.0L261.6 554.9L263.3 554.7L265.2 554.4L267.1 554.2L268.9 554.1L270.6 554.1L272.1 554.3L273.3 554.7L274.3 555.3L275.1 556.2L275.7 557.2L276.2 558.3L276.6 559.6L276.8 560.8L276.9 562.1L277.0 563.3L276.9 564.6L276.7 566.1L276.4 567.7L275.9 569.3L275.4 570.7L274.8 572.0L274.2 573.0L273.7 573.7L273.1 573.9L272.5 573.8L271.8 573.4L271.1 572.8L270.4 572.1L269.7 571.4L269.0 570.7L268.3 570.0L267.7 569.3L267.1 568.5L266.5 567.6L265.9 566.6L265.3 565.8L264.6 565.0L264.0 564.5L263.3 564.2L262.6 564.1L262.0 564.3L261.2 564.7L260.5 565.2L259.8 565.8L259.0 566.4L258.3 567.0L257.5 567.5L256.7 568.0L256.0 568.6L255.2 569.2L254.5 569.8L253.7 570.4L252.8 570.9L251.9 571.3L250.8 571.7L249.6 572.0L248.2 572.3L246.7 572.6L245.1 572.8L243.6 572.8L242.2 572.7L240.9 572.3L240.0 571.7L239.3 570.6L238.6 569.0L238.1 567.2L237.8 565.2L237.6 563.1L237.6 561.2L237.8 559.6Z" fill="#ffa010"/><path d="M216.7 541.3L217.4 541.3L218.8 541.4L220.6 541.7L222.7 542.1L224.8 542.5L226.9 543.0L228.7 543.5L230.0 544.0L231.0 544.5L231.9 545.1L232.7 545.8L233.3 546.4L233.7 547.1L233.9 547.6L233.9 548.1L233.7 548.3L233.1 548.4L232.1 548.4L230.8 548.3L229.3 548.1L227.8 547.8L226.3 547.5L224.9 547.1L223.7 546.7L222.5 546.1L221.2 545.4L219.9 544.6L218.7 543.7L217.7 542.9L216.9 542.2L216.5 541.6Z" fill="#ffa010"/><path d="M240.0 538.3L240.4 538.2L241.0 538.0L241.9 538.0L242.9 538.0L243.9 538.1L244.9 538.2L245.9 538.4L246.7 538.7L247.4 539.1L248.2 539.6L248.9 540.2L249.6 540.9L250.2 541.6L250.7 542.2L250.9 542.7L250.8 543.0L250.4 543.1L249.7 543.2L248.7 543.1L247.6 543.0L246.4 542.8L245.2 542.6L244.2 542.3L243.3 542.0L242.6 541.6L242.0 541.2L241.3 540.6L240.8 540.1L240.3 539.5L240.0 539.0L239.9 538.6Z" fill="#ffa010"/><path d="M202.5 544.2L202.7 544.0L203.1 543.8L203.5 543.7L203.9 543.6L204.3 543.5L204.8 543.5L205.1 543.6L205.3 543.7L205.5 543.9L205.6 544.2L205.7 544.5L205.7 544.9L205.7 545.4L205.6 545.8L205.5 546.1L205.3 546.3L205.1 546.5L204.8 546.6L204.4 546.8L204.0 546.8L203.6 546.9L203.2 546.8L202.9 546.8L202.7 546.7L202.5 546.5L202.4 546.2L202.3 545.8L202.2 545.5L202.2 545.1L202.3 544.7L202.4 544.4Z" fill="#ffa010"/><path d="M320.0 716.7L320.3 715.6L320.7 714.4L321.2 713.1L321.9 711.8L322.6 710.4L323.4 709.1L324.2 707.9L325.0 706.7L325.9 705.5L326.8 704.3L327.8 703.2L328.9 702.0L329.9 701.0L331.1 700.0L332.2 699.1L333.3 698.3L334.5 697.7L335.8 697.1L337.1 696.7L338.4 696.3L339.8 696.0L341.0 695.9L342.2 695.8L343.3 695.8L344.4 696.0L345.5 696.3L346.6 696.7L347.6 697.1L348.5 697.7L349.2 698.4L349.7 699.2L350.0 700.0L349.9 701.0L349.6 702.1L349.1 703.4L348.3 704.7L347.5 706.1L346.6 707.5L345.8 708.8L345.0 710.0L344.3 711.1L343.5 712.3L342.7 713.4L341.9 714.5L341.0 715.5L340.2 716.5L339.3 717.5L338.3 718.3L337.4 719.2L336.4 719.9L335.3 720.7L334.3 721.4L333.2 722.0L332.1 722.5L331.1 723.0L330.0 723.3L328.9 723.6L327.8 723.8L326.6 724.0L325.4 724.1L324.3 724.0L323.3 723.9L322.4 723.7L321.7 723.3L321.1 722.8L320.6 722.2L320.3 721.5L320.0 720.6L319.8 719.7L319.8 718.7L319.8 717.7Z" fill="#ffa010"/><path d="M365.8 671.7L366.2 670.6L367.0 669.1L368.1 667.4L369.3 665.6L370.7 663.7L372.2 662.0L373.6 660.4L375.0 659.2L376.3 658.2L377.7 657.4L379.1 656.7L380.6 656.2L382.1 655.8L383.6 655.4L385.1 655.2L386.7 655.0L388.3 655.0L389.9 655.2L391.5 655.6L393.2 656.1L394.9 656.5L396.6 656.8L398.3 656.9L400.0 656.7L401.7 656.0L403.6 655.0L405.5 653.8L407.4 652.4L409.2 651.1L410.8 649.9L412.2 648.9L413.3 648.3L414.2 648.1L415.0 648.0L415.5 648.1L415.9 648.4L416.1 648.8L416.0 649.4L415.7 650.0L415.0 650.8L413.9 651.8L412.4 653.1L410.5 654.6L408.4 656.1L406.2 657.7L404.0 659.2L401.9 660.6L400.0 661.7L398.2 662.6L396.4 663.3L394.7 664.0L392.9 664.6L391.2 665.1L389.6 665.4L388.1 665.7L386.7 665.8L385.4 665.8L384.2 665.4L383.1 664.8L382.1 664.2L381.1 663.6L380.2 663.2L379.3 663.1L378.3 663.3L377.4 664.1L376.5 665.2L375.7 666.7L374.8 668.3L374.0 669.9L373.2 671.4L372.4 672.6L371.7 673.3L370.8 673.8L369.8 674.0L368.8 674.0L367.8 673.9L366.9 673.6L366.2 673.1L365.8 672.5Z" fill="#ffa010"/><path d="M330.8 728.7L331.6 727.8L332.7 726.7L334.1 725.5L335.7 724.1L337.3 722.6L338.9 721.1L340.4 719.7L341.7 718.3L342.7 717.1L343.6 715.8L344.4 714.5L345.2 713.2L345.9 711.9L346.6 710.7L347.4 709.5L348.3 708.3L349.3 707.3L350.3 706.3L351.3 705.4L352.4 704.5L353.5 703.5L354.5 702.5L355.6 701.3L356.7 700.0L357.7 698.4L358.9 696.6L360.0 694.6L361.1 692.5L362.2 690.4L363.3 688.4L364.2 686.6L365.0 685.0L365.6 683.7L366.1 682.5L366.5 681.5L366.8 680.6L367.1 679.7L367.4 678.8L367.8 677.8L368.3 676.7L369.0 675.4L369.8 674.0L370.6 672.6L371.5 671.1L372.4 669.6L373.3 668.2L374.1 667.0L375.0 665.8L375.9 664.8L376.7 663.8L377.6 662.9L378.5 662.1L379.4 661.4L380.2 660.8L381.0 660.3L381.7 660.0L382.3 659.9L383.0 659.9L383.6 660.1L384.1 660.4L384.6 660.8L385.0 661.3L385.2 661.9L385.3 662.5L385.3 663.2L385.0 664.0L384.6 664.9L384.1 665.9L383.6 666.9L383.0 667.9L382.5 669.0L382.0 670.0L381.6 671.0L381.1 672.0L380.7 673.1L380.3 674.1L379.8 675.2L379.4 676.2L378.9 677.3L378.3 678.3L377.8 679.4L377.2 680.4L376.6 681.4L375.9 682.4L375.3 683.4L374.6 684.5L374.0 685.5L373.3 686.7L372.7 687.8L372.1 689.1L371.5 690.4L370.9 691.7L370.3 693.0L369.7 694.2L369.0 695.5L368.3 696.7L367.6 697.8L366.8 698.9L366.0 700.0L365.1 701.0L364.2 702.1L363.4 703.1L362.5 704.0L361.7 705.0L360.8 705.9L360.0 706.8L359.2 707.7L358.3 708.5L357.5 709.4L356.7 710.2L355.8 710.9L355.0 711.7L354.2 712.4L353.4 713.0L352.6 713.6L351.8 714.1L351.0 714.7L350.1 715.3L349.2 715.9L348.3 716.7L347.4 717.5L346.3 718.4L345.3 719.4L344.2 720.4L343.1 721.4L342.0 722.4L341.0 723.3L340.0 724.2L339.1 725.0L338.1 725.8L337.2 726.6L336.3 727.4L335.5 728.0L334.7 728.7L334.0 729.1L333.3 729.5L332.7 729.8L332.1 729.9L331.5 730.1L331.0 730.1L330.6 729.9L330.4 729.7L330.5 729.3Z" fill="#ffa010" stroke="#ffa010" stroke-width="6.4" stroke-linejoin="round"/><path d="M378.3 668.3L378.7 667.9L379.3 667.6L380.0 667.3L380.8 667.1L381.5 667.1L382.3 667.1L382.9 667.2L383.3 667.5L383.7 667.9L384.0 668.5L384.2 669.2L384.3 670.1L384.4 670.9L384.4 671.8L384.3 672.6L384.2 673.3L383.9 674.1L383.4 674.8L382.9 675.6L382.2 676.4L381.6 677.1L381.0 677.7L380.4 678.1L380.0 678.3L379.7 678.3L379.4 678.2L379.1 677.8L378.9 677.4L378.7 676.9L378.6 676.3L378.4 675.6L378.3 675.0L378.2 674.3L378.1 673.4L378.0 672.5L377.9 671.5L377.9 670.6L377.9 669.7L378.1 668.9Z" fill="#ffa010"/><path d="M323.3 736.7L323.7 735.8L324.4 734.9L325.4 733.8L326.7 732.8L328.0 731.8L329.3 731.0L330.6 730.4L331.7 730.0L332.7 729.9L333.8 730.0L334.9 730.3L336.0 730.7L337.0 731.3L337.8 731.9L338.2 732.6L338.3 733.3L338.0 734.2L337.3 735.4L336.2 736.7L335.0 738.0L333.7 739.3L332.3 740.4L331.1 741.2L330.0 741.7L329.0 741.7L327.9 741.4L326.7 740.8L325.6 740.1L324.7 739.2L323.9 738.3L323.4 737.5Z" fill="#ffa010"/><path d="M446.7 633.3L447.3 632.7L448.6 632.0L450.2 631.2L452.2 630.4L454.3 629.6L456.4 628.8L458.3 628.1L460.0 627.5L461.4 627.0L462.5 626.5L463.6 626.1L464.7 625.8L465.8 625.5L467.0 625.3L468.4 625.1L470.0 625.0L471.9 625.0L474.0 625.1L476.3 625.3L478.8 625.6L481.2 625.9L483.7 626.2L486.1 626.4L488.3 626.7L490.5 626.9L492.7 627.1L494.8 627.3L496.9 627.6L498.9 627.8L501.0 628.0L503.0 628.2L505.0 628.3L507.0 628.5L508.9 628.6L510.8 628.7L512.7 628.7L514.6 628.8L516.4 628.9L518.2 629.0L520.0 629.2L521.8 629.3L523.5 629.3L525.3 629.3L527.0 629.4L528.6 629.5L530.2 629.8L531.8 630.2L533.3 630.8L534.9 631.8L536.5 633.1L538.2 634.5L539.8 636.1L541.2 637.7L542.4 639.2L543.2 640.6L543.7 641.7L543.7 642.5L543.3 643.3L542.6 643.9L541.6 644.4L540.5 644.8L539.3 645.1L538.0 645.3L536.7 645.3L535.3 645.2L533.7 644.9L532.0 644.4L530.2 643.8L528.4 643.2L526.6 642.6L524.9 642.2L523.3 642.0L521.9 642.0L520.6 642.2L519.3 642.5L518.1 642.9L516.9 643.2L515.8 643.5L514.6 643.7L513.3 643.7L512.2 643.4L511.1 643.0L510.2 642.4L509.2 641.8L508.1 641.1L506.8 640.5L505.2 639.9L503.3 639.5L501.1 639.2L498.5 638.9L495.6 638.7L492.6 638.5L489.5 638.3L486.3 638.2L483.1 638.0L480.0 637.8L476.8 637.6L473.5 637.4L470.0 637.3L466.6 637.1L463.2 636.9L460.1 636.7L457.3 636.4L455.0 636.2L453.0 635.9L451.2 635.6L449.7 635.3L448.4 635.0L447.5 634.7L446.8 634.3L446.6 633.8Z" fill="#ffa010"/><path d="M487.5 662.5L487.7 663.3L488.3 664.2L489.0 665.1L489.8 666.2L490.6 667.2L491.5 668.3L492.3 669.4L493.0 670.5L493.7 671.6L494.4 672.8L495.1 674.2L495.8 675.6L496.6 676.9L497.3 678.2L498.2 679.4L499.0 680.5L500.0 681.3L500.9 682.0L501.9 682.6L502.9 683.0L503.7 683.3L504.5 683.6L505.2 683.7L505.8 683.7L505.8 683.7L505.6 683.1L505.0 682.6L504.4 682.1L503.7 681.6L503.0 681.0L502.3 680.3L501.6 679.6L501.0 678.9L500.4 677.9L499.8 676.8L499.1 675.5L498.5 674.2L497.7 672.8L497.0 671.4L496.2 670.1L495.3 668.8L494.4 667.7L493.3 666.7L492.3 665.7L491.2 664.8L490.1 663.9L489.2 663.3L488.3 662.7L487.5 662.5Z" fill="#ffa010"/><path d="M485.0 645.0L485.2 644.7L485.4 644.3L485.8 644.1L486.1 643.9L486.5 643.8L486.9 643.8L487.2 643.9L487.5 644.2L487.7 644.6L487.9 645.3L488.1 646.1L488.2 647.0L488.3 647.9L488.4 648.8L488.4 649.5L488.3 650.0L488.2 650.3L487.9 650.5L487.6 650.6L487.2 650.7L486.8 650.6L486.4 650.5L486.1 650.3L485.8 650.0L485.6 649.6L485.4 649.0L485.3 648.3L485.1 647.6L485.0 646.8L484.9 646.1L484.9 645.5Z" fill="#ffa010"/><path d="M70.0 808.4L70.3 808.0L70.9 807.7L71.7 807.4L72.6 807.1L73.7 806.9L74.7 806.7L75.8 806.7L76.7 806.7L77.6 806.8L78.5 807.0L79.5 807.3L80.5 807.7L81.4 808.1L82.2 808.5L82.9 808.9L83.3 809.3L83.6 809.8L83.8 810.2L83.8 810.7L83.7 811.2L83.5 811.7L83.2 812.2L82.7 812.6L82.2 812.9L81.5 813.1L80.7 813.3L79.6 813.5L78.5 813.6L77.4 813.7L76.3 813.7L75.3 813.6L74.4 813.3L73.7 813.0L72.8 812.4L72.0 811.8L71.3 811.0L70.7 810.3L70.3 809.6L70.0 808.9Z" fill="#ffa010"/><path d="M94.4 797.3L95.2 797.0L96.3 796.7L97.6 796.5L99.1 796.4L100.7 796.3L102.3 796.2L104.0 796.1L105.6 796.0L107.2 795.8L109.0 795.6L111.0 795.4L112.9 795.2L114.7 795.0L116.4 794.9L117.8 794.9L118.9 795.1L119.6 795.5L120.2 796.0L120.5 796.6L120.7 797.4L120.6 798.1L120.4 798.8L119.9 799.5L119.3 800.0L118.5 800.4L117.3 800.8L115.9 801.1L114.3 801.4L112.7 801.6L111.0 801.9L109.3 802.0L107.8 802.2L106.2 802.4L104.5 802.6L102.8 802.8L101.0 802.9L99.4 803.0L97.8 803.0L96.6 802.9L95.6 802.7L94.8 802.2L94.2 801.6L93.8 800.9L93.5 800.1L93.5 799.3L93.6 798.5L93.9 797.8Z" fill="#ffa010"/><path d="M163.3 786.7L164.3 786.7L165.7 786.9L167.4 787.4L169.4 787.9L171.4 788.4L173.4 788.8L175.2 789.0L176.7 788.9L177.9 788.5L179.0 787.8L180.0 787.0L180.9 786.0L181.8 785.0L182.6 784.0L183.5 783.0L184.4 782.2L185.4 781.5L186.5 780.6L187.5 779.8L188.5 779.1L189.5 778.4L190.5 777.8L191.4 777.5L192.2 777.3L193.1 777.4L194.0 777.7L194.8 778.2L195.7 778.8L196.4 779.5L196.9 780.3L197.1 781.2L197.1 782.2L196.7 783.4L196.0 784.7L194.9 786.2L193.8 787.8L192.5 789.3L191.2 790.8L190.0 792.2L188.9 793.3L187.9 794.3L187.0 795.2L186.1 796.0L185.2 796.7L184.3 797.3L183.4 797.8L182.5 798.1L181.6 798.2L180.7 798.1L179.8 797.7L179.0 797.1L178.1 796.4L177.2 795.7L176.3 795.0L175.4 794.3L174.4 793.8L173.4 793.4L172.2 793.1L170.9 792.9L169.7 792.7L168.5 792.5L167.4 792.2L166.4 791.9L165.6 791.6L164.9 791.0L164.2 790.4L163.6 789.6L163.1 788.8L162.7 788.1L162.6 787.5L162.8 787.0Z" fill="#ffa010"/><path d="M124.4 778.9L124.7 778.6L125.0 778.4L125.5 778.2L126.0 778.1L126.5 778.0L127.0 778.0L127.4 778.1L127.8 778.2L128.1 778.5L128.3 779.0L128.6 779.5L128.8 780.2L128.9 780.8L129.0 781.4L129.0 781.9L128.9 782.2L128.7 782.5L128.3 782.7L127.9 782.8L127.4 782.9L126.8 783.0L126.3 782.9L125.9 782.8L125.6 782.7L125.3 782.4L125.0 781.9L124.8 781.4L124.6 780.8L124.4 780.3L124.4 779.7L124.4 779.2Z" fill="#ffa010"/><path d="M126.7 795.6L126.9 795.3L127.2 795.1L127.6 795.0L128.1 794.9L128.5 794.8L128.9 794.8L129.3 794.9L129.6 795.1L129.8 795.4L129.9 795.8L130.0 796.4L130.1 796.9L130.2 797.5L130.2 798.1L130.1 798.5L130.0 798.9L129.8 799.1L129.5 799.3L129.1 799.5L128.6 799.6L128.2 799.6L127.7 799.6L127.4 799.5L127.1 799.3L126.9 799.0L126.8 798.6L126.6 798.1L126.5 797.5L126.5 796.9L126.5 796.4L126.5 795.9Z" fill="#ffa010"/><path d="M107.3 809.8L107.6 809.6L107.9 809.4L108.4 809.3L108.8 809.2L109.3 809.1L109.8 809.1L110.2 809.2L110.4 809.3L110.7 809.6L110.8 809.9L111.0 810.4L111.1 810.8L111.1 811.3L111.1 811.8L111.0 812.2L110.9 812.4L110.7 812.7L110.3 812.8L109.9 813.0L109.4 813.1L108.9 813.1L108.5 813.1L108.1 813.0L107.8 812.9L107.6 812.7L107.4 812.3L107.3 811.9L107.2 811.4L107.1 810.9L107.1 810.5L107.2 810.1Z" fill="#ffa010"/><path d="M88.9 809.8L89.1 809.5L89.5 809.4L90.0 809.2L90.5 809.1L91.0 809.1L91.5 809.1L91.9 809.2L92.2 809.3L92.4 809.6L92.6 810.0L92.8 810.5L92.9 811.1L92.9 811.6L92.9 812.1L92.8 812.6L92.7 812.9L92.4 813.1L92.0 813.3L91.6 813.5L91.1 813.6L90.5 813.6L90.1 813.6L89.6 813.5L89.3 813.3L89.1 813.1L88.9 812.7L88.8 812.2L88.7 811.6L88.7 811.1L88.7 810.5L88.7 810.1Z" fill="#ffa010"/><path d="M160.0 774.2L160.2 774.0L160.5 773.8L160.9 773.7L161.4 773.6L161.8 773.5L162.3 773.5L162.6 773.6L162.9 773.8L163.1 774.1L163.2 774.5L163.4 775.0L163.5 775.5L163.5 776.1L163.5 776.6L163.5 777.0L163.3 777.3L163.1 777.6L162.8 777.8L162.4 777.9L161.9 778.0L161.5 778.0L161.1 778.0L160.7 777.9L160.4 777.8L160.2 777.5L160.1 777.1L160.0 776.6L159.9 776.1L159.8 775.5L159.8 775.0L159.9 774.5Z" fill="#ffa010"/><path d="M166.7 772.9L166.9 772.6L167.2 772.4L167.6 772.3L168.1 772.2L168.5 772.1L168.9 772.2L169.3 772.3L169.6 772.4L169.8 772.8L169.9 773.2L170.0 773.8L170.1 774.4L170.2 775.0L170.2 775.6L170.1 776.1L170.0 776.4L169.8 776.7L169.5 776.9L169.1 777.1L168.6 777.2L168.2 777.2L167.7 777.2L167.4 777.1L167.1 776.9L166.9 776.6L166.8 776.1L166.6 775.6L166.5 774.9L166.5 774.3L166.5 773.7L166.5 773.2Z" fill="#ffa010"/><path d="M183.3 793.3L183.8 793.0L184.4 792.8L185.2 792.6L186.0 792.5L186.9 792.5L187.7 792.5L188.4 792.7L188.9 792.9L189.2 793.3L189.5 793.8L189.8 794.5L189.9 795.3L190.0 796.0L189.9 796.7L189.8 797.3L189.6 797.8L189.1 798.1L188.5 798.3L187.7 798.5L186.9 798.6L186.0 798.6L185.2 798.6L184.5 798.5L184.0 798.2L183.6 797.8L183.3 797.3L183.1 796.6L183.0 795.8L182.9 795.1L182.9 794.4L183.1 793.8Z" fill="#ffa010"/></g>
<g transform="rotate(0.0 471.3 555.3)"><path d="M440.0 526.7L452.7 523.2L471.3 521.2L490.0 522.0L503.3 526.7L510.2 538.2L513.5 555.0L513.4 571.8L510.0 583.3L501.5 587.9L488.5 588.5L474.6 586.5L463.3 583.3L455.3 578.6L448.8 571.9L443.6 564.2L440.0 556.7L436.9 548.7L434.6 540.0L435.0 532.1Z" fill="#c00000" filter="url(#nzf75)"/></g>
<g><path d="M211.6 333.5L213.0 334.6L214.9 335.8L217.3 337.1L219.9 338.5L222.7 339.9L225.6 341.4L228.4 342.8L231.0 344.1L233.5 345.3L236.0 346.6L238.5 347.9L241.0 349.1L243.5 350.4L246.0 351.5L248.5 352.6L251.0 353.7L253.4 354.6L255.7 355.4L258.0 356.2L260.2 356.9L262.5 357.6L264.7 358.2L267.1 358.9L269.6 359.5L272.3 360.2L275.3 360.9L278.5 361.5L281.7 362.2L284.8 362.7L287.5 363.2L289.8 363.5L291.6 363.5L291.7 363.1L290.1 362.3L287.9 361.6L285.2 360.8L282.2 359.9L279.1 359.0L276.0 358.1L273.1 357.3L270.4 356.5L268.0 355.7L265.7 355.0L263.5 354.3L261.3 353.6L259.1 352.9L256.9 352.1L254.6 351.2L252.3 350.3L250.0 349.3L247.5 348.3L245.0 347.1L242.5 346.0L240.0 344.8L237.4 343.6L234.9 342.4L232.3 341.3L229.7 340.1L226.8 338.9L223.8 337.6L220.9 336.4L218.1 335.2L215.6 334.3L213.5 333.5L211.8 333.1Z" fill="#c00000"/><path d="M237.0 435.3L238.4 434.5L240.0 433.2L241.7 431.6L243.6 429.7L245.7 427.7L247.7 425.7L249.8 423.7L251.8 421.7L253.8 419.7L255.8 417.7L257.8 415.7L259.9 413.6L262.0 411.6L264.1 409.6L266.3 407.7L268.7 406.0L271.1 404.3L273.8 402.7L276.5 401.1L279.4 399.6L282.4 398.1L285.5 396.5L288.6 394.9L291.7 393.3L294.9 391.6L298.2 389.9L301.6 388.2L305.0 386.5L308.4 384.8L311.8 383.1L315.1 381.5L318.2 379.9L321.3 378.4L324.3 376.9L327.3 375.4L330.2 373.9L333.0 372.5L335.8 371.2L338.5 370.0L341.1 368.8L343.7 367.8L346.3 366.8L348.9 365.9L351.4 365.0L353.8 364.2L356.2 363.4L358.4 362.7L360.5 362.0L362.5 361.4L364.4 360.8L366.2 360.3L367.9 359.8L369.4 359.3L370.8 358.8L371.9 358.4L372.8 357.8L372.6 356.9L371.6 356.6L370.4 356.6L368.9 356.7L367.3 356.8L365.5 357.0L363.6 357.3L361.6 357.6L359.5 358.0L357.3 358.4L355.0 358.9L352.5 359.4L349.9 360.0L347.3 360.6L344.5 361.4L341.7 362.2L338.9 363.2L336.1 364.2L333.2 365.3L330.3 366.5L327.3 367.8L324.3 369.2L321.3 370.5L318.2 372.0L315.1 373.4L311.9 374.9L308.5 376.5L305.1 378.1L301.7 379.8L298.2 381.5L294.8 383.3L291.5 385.0L288.3 386.7L285.2 388.4L282.1 390.0L279.0 391.6L276.0 393.3L273.0 395.0L270.1 396.8L267.3 398.7L264.7 400.7L262.2 402.8L259.8 405.0L257.6 407.3L255.6 409.5L253.6 411.8L251.7 414.0L249.9 416.2L248.2 418.3L246.4 420.5L244.5 422.8L242.7 425.1L240.9 427.4L239.4 429.5L238.0 431.5L236.9 433.2L236.3 434.7Z" fill="#c00000"/><path d="M241.7 430.0L240.7 431.1L239.6 432.7L238.2 434.6L236.8 436.8L235.3 439.1L233.8 441.5L232.3 443.9L230.9 446.3L229.6 448.6L228.3 451.0L226.9 453.5L225.6 456.0L224.2 458.6L223.0 461.1L221.8 463.7L220.7 466.2L219.6 468.8L218.7 471.4L217.7 474.0L216.9 476.6L216.1 479.2L215.3 481.7L214.6 484.1L214.0 486.4L213.5 488.6L213.1 490.6L212.8 492.5L212.5 494.3L212.2 496.1L211.9 497.8L211.5 499.6L210.9 501.4L210.1 503.3L209.1 505.4L208.0 507.6L206.8 509.8L205.7 511.9L204.6 513.8L203.8 515.4L203.3 516.7L203.3 516.7L204.2 515.6L205.2 514.2L206.5 512.4L207.8 510.4L209.1 508.3L210.4 506.1L211.5 504.0L212.4 502.0L213.1 500.1L213.6 498.2L214.0 496.4L214.4 494.6L214.7 492.8L215.0 491.0L215.4 489.0L216.0 486.9L216.7 484.7L217.4 482.3L218.1 479.9L219.0 477.3L219.8 474.7L220.7 472.2L221.7 469.6L222.7 467.1L223.7 464.6L224.9 462.0L226.1 459.5L227.4 456.9L228.6 454.4L229.9 451.9L231.2 449.4L232.4 447.1L233.7 444.7L235.0 442.2L236.4 439.8L237.8 437.4L239.1 435.1L240.2 433.1L241.1 431.4L241.7 430.0Z" fill="#c00000"/><path d="M55.0 336.7L55.6 337.0L56.4 337.3L57.4 337.5L58.5 337.7L59.7 337.9L60.9 338.0L62.1 338.2L63.2 338.3L64.5 338.5L65.8 338.6L67.3 338.8L68.7 338.9L70.1 338.9L71.4 339.0L72.5 338.9L73.3 338.7L73.3 338.7L72.6 338.2L71.6 337.9L70.3 337.5L69.0 337.2L67.5 336.9L66.1 336.7L64.7 336.5L63.4 336.3L62.2 336.2L61.0 336.2L59.8 336.2L58.6 336.2L57.5 336.2L56.5 336.3L55.7 336.4L55.0 336.7Z" fill="#c00000"/><path d="M69.9 365.1L70.4 366.0L71.3 366.9L72.4 367.9L73.6 368.9L75.0 370.0L76.4 371.0L77.8 372.0L79.2 372.9L80.7 373.8L82.3 374.8L84.1 375.7L85.8 376.5L87.5 377.3L89.1 377.9L90.4 378.4L91.6 378.5L91.8 378.2L91.1 377.2L90.0 376.3L88.6 375.4L87.1 374.3L85.4 373.3L83.8 372.2L82.2 371.3L80.8 370.4L79.4 369.5L77.9 368.7L76.4 367.8L74.9 366.9L73.5 366.2L72.2 365.5L71.1 365.0L70.1 364.9Z" fill="#c00000"/><path d="M405.1 489.7L406.4 490.2L408.0 490.2L410.0 490.2L412.1 490.0L414.3 489.8L416.6 489.5L418.8 489.1L420.8 488.7L422.6 488.2L424.5 487.7L426.3 487.1L428.0 486.5L429.8 485.8L431.4 485.1L433.0 484.4L434.6 483.7L436.1 482.9L437.5 482.0L438.9 481.2L440.2 480.3L441.4 479.4L442.6 478.5L443.6 477.7L444.7 476.8L445.6 475.9L446.6 474.9L447.4 473.9L448.1 472.9L448.7 472.0L449.2 471.1L449.5 470.4L449.6 469.6L449.1 469.1L448.3 469.2L447.5 469.6L446.7 470.1L445.8 470.7L444.9 471.3L444.0 472.0L443.0 472.6L442.0 473.2L440.9 473.8L439.8 474.5L438.6 475.1L437.4 475.8L436.1 476.4L434.8 477.1L433.5 477.7L432.1 478.3L430.6 479.0L429.1 479.6L427.5 480.2L425.9 480.9L424.3 481.5L422.6 482.1L420.9 482.7L419.2 483.3L417.4 484.0L415.4 484.6L413.3 485.3L411.2 486.0L409.2 486.6L407.4 487.3L406.0 488.0L404.9 489.0Z" fill="#c00000"/><path d="M461.7 477.6L462.9 478.2L464.3 478.4L466.0 478.5L467.8 478.5L469.7 478.4L471.7 478.3L473.6 478.0L475.4 477.8L477.1 477.5L479.0 477.2L480.9 476.7L482.8 476.2L484.6 475.7L486.2 475.1L487.5 474.5L488.4 473.6L488.3 473.0L487.1 472.4L485.7 472.2L484.0 472.2L482.2 472.2L480.3 472.3L478.3 472.4L476.4 472.6L474.6 472.9L472.9 473.1L471.0 473.5L469.1 473.9L467.2 474.4L465.4 475.0L463.8 475.5L462.5 476.1L461.6 477.0Z" fill="#c00000"/><path d="M585.0 440.7L586.1 441.2L587.6 441.8L589.5 442.5L591.5 443.2L593.7 444.0L595.9 444.6L598.0 445.2L599.9 445.6L601.7 445.9L603.5 446.1L605.2 446.2L607.0 446.2L608.7 446.2L610.3 446.1L611.9 445.9L613.5 445.6L615.0 445.2L616.4 444.6L617.8 444.0L619.1 443.2L620.3 442.5L621.5 441.7L622.5 441.0L623.6 440.4L624.5 439.8L625.5 439.1L626.3 438.5L627.1 437.9L627.8 437.4L628.5 436.8L629.0 436.4L629.3 436.0L629.3 436.0L628.8 436.2L628.2 436.5L627.6 437.0L626.8 437.5L626.0 438.0L625.1 438.5L624.1 439.1L623.1 439.6L622.1 440.2L620.9 440.9L619.7 441.6L618.5 442.3L617.2 442.9L615.9 443.5L614.6 444.0L613.2 444.4L611.7 444.6L610.2 444.8L608.6 444.9L607.0 444.9L605.3 444.9L603.6 444.8L601.8 444.6L600.1 444.4L598.2 444.1L596.2 443.6L594.0 443.0L591.8 442.4L589.7 441.8L587.8 441.3L586.2 440.9L585.0 440.7Z" fill="#c00000"/><path d="M689.9 286.2L692.1 287.3L695.2 288.4L698.9 289.7L703.0 291.0L707.3 292.4L711.6 293.9L715.7 295.3L719.4 296.7L722.8 298.0L726.2 299.5L729.5 301.0L732.7 302.5L736.0 304.1L739.3 305.6L742.6 307.1L745.9 308.5L749.3 309.8L752.6 311.1L756.0 312.4L759.3 313.6L762.7 314.8L766.0 315.9L769.4 317.1L772.7 318.3L776.3 319.5L780.1 320.8L784.0 322.2L787.9 323.5L791.6 324.7L794.9 325.7L797.7 326.5L799.9 326.9L800.1 326.4L798.2 325.3L795.5 324.0L792.3 322.6L788.8 321.1L785.0 319.6L781.2 318.0L777.4 316.5L773.9 315.1L770.6 313.8L767.3 312.5L764.0 311.2L760.7 310.0L757.3 308.7L754.0 307.4L750.7 306.1L747.4 304.8L744.2 303.4L740.9 302.0L737.6 300.5L734.4 299.0L731.0 297.5L727.6 296.0L724.2 294.7L720.6 293.3L716.7 292.1L712.5 290.8L708.1 289.6L703.7 288.5L699.5 287.5L695.7 286.7L692.5 286.0L690.1 285.8Z" fill="#c00000"/><path d="M751.7 379.3L753.9 380.3L756.9 381.5L760.5 383.0L764.5 384.5L768.6 386.1L772.7 387.7L776.5 389.1L779.9 390.4L782.7 391.4L785.3 392.4L787.7 393.2L790.0 394.0L792.2 394.8L794.6 395.5L797.1 396.3L799.9 397.1L802.9 397.9L806.2 398.8L809.6 399.7L813.1 400.5L816.6 401.4L820.1 402.2L823.4 402.9L826.6 403.7L829.7 404.4L832.9 405.1L836.0 405.8L839.1 406.5L842.0 407.1L844.5 407.6L846.7 408.1L848.3 408.3L848.3 408.3L846.7 407.9L844.6 407.3L842.1 406.7L839.2 406.0L836.2 405.3L833.0 404.5L829.8 403.7L826.8 403.0L823.6 402.2L820.3 401.4L816.8 400.6L813.3 399.7L809.8 398.8L806.4 397.9L803.2 397.1L800.1 396.2L797.4 395.4L794.9 394.7L792.5 393.9L790.2 393.2L788.0 392.4L785.6 391.5L783.0 390.6L780.1 389.6L776.8 388.4L773.0 387.0L768.9 385.5L764.7 384.0L760.7 382.5L757.0 381.2L754.0 380.1L751.7 379.3Z" fill="#c00000"/><path d="M761.0 502.6L761.3 501.4L761.4 499.9L761.3 498.0L761.2 496.0L761.1 493.9L761.1 491.9L761.1 490.1L761.3 488.5L761.6 487.1L761.9 485.7L762.3 484.4L762.8 483.1L763.3 481.9L763.9 480.8L764.6 479.8L765.3 478.9L766.1 478.0L767.0 477.3L768.0 476.5L769.2 475.8L770.4 475.1L771.7 474.5L773.1 473.8L774.5 473.2L775.8 472.7L777.2 472.2L778.7 471.7L780.1 471.3L781.7 471.0L783.4 470.6L785.2 470.3L787.1 469.9L789.3 469.6L791.6 469.3L794.0 469.1L796.5 468.8L799.1 468.6L801.7 468.4L804.2 468.3L806.7 468.2L809.1 468.2L811.5 468.3L813.8 468.4L816.2 468.5L818.6 468.7L821.1 468.9L823.7 469.1L826.3 469.4L829.2 469.7L832.4 470.1L835.8 470.6L839.2 471.0L842.5 471.4L845.5 471.7L848.0 471.9L849.9 471.7L850.1 471.0L848.4 470.0L846.0 469.3L843.1 468.4L839.9 467.5L836.6 466.7L833.2 465.9L829.9 465.2L827.0 464.6L824.3 464.2L821.7 463.8L819.2 463.4L816.7 463.1L814.2 462.8L811.7 462.6L809.2 462.5L806.7 462.4L804.0 462.4L801.4 462.5L798.7 462.7L796.0 462.9L793.4 463.1L790.8 463.4L788.4 463.7L786.2 464.1L784.1 464.4L782.2 464.8L780.3 465.2L778.6 465.7L776.9 466.2L775.3 466.8L773.7 467.4L772.2 468.1L770.7 468.8L769.2 469.6L767.8 470.4L766.3 471.3L765.0 472.3L763.7 473.3L762.5 474.5L761.4 475.8L760.5 477.1L759.7 478.6L759.0 480.1L758.5 481.6L758.0 483.2L757.7 484.8L757.5 486.4L757.4 488.2L757.4 490.1L757.6 492.1L757.9 494.3L758.3 496.4L758.8 498.4L759.2 500.2L759.7 501.7L760.3 502.7Z" fill="#c00000"/><path d="M58.3 536.7L59.6 536.7L61.1 536.5L63.0 536.3L65.0 535.9L67.2 535.5L69.4 535.1L71.5 534.6L73.5 534.2L75.5 533.8L77.7 533.3L79.9 532.7L82.1 532.2L84.2 531.6L86.0 531.1L87.5 530.6L88.7 530.0L88.7 530.0L87.4 529.9L85.8 530.1L83.9 530.4L81.8 530.8L79.6 531.2L77.3 531.6L75.1 532.0L73.1 532.5L71.1 532.9L69.0 533.4L66.9 534.0L64.7 534.5L62.7 535.1L60.9 535.6L59.4 536.1L58.3 536.7Z" fill="#c00000"/><path d="M626.8 637.5L628.2 637.4L629.7 636.8L631.5 636.0L633.5 635.0L635.5 633.9L637.5 632.7L639.5 631.5L641.2 630.3L642.9 629.0L644.5 627.5L646.2 625.9L647.7 624.3L649.2 622.8L650.4 621.4L651.3 620.1L651.8 618.8L651.5 618.5L650.2 618.8L648.8 619.6L647.3 620.7L645.6 621.9L643.8 623.2L642.1 624.6L640.4 625.9L638.8 627.1L637.2 628.2L635.4 629.5L633.6 630.9L631.7 632.2L630.0 633.6L628.5 634.8L627.3 635.9L626.5 637.1Z" fill="#c00000"/><path d="M667.3 550.7L667.6 550.3L667.9 550.1L668.3 550.0L668.8 549.9L669.3 550.0L669.7 550.1L670.1 550.3L670.3 550.7L670.5 551.2L670.7 551.9L670.8 552.7L670.9 553.7L670.9 554.6L670.9 555.4L670.8 556.2L670.7 556.7L670.4 557.0L670.1 557.2L669.7 557.4L669.2 557.4L668.7 557.4L668.3 557.2L667.9 557.0L667.7 556.7L667.5 556.2L667.3 555.4L667.2 554.6L667.1 553.7L667.1 552.7L667.1 551.9L667.2 551.2Z" fill="#c00000"/><path d="M785.1 523.6L786.0 523.8L787.1 523.8L788.4 523.7L789.8 523.5L791.3 523.2L792.8 523.0L794.2 522.7L795.6 522.3L796.8 522.0L797.9 521.6L799.0 521.1L800.0 520.7L800.9 520.3L801.9 519.9L802.8 519.6L803.8 519.3L804.9 519.0L806.0 518.9L807.2 518.7L808.5 518.6L809.8 518.4L811.1 518.2L812.5 518.0L813.7 517.6L815.0 517.2L816.2 516.6L817.5 516.0L818.6 515.4L819.7 514.7L820.6 514.1L821.3 513.5L821.8 512.9L821.6 512.4L820.8 512.3L819.8 512.5L818.8 512.8L817.6 513.1L816.4 513.5L815.2 513.8L814.0 514.1L812.9 514.4L811.8 514.5L810.7 514.6L809.5 514.7L808.2 514.8L806.9 514.8L805.5 514.9L804.2 515.1L802.8 515.4L801.6 515.8L800.4 516.2L799.4 516.7L798.4 517.1L797.4 517.6L796.4 518.1L795.5 518.6L794.4 519.0L793.3 519.4L792.0 519.9L790.6 520.4L789.2 520.9L787.8 521.5L786.6 522.0L785.6 522.5L784.9 523.1Z" fill="#c00000"/><path d="M830.0 502.9L830.6 503.7L831.6 504.2L832.8 504.8L834.1 505.3L835.6 505.7L837.0 506.1L838.4 506.4L839.6 506.6L840.8 506.8L842.1 506.9L843.3 507.0L844.6 507.0L845.7 507.0L846.7 506.9L847.6 506.7L848.3 506.2L848.4 505.8L847.8 505.1L847.0 504.7L846.1 504.3L845.0 503.9L843.9 503.6L842.7 503.2L841.5 503.0L840.4 502.7L839.1 502.5L837.8 502.2L836.3 502.0L834.8 501.9L833.4 501.8L832.1 501.8L831.0 502.0L830.0 502.4Z" fill="#c00000"/><path d="M614.0 758.7L614.3 758.4L614.7 758.3L615.2 758.2L615.7 758.2L616.2 758.2L616.7 758.3L617.1 758.4L617.3 758.7L617.5 759.0L617.6 759.5L617.7 760.0L617.7 760.7L617.7 761.3L617.6 761.9L617.5 762.3L617.3 762.7L617.1 762.9L616.7 763.0L616.2 763.1L615.7 763.2L615.2 763.1L614.7 763.0L614.3 762.9L614.0 762.7L613.8 762.3L613.7 761.9L613.6 761.3L613.6 760.7L613.6 760.0L613.7 759.5L613.8 759.0Z" fill="#c00000"/><path d="M661.7 630.8L662.0 630.4L662.4 630.1L662.9 629.8L663.5 629.7L664.2 629.5L664.8 629.5L665.4 629.5L665.8 629.7L666.3 629.9L666.7 630.2L667.1 630.7L667.4 631.2L667.8 631.7L668.0 632.3L668.2 632.8L668.3 633.3L668.3 633.9L668.3 634.5L668.1 635.1L667.9 635.7L667.7 636.3L667.4 636.8L667.0 637.2L666.7 637.5L666.2 637.7L665.7 637.8L665.1 637.8L664.5 637.7L663.9 637.6L663.4 637.3L662.9 637.0L662.5 636.7L662.2 636.1L661.9 635.5L661.7 634.6L661.6 633.8L661.5 632.9L661.4 632.1L661.5 631.4Z" fill="#c00000"/><path d="M675.0 641.7L675.4 641.4L675.9 641.3L676.5 641.1L677.1 641.0L677.7 641.0L678.3 641.0L678.8 641.1L679.2 641.3L679.5 641.7L679.8 642.2L680.0 642.8L680.2 643.5L680.4 644.1L680.5 644.8L680.4 645.4L680.3 645.8L680.1 646.2L679.7 646.5L679.3 646.8L678.7 647.1L678.2 647.3L677.6 647.4L677.1 647.5L676.7 647.5L676.3 647.4L675.9 647.2L675.5 646.9L675.1 646.6L674.8 646.2L674.5 645.8L674.3 645.4L674.2 645.0L674.1 644.6L674.1 644.2L674.1 643.7L674.2 643.2L674.3 642.7L674.5 642.3L674.7 641.9Z" fill="#c00000"/><path d="M667.5 650.8L667.9 650.6L668.6 650.4L669.4 650.3L670.3 650.3L671.3 650.3L672.1 650.4L672.8 650.6L673.3 650.8L673.7 651.2L673.9 651.7L674.1 652.3L674.2 652.9L674.2 653.6L674.1 654.2L673.9 654.7L673.7 655.0L673.2 655.2L672.6 655.4L671.9 655.5L671.1 655.5L670.3 655.5L669.5 655.4L668.8 655.2L668.3 655.0L668.0 654.7L667.7 654.2L667.4 653.6L667.2 652.9L667.1 652.3L667.1 651.7L667.3 651.2Z" fill="#c00000"/><path d="M655.8 639.2L656.1 638.7L656.5 638.3L657.1 637.9L657.8 637.6L658.4 637.4L659.1 637.3L659.6 637.3L660.0 637.5L660.3 637.9L660.5 638.5L660.7 639.3L660.9 640.2L661.0 641.1L661.0 642.0L661.0 642.8L660.8 643.3L660.6 643.8L660.3 644.2L659.8 644.6L659.3 644.9L658.8 645.1L658.3 645.2L657.9 645.2L657.5 645.0L657.2 644.6L656.8 644.0L656.5 643.2L656.2 642.3L656.0 641.4L655.8 640.5L655.8 639.7Z" fill="#c00000"/><path d="M643.3 649.2L643.6 649.0L643.9 648.8L644.4 648.6L644.9 648.4L645.5 648.3L645.9 648.2L646.4 648.2L646.7 648.3L646.9 648.5L647.0 648.9L647.2 649.3L647.2 649.8L647.2 650.2L647.2 650.7L647.1 651.1L647.0 651.3L646.8 651.5L646.5 651.7L646.1 651.8L645.7 651.8L645.2 651.9L644.8 651.8L644.4 651.8L644.2 651.7L643.9 651.5L643.7 651.2L643.5 650.9L643.4 650.5L643.3 650.1L643.2 649.7L643.2 649.4Z" fill="#c00000"/><path d="M705.8 630.8L706.0 630.6L706.3 630.4L706.6 630.1L707.0 629.9L707.4 629.8L707.7 629.6L708.1 629.6L708.3 629.7L708.5 629.8L708.7 630.1L708.9 630.5L709.1 631.0L709.2 631.4L709.2 631.8L709.2 632.2L709.2 632.5L709.0 632.7L708.7 632.9L708.4 633.1L708.0 633.2L707.6 633.4L707.3 633.4L706.9 633.4L706.7 633.3L706.5 633.2L706.3 632.9L706.1 632.6L705.9 632.2L705.8 631.8L705.8 631.4L705.8 631.1Z" fill="#c00000"/><path d="M712.5 633.3L712.7 633.1L713.1 632.7L713.6 632.4L714.1 632.2L714.6 631.9L715.1 631.7L715.5 631.6L715.8 631.7L716.1 631.8L716.3 632.1L716.5 632.5L716.7 633.0L716.8 633.5L716.8 633.9L716.8 634.3L716.7 634.7L716.4 634.9L716.1 635.2L715.6 635.4L715.1 635.6L714.6 635.7L714.1 635.8L713.7 635.9L713.3 635.8L713.1 635.7L712.9 635.4L712.7 635.1L712.5 634.8L712.4 634.4L712.4 634.0L712.4 633.6Z" fill="#c00000"/><path d="M241.0 431.6L241.2 431.0L241.6 430.2L242.2 429.3L242.8 428.3L243.6 427.2L244.4 426.1L245.2 425.0L246.0 424.0L246.8 423.0L247.8 422.0L248.7 421.0L249.8 420.0L250.8 418.9L251.9 417.9L252.9 417.0L254.0 416.0L255.1 415.1L256.2 414.2L257.4 413.3L258.6 412.5L259.7 411.7L260.9 410.8L262.0 409.9L263.0 409.0L264.0 408.0L264.9 407.0L265.7 406.0L266.6 405.0L267.4 404.0L268.2 403.0L269.1 402.0L270.0 401.0L271.0 400.1L271.9 399.2L272.9 398.3L273.9 397.4L275.0 396.5L276.0 395.7L277.0 394.8L278.0 394.0L279.0 393.2L280.0 392.4L280.9 391.6L281.9 390.9L282.9 390.1L283.9 389.4L284.9 388.7L286.0 388.0L287.2 387.3L288.4 386.7L289.6 386.1L290.9 385.4L292.2 384.8L293.5 384.2L294.7 383.6L296.0 383.0L297.2 382.4L298.5 381.8L299.8 381.1L301.0 380.5L302.2 379.9L303.5 379.2L304.8 378.6L306.0 378.0L307.2 377.4L308.5 376.8L309.7 376.1L310.9 375.5L312.1 374.9L313.4 374.2L314.7 373.6L316.0 373.0L317.4 372.4L318.9 371.8L320.4 371.1L321.9 370.5L323.4 369.9L325.0 369.2L326.5 368.6L328.0 368.0L329.5 367.4L331.0 366.7L332.5 366.1L334.0 365.4L335.5 364.8L337.0 364.1L338.5 363.5L340.0 363.0L341.5 362.5L343.0 362.0L344.5 361.5L346.0 361.1L347.5 360.7L349.0 360.3L350.5 359.9L352.0 359.6L353.5 359.3L355.1 359.0L356.7 358.7L358.3 358.5L359.9 358.2L361.4 358.0L362.7 357.8L364.0 357.6L365.2 357.4L366.4 357.2L367.6 357.0L368.7 356.8L369.6 356.6L370.4 356.5L370.8 356.5L371.0 356.6L370.8 356.8L370.3 357.1L369.5 357.5L368.6 358.0L367.5 358.5L366.3 359.0L365.1 359.5L364.0 360.0L362.9 360.4L361.7 360.9L360.5 361.3L359.2 361.8L357.9 362.2L356.6 362.7L355.3 363.1L354.0 363.6L352.8 364.1L351.5 364.6L350.2 365.0L349.0 365.5L347.8 366.0L346.5 366.5L345.2 367.1L344.0 367.6L342.8 368.2L341.5 368.7L340.2 369.3L339.0 369.9L337.8 370.5L336.5 371.1L335.2 371.8L334.0 372.4L332.7 373.1L331.5 373.8L330.2 374.5L328.9 375.2L327.6 375.9L326.4 376.6L325.2 377.3L324.0 378.0L322.9 378.6L321.9 379.3L320.9 379.9L319.9 380.5L318.9 381.1L318.0 381.7L317.0 382.3L316.0 383.0L315.0 383.7L314.0 384.5L313.0 385.2L312.0 386.0L311.0 386.8L310.0 387.5L309.0 388.3L308.0 389.0L307.0 389.7L306.0 390.3L305.1 390.9L304.1 391.6L303.1 392.2L302.1 392.8L301.1 393.4L300.0 394.0L298.8 394.6L297.6 395.3L296.4 395.9L295.1 396.6L293.8 397.2L292.5 397.8L291.3 398.4L290.0 399.0L288.7 399.5L287.5 400.1L286.2 400.6L284.9 401.1L283.6 401.5L282.4 402.0L281.2 402.5L280.0 403.0L278.9 403.5L277.9 404.0L276.9 404.4L275.9 404.9L274.9 405.4L274.0 405.9L273.0 406.4L272.0 407.0L271.0 407.6L270.0 408.3L269.0 409.1L268.0 409.8L267.0 410.6L266.0 411.4L265.0 412.2L264.0 413.0L263.0 413.8L262.0 414.7L260.9 415.6L259.9 416.5L258.9 417.4L257.9 418.3L256.9 419.2L256.0 420.0L255.2 420.8L254.4 421.6L253.6 422.3L252.9 423.1L252.2 423.8L251.5 424.6L250.7 425.3L250.0 426.0L249.2 426.8L248.4 427.6L247.6 428.4L246.8 429.2L246.0 429.9L245.3 430.6L244.6 431.2L244.0 431.6L243.4 431.9L242.9 432.2L242.3 432.3L241.8 432.4L241.4 432.4L241.1 432.3L241.0 432.0Z" fill="#c00000" stroke="#c00000" stroke-width="3.6" stroke-linejoin="round"/><path d="M364.7 530.0L364.7 529.4L364.8 528.9L365.0 528.7L365.3 528.6L365.5 528.8L365.8 529.0L366.1 529.4L366.3 530.0L366.6 530.8L366.8 531.8L367.0 533.0L367.2 534.4L367.4 535.8L367.7 537.3L368.0 538.7L368.3 540.0L368.7 541.2L369.1 542.5L369.5 543.8L369.9 545.0L370.4 546.2L370.9 547.5L371.4 548.8L372.0 550.0L372.6 551.3L373.3 552.6L374.1 553.9L374.9 555.2L375.7 556.5L376.5 557.7L377.2 558.9L378.0 560.0L378.7 561.0L379.3 561.9L379.9 562.7L380.5 563.5L381.1 564.3L381.9 565.0L382.7 565.8L383.7 566.7L384.8 567.6L386.1 568.6L387.5 569.6L389.0 570.6L390.5 571.6L392.0 572.5L393.5 573.4L395.0 574.2L396.4 574.8L397.9 575.4L399.4 576.0L400.8 576.4L402.3 576.9L403.7 577.3L405.2 577.6L406.7 578.0L408.1 578.3L409.7 578.5L411.2 578.7L412.7 578.8L414.2 579.0L415.6 579.1L417.0 579.4L418.3 579.7L419.6 580.1L421.0 580.5L422.3 581.0L423.6 581.5L424.7 582.0L425.7 582.6L426.5 583.1L427.0 583.7L427.3 584.2L427.3 584.9L427.1 585.6L426.8 586.2L426.3 586.9L425.7 587.5L425.0 588.0L424.2 588.3L423.2 588.6L422.0 588.8L420.7 589.0L419.2 589.1L417.7 589.1L416.2 589.0L414.7 588.9L413.3 588.7L412.1 588.3L410.8 587.9L409.6 587.4L408.4 586.8L407.2 586.1L405.9 585.4L404.7 584.8L403.3 584.2L401.9 583.6L400.5 583.0L399.0 582.4L397.4 581.7L395.9 581.1L394.4 580.5L393.0 579.8L391.7 579.2L390.4 578.5L389.2 577.9L388.0 577.4L386.8 576.7L385.7 576.1L384.6 575.4L383.5 574.6L382.5 573.7L381.5 572.6L380.5 571.4L379.5 570.1L378.5 568.8L377.6 567.4L376.7 566.0L375.8 564.6L375.0 563.3L374.2 562.1L373.5 560.8L372.8 559.6L372.1 558.4L371.4 557.2L370.8 555.9L370.2 554.7L369.7 553.3L369.1 552.0L368.7 550.5L368.2 549.1L367.8 547.6L367.4 546.1L367.0 544.6L366.7 543.1L366.3 541.7L366.0 540.1L365.7 538.5L365.4 536.8L365.2 535.1L365.0 533.5L364.8 532.1L364.7 530.9Z" fill="#c00000" stroke="#c00000" stroke-width="3.0" stroke-linejoin="round"/><path d="M360.0 509.2L360.4 508.7L361.0 508.3L361.7 507.9L362.4 507.6L363.2 507.4L363.9 507.3L364.5 507.3L365.0 507.5L365.4 508.0L365.7 508.7L366.0 509.5L366.2 510.5L366.4 511.5L366.4 512.5L366.4 513.4L366.3 514.2L366.1 514.8L365.7 515.4L365.2 516.0L364.7 516.5L364.1 516.9L363.5 517.2L363.0 517.4L362.5 517.5L362.1 517.4L361.6 517.2L361.2 516.8L360.8 516.4L360.5 515.8L360.1 515.3L359.9 514.7L359.7 514.2L359.5 513.6L359.4 513.0L359.4 512.3L359.3 511.6L359.4 510.9L359.5 510.2L359.7 509.6Z" fill="#c00000"/><path d="M440.0 582.0L441.1 582.2L442.5 582.2L444.2 582.1L446.1 582.0L448.1 581.8L450.0 581.5L451.9 581.3L453.5 581.0L455.0 580.7L456.6 580.4L458.2 580.0L459.7 579.6L461.1 579.2L462.4 578.8L463.4 578.5L464.2 578.0L464.2 578.0L463.3 577.8L462.2 577.9L460.9 578.0L459.4 578.1L457.9 578.3L456.3 578.5L454.7 578.8L453.2 579.0L451.5 579.3L449.7 579.6L447.8 579.9L445.9 580.3L444.0 580.7L442.4 581.1L441.0 581.5L440.0 582.0Z" fill="#c00000"/><path d="M216.7 480.0L216.2 481.0L215.8 482.4L215.3 484.1L214.7 485.9L214.2 487.9L213.6 489.8L213.1 491.6L212.7 493.1L212.2 494.6L211.8 495.9L211.4 497.2L211.1 498.4L210.7 499.6L210.2 500.8L209.8 501.9L209.3 503.0L208.8 504.1L208.2 505.2L207.6 506.3L207.0 507.3L206.4 508.4L205.8 509.4L205.1 510.4L204.5 511.3L203.9 512.3L203.2 513.4L202.5 514.4L201.9 515.5L201.2 516.4L200.7 517.3L200.3 518.0L200.0 518.7L200.0 518.7L200.5 518.2L201.1 517.6L201.8 516.8L202.5 515.9L203.3 515.0L204.0 514.0L204.8 513.0L205.5 512.0L206.1 511.0L206.8 510.1L207.5 509.1L208.2 508.1L208.9 507.0L209.5 505.9L210.1 504.8L210.7 503.6L211.2 502.5L211.7 501.3L212.1 500.1L212.5 498.9L212.9 497.6L213.2 496.3L213.6 495.0L214.0 493.5L214.4 491.9L214.8 490.1L215.3 488.1L215.7 486.2L216.1 484.3L216.4 482.5L216.6 481.1L216.7 480.0Z" fill="#c00000"/><path d="M195.2 520.0L195.0 521.2L194.9 522.7L194.7 524.5L194.4 526.6L194.2 528.7L194.0 530.9L193.9 533.0L193.8 535.0L193.8 536.9L193.8 538.8L193.8 540.8L193.8 542.7L193.9 544.6L194.1 546.5L194.3 548.3L194.7 550.0L195.1 551.6L195.6 553.3L196.3 554.8L196.9 556.3L197.7 557.8L198.4 559.2L199.2 560.5L200.0 561.7L200.8 562.8L201.8 563.9L202.8 564.9L203.8 565.9L204.8 566.8L205.7 567.5L206.4 568.2L207.0 568.7" fill="none" stroke="#c00000" stroke-width="1.6" stroke-linecap="round" stroke-linejoin="round"/><path d="M240.0 560.3L240.8 559.7L241.8 559.3L243.0 559.1L244.4 559.0L245.8 558.9L247.3 558.9L248.7 558.8L250.0 558.7L251.3 558.4L252.5 558.1L253.8 557.7L255.1 557.4L256.4 557.1L257.6 556.8L258.8 556.7L260.0 556.7L261.2 556.8L262.3 557.0L263.5 557.2L264.7 557.6L265.7 558.0L266.7 558.5L267.6 559.1L268.3 559.7L268.9 560.5L269.5 561.5L269.9 562.6L270.3 563.8L270.5 564.9L270.6 565.8L270.5 566.6L270.3 567.0L269.9 567.0L269.3 566.7L268.5 566.1L267.5 565.4L266.5 564.7L265.5 564.0L264.6 563.5L263.7 563.3L262.8 563.4L262.0 563.7L261.2 564.0L260.3 564.5L259.5 565.0L258.7 565.6L257.8 566.2L257.0 566.7L256.2 567.2L255.4 567.8L254.6 568.4L253.9 569.0L253.1 569.6L252.2 570.2L251.3 570.7L250.3 571.0L249.2 571.3L247.8 571.6L246.4 571.8L244.9 571.9L243.5 572.0L242.2 571.9L241.1 571.5L240.3 571.0L239.8 570.1L239.3 568.9L239.0 567.4L238.9 565.8L238.9 564.1L239.1 562.6L239.5 561.3Z" fill="#c00000"/><path d="M233.3 557.5L233.7 557.2L234.3 557.0L235.0 556.8L235.8 556.7L236.5 556.6L237.3 556.7L237.9 556.8L238.3 557.0L238.6 557.4L238.9 557.9L239.0 558.6L239.1 559.3L239.1 560.0L239.0 560.7L238.9 561.3L238.7 561.7L238.3 561.9L237.8 562.1L237.2 562.2L236.5 562.2L235.8 562.2L235.1 562.1L234.6 561.9L234.2 561.7L233.8 561.3L233.6 560.8L233.3 560.2L233.2 559.6L233.1 559.0L233.0 558.4L233.1 557.9Z" fill="#c00000"/><path d="M215.8 564.2L216.1 564.0L216.4 563.8L216.8 563.6L217.2 563.6L217.6 563.5L218.1 563.6L218.4 563.7L218.7 563.8L218.8 564.1L219.0 564.6L219.1 565.1L219.2 565.6L219.2 566.2L219.2 566.7L219.1 567.2L219.0 567.5L218.8 567.7L218.5 567.8L218.1 567.9L217.6 567.9L217.2 567.9L216.8 567.8L216.4 567.7L216.2 567.5L216.0 567.2L215.8 566.8L215.7 566.4L215.6 565.9L215.6 565.3L215.6 564.9L215.7 564.5Z" fill="#c00000"/><path d="M330.8 728.7L331.6 727.8L332.7 726.7L334.1 725.5L335.7 724.1L337.3 722.6L338.9 721.1L340.4 719.7L341.7 718.3L342.7 717.1L343.6 715.8L344.4 714.5L345.2 713.2L345.9 711.9L346.6 710.7L347.4 709.5L348.3 708.3L349.3 707.3L350.3 706.3L351.3 705.4L352.4 704.5L353.5 703.5L354.5 702.5L355.6 701.3L356.7 700.0L357.7 698.4L358.9 696.6L360.0 694.6L361.1 692.5L362.2 690.4L363.3 688.4L364.2 686.6L365.0 685.0L365.6 683.7L366.1 682.5L366.5 681.5L366.8 680.6L367.1 679.7L367.4 678.8L367.8 677.8L368.3 676.7L369.0 675.4L369.8 674.0L370.6 672.6L371.5 671.1L372.4 669.6L373.3 668.2L374.1 667.0L375.0 665.8L375.9 664.8L376.7 663.8L377.6 662.9L378.5 662.1L379.4 661.4L380.2 660.8L381.0 660.3L381.7 660.0L382.3 659.9L383.0 659.9L383.6 660.1L384.1 660.4L384.6 660.8L385.0 661.3L385.2 661.9L385.3 662.5L385.3 663.2L385.0 664.0L384.6 664.9L384.1 665.9L383.6 666.9L383.0 667.9L382.5 669.0L382.0 670.0L381.6 671.0L381.1 672.0L380.7 673.1L380.3 674.1L379.8 675.2L379.4 676.2L378.9 677.3L378.3 678.3L377.8 679.4L377.2 680.4L376.6 681.4L375.9 682.4L375.3 683.4L374.6 684.5L374.0 685.5L373.3 686.7L372.7 687.8L372.1 689.1L371.5 690.4L370.9 691.7L370.3 693.0L369.7 694.2L369.0 695.5L368.3 696.7L367.6 697.8L366.8 698.9L366.0 700.0L365.1 701.0L364.2 702.1L363.4 703.1L362.5 704.0L361.7 705.0L360.8 705.9L360.0 706.8L359.2 707.7L358.3 708.5L357.5 709.4L356.7 710.2L355.8 710.9L355.0 711.7L354.2 712.4L353.4 713.0L352.6 713.6L351.8 714.1L351.0 714.7L350.1 715.3L349.2 715.9L348.3 716.7L347.4 717.5L346.3 718.4L345.3 719.4L344.2 720.4L343.1 721.4L342.0 722.4L341.0 723.3L340.0 724.2L339.1 725.0L338.1 725.8L337.2 726.6L336.3 727.4L335.5 728.0L334.7 728.7L334.0 729.1L333.3 729.5L332.7 729.8L332.1 729.9L331.5 730.1L331.0 730.1L330.6 729.9L330.4 729.7L330.5 729.3Z" fill="#c00000" stroke="#c00000" stroke-width="3.2" stroke-linejoin="round"/><path d="M373.3 678.3L373.6 677.9L374.1 677.5L374.8 677.2L375.6 677.1L376.4 677.0L377.1 677.1L377.8 677.2L378.3 677.5L378.7 677.9L379.1 678.6L379.5 679.3L379.7 680.2L379.9 681.1L380.1 682.0L380.1 682.7L380.0 683.3L379.7 683.9L379.3 684.4L378.8 685.0L378.2 685.4L377.5 685.8L376.9 686.0L376.3 686.0L375.8 685.8L375.4 685.3L374.9 684.5L374.4 683.5L374.0 682.3L373.6 681.1L373.4 680.0L373.3 679.0Z" fill="#c00000"/><path d="M451.7 632.5L452.3 632.1L453.3 631.5L454.7 631.0L456.3 630.5L458.0 630.0L459.8 629.5L461.6 629.0L463.3 628.7L465.1 628.4L467.0 628.1L468.9 627.9L470.9 627.8L472.9 627.7L474.9 627.6L476.7 627.5L478.3 627.5L479.8 627.5L481.1 627.5L482.2 627.6L483.3 627.7L484.4 627.9L485.6 628.0L486.9 628.2L488.3 628.3L490.0 628.5L491.9 628.6L494.0 628.8L496.0 629.0L498.1 629.2L500.1 629.4L501.8 629.7L503.3 630.0L504.6 630.4L505.7 630.8L506.6 631.3L507.4 631.9L508.1 632.4L508.7 633.0L509.4 633.6L510.0 634.2L510.7 634.8L511.4 635.6L512.1 636.4L512.8 637.1L513.3 637.9L513.7 638.6L513.8 639.1L513.7 639.5L513.1 639.7L512.3 639.7L511.2 639.7L509.9 639.5L508.5 639.3L507.2 639.1L506.0 638.9L505.0 638.7L504.3 638.5L503.8 638.3L503.5 638.0L503.2 637.8L502.8 637.5L502.2 637.3L501.3 637.1L500.0 637.0L498.2 636.9L496.1 636.9L493.7 637.0L491.1 637.0L488.4 637.0L485.6 637.1L482.8 637.1L480.0 637.0L477.1 636.9L474.0 636.7L470.7 636.5L467.4 636.3L464.2 636.1L461.3 635.9L458.7 635.6L456.7 635.3L455.1 635.0L453.7 634.7L452.7 634.4L452.0 634.1L451.5 633.7L451.3 633.3L451.4 632.9Z" fill="#c00000"/><path d="M519.2 638.0L519.4 637.8L519.8 637.7L520.3 637.6L520.8 637.6L521.3 637.6L521.8 637.7L522.2 637.8L522.5 638.0L522.7 638.3L522.9 638.6L523.0 639.0L523.1 639.5L523.1 640.0L523.1 640.4L523.0 640.7L522.8 641.0L522.6 641.2L522.2 641.3L521.7 641.4L521.2 641.4L520.7 641.4L520.2 641.3L519.8 641.2L519.5 641.0L519.3 640.7L519.1 640.4L519.0 640.0L518.9 639.5L518.9 639.0L518.9 638.6L519.0 638.3Z" fill="#c00000"/><path d="M493.0 668.0L493.2 667.8L493.4 667.7L493.7 667.6L494.1 667.6L494.4 667.6L494.8 667.7L495.1 667.8L495.3 668.0L495.5 668.3L495.7 668.7L495.8 669.2L496.0 669.7L496.0 670.2L496.1 670.7L496.1 671.1L496.0 671.3L495.8 671.5L495.6 671.6L495.3 671.7L494.9 671.8L494.6 671.7L494.2 671.6L493.9 671.5L493.7 671.3L493.5 671.1L493.3 670.7L493.2 670.2L493.0 669.7L493.0 669.2L492.9 668.7L492.9 668.3Z" fill="#c00000"/><path d="M498.7 678.0L498.8 677.8L499.1 677.7L499.4 677.6L499.8 677.6L500.1 677.6L500.5 677.7L500.8 677.8L501.0 678.0L501.2 678.3L501.4 678.7L501.5 679.2L501.6 679.7L501.7 680.2L501.8 680.7L501.7 681.1L501.7 681.3L501.5 681.5L501.3 681.6L500.9 681.7L500.6 681.8L500.2 681.7L499.9 681.6L499.6 681.5L499.3 681.3L499.1 681.1L499.0 680.7L498.8 680.2L498.7 679.7L498.6 679.2L498.6 678.7L498.6 678.3Z" fill="#c00000"/><path d="M72.9 808.2L73.2 808.1L73.7 808.0L74.2 807.9L74.8 807.9L75.4 807.9L75.9 808.0L76.3 808.1L76.7 808.2L76.9 808.4L77.0 808.7L77.1 809.1L77.1 809.4L77.1 809.8L77.0 810.2L76.9 810.5L76.7 810.7L76.3 810.8L75.9 810.9L75.4 811.0L74.8 811.0L74.2 811.0L73.7 810.9L73.2 810.8L72.9 810.7L72.7 810.5L72.5 810.2L72.4 809.8L72.4 809.4L72.4 809.1L72.5 808.7L72.7 808.4Z" fill="#c00000"/><path d="M102.9 798.7L103.2 798.5L103.5 798.4L104.0 798.4L104.4 798.3L104.9 798.4L105.4 798.4L105.7 798.5L106.0 798.7L106.2 798.9L106.3 799.2L106.4 799.6L106.4 800.0L106.4 800.4L106.3 800.8L106.2 801.1L106.0 801.3L105.7 801.5L105.4 801.6L104.9 801.6L104.4 801.7L104.0 801.6L103.5 801.6L103.2 801.5L102.9 801.3L102.7 801.1L102.6 800.8L102.5 800.4L102.5 800.0L102.5 799.6L102.6 799.2L102.7 798.9Z" fill="#c00000"/><path d="M94.4 800.0L94.7 799.9L95.0 799.8L95.4 799.7L95.8 799.7L96.2 799.7L96.6 799.8L96.9 799.9L97.1 800.0L97.3 800.2L97.4 800.5L97.4 800.8L97.4 801.1L97.4 801.5L97.4 801.8L97.3 802.0L97.1 802.2L96.9 802.3L96.6 802.4L96.2 802.5L95.8 802.5L95.4 802.5L95.0 802.4L94.7 802.3L94.4 802.2L94.3 802.0L94.2 801.8L94.1 801.5L94.1 801.1L94.1 800.8L94.2 800.5L94.3 800.2Z" fill="#c00000"/><path d="M190.4 778.7L190.7 778.4L191.1 778.3L191.6 778.2L192.2 778.2L192.7 778.2L193.2 778.3L193.7 778.4L194.0 778.7L194.2 779.0L194.4 779.5L194.6 780.0L194.7 780.7L194.7 781.3L194.7 781.9L194.6 782.3L194.4 782.7L194.2 782.9L193.8 783.0L193.3 783.1L192.7 783.2L192.2 783.1L191.7 783.0L191.2 782.9L190.9 782.7L190.7 782.3L190.5 781.9L190.3 781.3L190.2 780.7L190.2 780.0L190.2 779.5L190.3 779.0Z" fill="#c00000"/><path d="M171.1 781.3L171.3 781.2L171.6 781.1L172.0 781.1L172.3 781.1L172.7 781.1L173.1 781.1L173.4 781.2L173.6 781.3L173.7 781.5L173.8 781.8L173.8 782.1L173.9 782.4L173.8 782.8L173.8 783.1L173.7 783.4L173.6 783.6L173.4 783.7L173.1 783.8L172.7 783.8L172.3 783.8L172.0 783.8L171.6 783.8L171.3 783.7L171.1 783.6L171.0 783.4L170.9 783.1L170.8 782.8L170.8 782.4L170.8 782.1L170.9 781.8L171.0 781.5Z" fill="#c00000"/><path d="M153.6 779.1L153.7 779.0L154.0 778.9L154.2 778.9L154.6 778.9L154.9 778.9L155.1 778.9L155.4 779.0L155.6 779.1L155.7 779.3L155.7 779.5L155.8 779.8L155.8 780.1L155.8 780.4L155.7 780.7L155.7 780.9L155.6 781.1L155.4 781.2L155.1 781.3L154.9 781.3L154.6 781.4L154.2 781.3L154.0 781.3L153.7 781.2L153.6 781.1L153.4 780.9L153.4 780.7L153.3 780.4L153.3 780.1L153.3 779.8L153.4 779.5L153.4 779.3Z" fill="#c00000"/></g>
<g><path d="M211.7 333.3L213.1 334.3L215.1 335.3L217.5 336.6L220.2 337.9L223.0 339.3L225.9 340.7L228.7 342.1L231.3 343.4L233.8 344.6L236.3 345.8L238.9 347.1L241.4 348.3L243.9 349.5L246.4 350.7L248.9 351.8L251.3 352.8L253.7 353.8L256.0 354.6L258.2 355.4L260.5 356.1L262.7 356.8L265.0 357.4L267.3 358.1L269.8 358.7L272.5 359.4L275.5 360.2L278.7 360.9L281.9 361.6L284.9 362.2L287.6 362.7L289.9 363.1L291.7 363.3L291.7 363.3L290.0 362.7L287.8 362.1L285.1 361.3L282.1 360.5L279.0 359.7L275.9 358.8L272.9 358.0L270.2 357.3L267.8 356.5L265.5 355.8L263.2 355.1L261.0 354.4L258.8 353.7L256.6 352.9L254.3 352.1L252.0 351.2L249.6 350.2L247.2 349.1L244.7 347.9L242.1 346.8L239.6 345.5L237.1 344.3L234.5 343.1L232.0 342.0L229.3 340.8L226.5 339.5L223.5 338.2L220.6 336.9L217.9 335.7L215.4 334.7L213.3 333.8L211.7 333.3Z" fill="#663c32"/><path d="M70.0 365.0L70.6 365.7L71.5 366.5L72.6 367.4L73.9 368.4L75.3 369.4L76.7 370.5L78.2 371.4L79.6 372.3L81.1 373.2L82.7 374.2L84.4 375.1L86.1 376.0L87.8 376.8L89.3 377.5L90.6 378.1L91.7 378.3L91.7 378.3L90.9 377.6L89.7 376.8L88.3 375.8L86.8 374.8L85.1 373.8L83.5 372.8L81.9 371.9L80.4 371.0L79.0 370.1L77.6 369.2L76.1 368.3L74.6 367.4L73.2 366.6L72.0 365.9L70.9 365.3L70.0 365.0Z" fill="#663c32"/><path d="M405.0 489.3L406.3 489.6L407.9 489.6L409.8 489.5L411.9 489.2L414.2 489.0L416.4 488.6L418.5 488.2L420.5 487.7L422.3 487.3L424.1 486.7L425.9 486.1L427.7 485.5L429.4 484.9L431.0 484.2L432.6 483.5L434.2 482.8L435.6 482.0L437.1 481.2L438.4 480.4L439.7 479.5L440.9 478.7L442.1 477.8L443.2 477.0L444.2 476.1L445.1 475.3L446.1 474.3L446.9 473.4L447.6 472.4L448.3 471.6L448.8 470.8L449.2 470.0L449.3 469.3L449.3 469.3L448.6 469.5L447.9 469.9L447.1 470.5L446.3 471.1L445.4 471.8L444.5 472.5L443.5 473.2L442.5 473.9L441.4 474.5L440.3 475.2L439.1 475.9L437.9 476.5L436.6 477.2L435.3 477.9L433.9 478.6L432.5 479.2L431.0 479.9L429.5 480.5L427.9 481.2L426.3 481.8L424.6 482.4L422.9 483.1L421.2 483.7L419.5 484.3L417.7 484.8L415.6 485.5L413.5 486.1L411.4 486.7L409.4 487.3L407.6 488.0L406.1 488.5L405.0 489.3Z" fill="#663c32"/><path d="M461.7 477.3L462.8 477.7L464.2 477.8L465.8 477.7L467.7 477.6L469.6 477.5L471.6 477.3L473.5 477.1L475.2 476.8L477.0 476.5L478.9 476.2L480.8 475.8L482.7 475.4L484.5 474.9L486.1 474.5L487.4 474.0L488.3 473.3L488.3 473.3L487.2 473.0L485.8 472.9L484.2 472.9L482.3 473.0L480.4 473.2L478.4 473.4L476.5 473.6L474.8 473.8L473.0 474.1L471.1 474.5L469.2 474.9L467.3 475.3L465.5 475.7L463.9 476.2L462.6 476.7L461.7 477.3Z" fill="#663c32"/><path d="M690.0 286.0L692.3 287.0L695.3 288.0L699.0 289.2L703.1 290.5L707.4 291.8L711.8 293.2L715.9 294.6L719.6 296.0L723.1 297.3L726.5 298.8L729.8 300.3L733.1 301.8L736.3 303.4L739.6 304.9L742.9 306.4L746.2 307.8L749.6 309.1L752.9 310.4L756.3 311.6L759.6 312.8L763.0 314.0L766.3 315.2L769.6 316.4L773.0 317.6L776.5 318.9L780.3 320.2L784.2 321.6L788.1 322.9L791.8 324.2L795.1 325.3L797.8 326.2L800.0 326.7L800.0 326.7L798.0 325.6L795.4 324.5L792.2 323.1L788.6 321.6L784.8 320.1L780.9 318.6L777.2 317.1L773.7 315.7L770.4 314.4L767.0 313.2L763.7 311.9L760.4 310.7L757.1 309.4L753.8 308.2L750.4 306.9L747.1 305.6L743.8 304.2L740.6 302.7L737.3 301.2L734.0 299.7L730.7 298.2L727.3 296.7L723.9 295.3L720.4 294.0L716.5 292.8L712.3 291.5L707.9 290.2L703.5 289.1L699.4 288.0L695.6 287.1L692.4 286.4L690.0 286.0Z" fill="#663c32"/><path d="M760.7 502.7L760.8 501.5L760.8 499.9L760.7 498.1L760.5 496.1L760.4 494.0L760.3 492.0L760.3 490.1L760.4 488.4L760.7 486.9L761.0 485.5L761.4 484.1L761.9 482.8L762.4 481.5L763.0 480.4L763.7 479.3L764.5 478.2L765.3 477.3L766.3 476.4L767.4 475.6L768.6 474.9L769.9 474.2L771.2 473.5L772.6 472.8L774.0 472.2L775.4 471.6L776.8 471.1L778.3 470.6L779.8 470.2L781.4 469.8L783.1 469.4L785.0 469.1L786.9 468.8L789.1 468.5L791.4 468.2L793.9 467.9L796.4 467.6L799.0 467.4L801.6 467.2L804.2 467.1L806.7 467.1L809.1 467.1L811.5 467.1L813.9 467.2L816.3 467.4L818.8 467.6L821.3 467.8L823.8 468.1L826.5 468.4L829.4 468.7L832.6 469.2L836.0 469.7L839.4 470.2L842.7 470.7L845.6 471.1L848.1 471.4L850.0 471.3L850.0 471.3L848.3 470.6L845.9 469.9L843.0 469.1L839.8 468.3L836.4 467.5L833.0 466.8L829.8 466.1L826.9 465.6L824.2 465.2L821.6 464.8L819.1 464.5L816.6 464.2L814.1 464.0L811.7 463.8L809.2 463.7L806.7 463.6L804.1 463.6L801.4 463.7L798.8 463.8L796.1 464.0L793.5 464.3L791.0 464.6L788.6 464.9L786.4 465.2L784.3 465.6L782.4 466.0L780.6 466.4L778.9 466.8L777.3 467.3L775.7 467.9L774.2 468.5L772.7 469.1L771.2 469.8L769.7 470.6L768.3 471.4L766.9 472.2L765.6 473.1L764.4 474.1L763.2 475.2L762.2 476.4L761.3 477.7L760.6 479.0L759.9 480.5L759.4 481.9L759.0 483.4L758.6 485.0L758.4 486.6L758.2 488.2L758.2 490.1L758.4 492.1L758.6 494.2L759.0 496.3L759.4 498.3L759.8 500.1L760.2 501.6L760.7 502.7Z" fill="#663c32"/><path d="M60.0 545.0L60.2 544.7L60.6 544.5L61.1 544.2L61.8 544.1L62.4 543.9L63.0 543.9L63.6 543.9L64.0 544.0L64.4 544.2L64.8 544.6L65.2 545.0L65.5 545.5L65.8 546.0L66.0 546.5L66.1 547.0L66.0 547.3L65.8 547.6L65.4 547.9L64.9 548.2L64.2 548.4L63.6 548.6L63.0 548.7L62.4 548.8L62.0 548.7L61.6 548.4L61.2 548.0L60.8 547.5L60.5 547.0L60.2 546.4L60.0 545.8L59.9 545.4Z" fill="#663c32"/><path d="M626.7 637.3L627.9 637.0L629.4 636.3L631.2 635.4L633.1 634.4L635.1 633.2L637.1 632.0L638.9 630.8L640.7 629.5L642.3 628.3L644.0 626.8L645.6 625.3L647.2 623.8L648.7 622.3L650.0 620.9L651.0 619.7L651.7 618.7L651.7 618.7L650.5 619.2L649.2 620.1L647.7 621.2L646.1 622.5L644.4 623.8L642.6 625.2L640.9 626.6L639.3 627.8L637.7 629.0L635.9 630.3L634.0 631.6L632.1 632.9L630.4 634.1L628.8 635.3L627.5 636.3L626.7 637.3Z" fill="#663c32"/><path d="M785.0 523.3L785.9 523.4L786.9 523.3L788.2 523.1L789.6 522.9L791.1 522.6L792.6 522.3L794.0 521.9L795.3 521.6L796.5 521.2L797.6 520.8L798.6 520.3L799.6 519.9L800.6 519.5L801.6 519.1L802.6 518.7L803.6 518.4L804.7 518.2L805.9 518.0L807.1 517.8L808.4 517.7L809.7 517.6L811.0 517.4L812.3 517.2L813.6 516.9L814.8 516.5L816.0 516.0L817.2 515.4L818.4 514.8L819.4 514.2L820.4 513.7L821.1 513.2L821.7 512.7L821.7 512.7L820.9 512.7L820.0 513.0L819.0 513.3L817.9 513.7L816.7 514.1L815.5 514.5L814.3 514.9L813.1 515.1L812.0 515.3L810.8 515.4L809.5 515.5L808.2 515.6L806.9 515.7L805.6 515.8L804.3 516.0L803.1 516.3L801.9 516.6L800.8 517.0L799.7 517.5L798.7 517.9L797.7 518.4L796.8 518.9L795.8 519.3L794.7 519.8L793.5 520.2L792.2 520.6L790.7 521.1L789.3 521.6L788.0 522.0L786.7 522.5L785.7 522.9L785.0 523.3Z" fill="#663c32"/><path d="M782.7 526.0L782.9 525.7L783.3 525.4L783.7 525.1L784.2 524.9L784.8 524.7L785.3 524.6L785.7 524.6L786.0 524.7L786.2 524.9L786.4 525.2L786.6 525.7L786.7 526.2L786.8 526.7L786.8 527.2L786.8 527.6L786.7 528.0L786.4 528.3L786.1 528.6L785.6 528.9L785.1 529.1L784.6 529.3L784.1 529.4L783.6 529.4L783.3 529.3L783.1 529.1L782.9 528.8L782.7 528.3L782.6 527.8L782.5 527.3L782.5 526.8L782.5 526.4Z" fill="#663c32"/><path d="M830.0 502.7L830.7 503.2L831.7 503.6L832.9 504.0L834.3 504.4L835.8 504.8L837.2 505.1L838.6 505.4L839.8 505.6L841.0 505.8L842.2 506.0L843.5 506.1L844.7 506.2L845.8 506.3L846.8 506.3L847.7 506.2L848.3 506.0L848.3 506.0L847.8 505.6L846.9 505.3L846.0 505.0L844.9 504.7L843.7 504.4L842.5 504.2L841.3 503.9L840.2 503.7L838.9 503.5L837.6 503.2L836.1 503.0L834.6 502.8L833.2 502.6L831.9 502.5L830.9 502.5L830.0 502.7Z" fill="#663c32"/><path d="M663.7 631.3L663.9 631.1L664.1 631.0L664.5 630.8L664.9 630.8L665.3 630.7L665.7 630.8L666.1 630.9L666.3 631.0L666.5 631.2L666.7 631.6L666.9 632.0L667.0 632.5L667.1 633.0L667.1 633.5L667.1 633.9L667.0 634.2L666.8 634.4L666.5 634.6L666.2 634.7L665.8 634.8L665.3 634.9L664.9 634.9L664.6 634.8L664.3 634.7L664.1 634.4L663.9 634.0L663.8 633.6L663.7 633.1L663.6 632.5L663.6 632.0L663.6 631.6Z" fill="#663c32"/><path d="M665.0 644.7L665.4 644.4L666.1 644.3L666.9 644.1L667.8 644.0L668.7 643.9L669.6 644.0L670.3 644.0L670.8 644.2L671.2 644.4L671.5 644.8L671.7 645.3L671.8 645.8L671.8 646.3L671.8 646.8L671.6 647.2L671.3 647.5L670.9 647.7L670.3 647.9L669.5 648.1L668.7 648.2L667.8 648.2L667.0 648.2L666.3 648.1L665.8 648.0L665.5 647.7L665.1 647.4L664.9 646.9L664.7 646.4L664.6 645.9L664.6 645.4L664.8 645.0Z" fill="#663c32"/><path d="M654.2 642.5L654.3 642.3L654.5 642.0L654.8 641.9L655.2 641.8L655.5 641.7L655.9 641.6L656.3 641.6L656.7 641.7L657.0 641.8L657.4 642.0L657.9 642.2L658.3 642.5L658.7 642.8L659.0 643.1L659.1 643.4L659.2 643.7L659.0 644.0L658.7 644.3L658.3 644.7L657.8 645.1L657.2 645.4L656.7 645.7L656.2 645.8L655.8 645.8L655.5 645.7L655.2 645.3L654.9 644.9L654.6 644.4L654.4 643.8L654.3 643.3L654.2 642.8Z" fill="#663c32"/><path d="M241.0 431.6L241.2 431.0L241.6 430.2L242.2 429.3L242.8 428.3L243.6 427.2L244.4 426.1L245.2 425.0L246.0 424.0L246.8 423.0L247.8 422.0L248.7 421.0L249.8 420.0L250.8 418.9L251.9 417.9L252.9 417.0L254.0 416.0L255.1 415.1L256.2 414.2L257.4 413.3L258.6 412.5L259.7 411.7L260.9 410.8L262.0 409.9L263.0 409.0L264.0 408.0L264.9 407.0L265.7 406.0L266.6 405.0L267.4 404.0L268.2 403.0L269.1 402.0L270.0 401.0L271.0 400.1L271.9 399.2L272.9 398.3L273.9 397.4L275.0 396.5L276.0 395.7L277.0 394.8L278.0 394.0L279.0 393.2L280.0 392.4L280.9 391.6L281.9 390.9L282.9 390.1L283.9 389.4L284.9 388.7L286.0 388.0L287.2 387.3L288.4 386.7L289.6 386.1L290.9 385.4L292.2 384.8L293.5 384.2L294.7 383.6L296.0 383.0L297.2 382.4L298.5 381.8L299.8 381.1L301.0 380.5L302.2 379.9L303.5 379.2L304.8 378.6L306.0 378.0L307.2 377.4L308.5 376.8L309.7 376.1L310.9 375.5L312.1 374.9L313.4 374.2L314.7 373.6L316.0 373.0L317.4 372.4L318.9 371.8L320.4 371.1L321.9 370.5L323.4 369.9L325.0 369.2L326.5 368.6L328.0 368.0L329.5 367.4L331.0 366.7L332.5 366.1L334.0 365.4L335.5 364.8L337.0 364.1L338.5 363.5L340.0 363.0L341.5 362.5L343.0 362.0L344.5 361.5L346.0 361.1L347.5 360.7L349.0 360.3L350.5 359.9L352.0 359.6L353.5 359.3L355.1 359.0L356.7 358.7L358.3 358.5L359.9 358.2L361.4 358.0L362.7 357.8L364.0 357.6L365.2 357.4L366.4 357.2L367.6 357.0L368.7 356.8L369.6 356.6L370.4 356.5L370.8 356.5L371.0 356.6L370.8 356.8L370.3 357.1L369.5 357.5L368.6 358.0L367.5 358.5L366.3 359.0L365.1 359.5L364.0 360.0L362.9 360.4L361.7 360.9L360.5 361.3L359.2 361.8L357.9 362.2L356.6 362.7L355.3 363.1L354.0 363.6L352.8 364.1L351.5 364.6L350.2 365.0L349.0 365.5L347.8 366.0L346.5 366.5L345.2 367.1L344.0 367.6L342.8 368.2L341.5 368.7L340.2 369.3L339.0 369.9L337.8 370.5L336.5 371.1L335.2 371.8L334.0 372.4L332.7 373.1L331.5 373.8L330.2 374.5L328.9 375.2L327.6 375.9L326.4 376.6L325.2 377.3L324.0 378.0L322.9 378.6L321.9 379.3L320.9 379.9L319.9 380.5L318.9 381.1L318.0 381.7L317.0 382.3L316.0 383.0L315.0 383.7L314.0 384.5L313.0 385.2L312.0 386.0L311.0 386.8L310.0 387.5L309.0 388.3L308.0 389.0L307.0 389.7L306.0 390.3L305.1 390.9L304.1 391.6L303.1 392.2L302.1 392.8L301.1 393.4L300.0 394.0L298.8 394.6L297.6 395.3L296.4 395.9L295.1 396.6L293.8 397.2L292.5 397.8L291.3 398.4L290.0 399.0L288.7 399.5L287.5 400.1L286.2 400.6L284.9 401.1L283.6 401.5L282.4 402.0L281.2 402.5L280.0 403.0L278.9 403.5L277.9 404.0L276.9 404.4L275.9 404.9L274.9 405.4L274.0 405.9L273.0 406.4L272.0 407.0L271.0 407.6L270.0 408.3L269.0 409.1L268.0 409.8L267.0 410.6L266.0 411.4L265.0 412.2L264.0 413.0L263.0 413.8L262.0 414.7L260.9 415.6L259.9 416.5L258.9 417.4L257.9 418.3L256.9 419.2L256.0 420.0L255.2 420.8L254.4 421.6L253.6 422.3L252.9 423.1L252.2 423.8L251.5 424.6L250.7 425.3L250.0 426.0L249.2 426.8L248.4 427.6L247.6 428.4L246.8 429.2L246.0 429.9L245.3 430.6L244.6 431.2L244.0 431.6L243.4 431.9L242.9 432.2L242.3 432.3L241.8 432.4L241.4 432.4L241.1 432.3L241.0 432.0Z" fill="#663c32"/><path d="M364.7 530.0L364.7 529.4L364.8 528.9L365.0 528.7L365.3 528.6L365.5 528.8L365.8 529.0L366.1 529.4L366.3 530.0L366.6 530.8L366.8 531.8L367.0 533.0L367.2 534.4L367.4 535.8L367.7 537.3L368.0 538.7L368.3 540.0L368.7 541.2L369.1 542.5L369.5 543.8L369.9 545.0L370.4 546.2L370.9 547.5L371.4 548.8L372.0 550.0L372.6 551.3L373.3 552.6L374.1 553.9L374.9 555.2L375.7 556.5L376.5 557.7L377.2 558.9L378.0 560.0L378.7 561.0L379.3 561.9L379.9 562.7L380.5 563.5L381.1 564.3L381.9 565.0L382.7 565.8L383.7 566.7L384.8 567.6L386.1 568.6L387.5 569.6L389.0 570.6L390.5 571.6L392.0 572.5L393.5 573.4L395.0 574.2L396.4 574.8L397.9 575.4L399.4 576.0L400.8 576.4L402.3 576.9L403.7 577.3L405.2 577.6L406.7 578.0L408.1 578.3L409.7 578.5L411.2 578.7L412.7 578.8L414.2 579.0L415.6 579.1L417.0 579.4L418.3 579.7L419.6 580.1L421.0 580.5L422.3 581.0L423.6 581.5L424.7 582.0L425.7 582.6L426.5 583.1L427.0 583.7L427.3 584.2L427.3 584.9L427.1 585.6L426.8 586.2L426.3 586.9L425.7 587.5L425.0 588.0L424.2 588.3L423.2 588.6L422.0 588.8L420.7 589.0L419.2 589.1L417.7 589.1L416.2 589.0L414.7 588.9L413.3 588.7L412.1 588.3L410.8 587.9L409.6 587.4L408.4 586.8L407.2 586.1L405.9 585.4L404.7 584.8L403.3 584.2L401.9 583.6L400.5 583.0L399.0 582.4L397.4 581.7L395.9 581.1L394.4 580.5L393.0 579.8L391.7 579.2L390.4 578.5L389.2 577.9L388.0 577.4L386.8 576.7L385.7 576.1L384.6 575.4L383.5 574.6L382.5 573.7L381.5 572.6L380.5 571.4L379.5 570.1L378.5 568.8L377.6 567.4L376.7 566.0L375.8 564.6L375.0 563.3L374.2 562.1L373.5 560.8L372.8 559.6L372.1 558.4L371.4 557.2L370.8 555.9L370.2 554.7L369.7 553.3L369.1 552.0L368.7 550.5L368.2 549.1L367.8 547.6L367.4 546.1L367.0 544.6L366.7 543.1L366.3 541.7L366.0 540.1L365.7 538.5L365.4 536.8L365.2 535.1L365.0 533.5L364.8 532.1L364.7 530.9Z" fill="#663c32"/><path d="M361.3 510.8L361.5 510.5L361.9 510.2L362.2 510.0L362.7 509.9L363.1 509.8L363.5 509.8L363.9 509.8L364.2 510.0L364.4 510.3L364.5 510.8L364.7 511.3L364.8 512.0L364.8 512.6L364.8 513.2L364.8 513.8L364.7 514.2L364.5 514.5L364.2 514.8L363.8 515.1L363.4 515.3L363.0 515.4L362.6 515.5L362.3 515.5L362.0 515.3L361.8 515.0L361.6 514.5L361.4 513.9L361.3 513.2L361.2 512.5L361.2 511.8L361.2 511.3Z" fill="#663c32"/><path d="M241.7 562.0L242.3 561.5L243.2 561.2L244.2 560.9L245.3 560.7L246.5 560.6L247.7 560.5L248.9 560.4L250.0 560.2L251.1 559.9L252.2 559.6L253.4 559.3L254.6 559.0L255.7 558.8L256.7 558.6L257.6 558.5L258.3 558.5L258.9 558.7L259.5 558.9L259.9 559.3L260.3 559.8L260.5 560.3L260.6 560.7L260.5 561.2L260.3 561.7L259.9 562.1L259.2 562.5L258.4 562.9L257.4 563.3L256.4 563.7L255.4 564.1L254.5 564.5L253.7 565.0L253.0 565.5L252.3 566.1L251.8 566.7L251.2 567.4L250.6 568.0L250.0 568.5L249.4 569.0L248.7 569.3L247.8 569.6L246.9 569.8L245.9 570.0L244.9 570.1L243.9 570.1L243.0 570.0L242.2 569.7L241.7 569.3L241.3 568.7L241.0 567.9L240.8 566.9L240.7 565.8L240.7 564.7L240.9 563.6L241.2 562.7Z" fill="#663c32"/><path d="M222.5 555.8L223.0 555.8L224.0 555.8L225.2 556.0L226.6 556.2L228.0 556.5L229.4 556.8L230.7 557.1L231.7 557.3L232.5 557.6L233.3 558.0L234.0 558.4L234.6 558.8L235.1 559.2L235.4 559.5L235.5 559.8L235.3 560.0L234.8 560.1L234.0 560.1L232.9 560.1L231.7 560.1L230.4 559.9L229.1 559.8L227.9 559.6L227.0 559.3L226.2 559.0L225.3 558.5L224.4 558.0L223.7 557.4L223.0 556.9L222.6 556.4L222.4 556.1Z" fill="#663c32"/><path d="M218.3 551.7L218.7 551.2L219.3 550.6L220.1 549.9L221.0 549.2L221.9 548.6L222.8 548.0L223.6 547.6L224.2 547.3L224.6 547.3L224.9 547.5L225.2 547.8L225.4 548.2L225.5 548.6L225.5 549.1L225.5 549.6L225.3 550.0L225.0 550.4L224.6 550.9L224.0 551.4L223.4 551.9L222.7 552.4L222.1 552.8L221.5 553.2L221.0 553.3L220.5 553.4L220.0 553.3L219.5 553.2L219.0 553.0L218.6 552.7L218.4 552.4L218.2 552.0Z" fill="#663c32"/><path d="M330.8 728.7L331.6 727.8L332.7 726.7L334.1 725.5L335.7 724.1L337.3 722.6L338.9 721.1L340.4 719.7L341.7 718.3L342.7 717.1L343.6 715.8L344.4 714.5L345.2 713.2L345.9 711.9L346.6 710.7L347.4 709.5L348.3 708.3L349.3 707.3L350.3 706.3L351.3 705.4L352.4 704.5L353.5 703.5L354.5 702.5L355.6 701.3L356.7 700.0L357.7 698.4L358.9 696.6L360.0 694.6L361.1 692.5L362.2 690.4L363.3 688.4L364.2 686.6L365.0 685.0L365.6 683.7L366.1 682.5L366.5 681.5L366.8 680.6L367.1 679.7L367.4 678.8L367.8 677.8L368.3 676.7L369.0 675.4L369.8 674.0L370.6 672.6L371.5 671.1L372.4 669.6L373.3 668.2L374.1 667.0L375.0 665.8L375.9 664.8L376.7 663.8L377.6 662.9L378.5 662.1L379.4 661.4L380.2 660.8L381.0 660.3L381.7 660.0L382.3 659.9L383.0 659.9L383.6 660.1L384.1 660.4L384.6 660.8L385.0 661.3L385.2 661.9L385.3 662.5L385.3 663.2L385.0 664.0L384.6 664.9L384.1 665.9L383.6 666.9L383.0 667.9L382.5 669.0L382.0 670.0L381.6 671.0L381.1 672.0L380.7 673.1L380.3 674.1L379.8 675.2L379.4 676.2L378.9 677.3L378.3 678.3L377.8 679.4L377.2 680.4L376.6 681.4L375.9 682.4L375.3 683.4L374.6 684.5L374.0 685.5L373.3 686.7L372.7 687.8L372.1 689.1L371.5 690.4L370.9 691.7L370.3 693.0L369.7 694.2L369.0 695.5L368.3 696.7L367.6 697.8L366.8 698.9L366.0 700.0L365.1 701.0L364.2 702.1L363.4 703.1L362.5 704.0L361.7 705.0L360.8 705.9L360.0 706.8L359.2 707.7L358.3 708.5L357.5 709.4L356.7 710.2L355.8 710.9L355.0 711.7L354.2 712.4L353.4 713.0L352.6 713.6L351.8 714.1L351.0 714.7L350.1 715.3L349.2 715.9L348.3 716.7L347.4 717.5L346.3 718.4L345.3 719.4L344.2 720.4L343.1 721.4L342.0 722.4L341.0 723.3L340.0 724.2L339.1 725.0L338.1 725.8L337.2 726.6L336.3 727.4L335.5 728.0L334.7 728.7L334.0 729.1L333.3 729.5L332.7 729.8L332.1 729.9L331.5 730.1L331.0 730.1L330.6 729.9L330.4 729.7L330.5 729.3Z" fill="#663c32"/><path d="M380.0 685.0L380.5 684.1L381.2 682.8L382.0 681.3L382.9 679.6L383.9 677.9L384.8 676.2L385.8 674.7L386.7 673.3L387.5 672.2L388.4 671.1L389.3 670.1L390.2 669.1L391.0 668.2L391.8 667.4L392.6 666.6L393.3 665.8L394.0 665.1L394.6 664.5L395.3 663.8L395.8 663.3L396.4 662.8L396.8 662.3L397.2 662.0L397.5 661.7" fill="none" stroke="#663c32" stroke-width="1.6" stroke-linecap="round" stroke-linejoin="round"/><path d="M387.0 658.7L387.3 658.4L387.7 658.2L388.3 658.1L388.9 658.0L389.4 658.0L390.0 658.1L390.5 658.2L390.8 658.3L391.1 658.6L391.3 659.0L391.5 659.6L391.6 660.1L391.6 660.7L391.6 661.2L391.5 661.7L391.3 662.0L391.0 662.2L390.6 662.4L390.1 662.6L389.5 662.7L388.9 662.8L388.3 662.8L387.8 662.7L387.5 662.5L387.2 662.2L387.0 661.8L386.9 661.2L386.8 660.6L386.7 660.0L386.7 659.5L386.8 659.0Z" fill="#663c32"/><path d="M455.8 631.0L456.3 630.8L457.0 630.6L457.8 630.4L458.7 630.3L459.7 630.2L460.9 630.1L462.1 630.1L463.3 630.0L464.8 629.9L466.5 629.8L468.4 629.7L470.3 629.6L472.2 629.5L474.0 629.5L475.5 629.6L476.7 629.7L477.4 629.9L477.8 630.2L477.9 630.6L477.9 631.1L477.9 631.5L477.9 631.9L478.1 632.2L478.7 632.3L479.5 632.3L480.6 632.2L481.8 631.9L483.1 631.6L484.5 631.3L485.8 631.0L487.1 630.9L488.3 630.8L489.5 631.0L490.6 631.2L491.8 631.5L492.9 631.8L493.9 632.2L494.9 632.6L495.9 633.0L496.7 633.3L497.4 633.7L498.2 634.0L498.9 634.4L499.5 634.7L499.9 635.1L500.3 635.4L500.4 635.6L500.3 635.8L500.0 636.0L499.5 636.1L498.8 636.1L497.9 636.2L496.9 636.2L495.8 636.2L494.6 636.2L493.3 636.2L492.0 636.2L490.4 636.2L488.8 636.2L487.1 636.2L485.3 636.1L483.5 636.1L481.7 636.1L480.0 636.0L478.3 635.9L476.6 635.8L474.9 635.7L473.1 635.6L471.4 635.5L469.8 635.4L468.2 635.3L466.7 635.2L465.2 635.1L463.7 635.0L462.3 635.0L460.9 634.9L459.6 634.8L458.4 634.7L457.5 634.6L456.7 634.3L456.1 634.0L455.6 633.6L455.3 633.2L455.2 632.7L455.1 632.2L455.2 631.7L455.5 631.3Z" fill="#663c32"/></g>
<path d="M84.5 285.8V913.9M148.0 285.8V913.9M211.6 285.8V913.9M275.1 285.8V913.9M338.7 285.8V913.9M402.2 285.8V913.9M465.7 285.8V913.9M529.3 285.8V913.9M592.8 285.8V913.9M656.4 285.8V913.9M719.9 285.8V913.9M783.4 285.8V913.9M847.0 285.8V913.9M53.1 873.6H846.9M53.1 795.2H846.9M53.1 716.8H846.9M53.1 638.4H846.9M53.1 560.0H846.9M53.1 481.6H846.9M53.1 403.2H846.9M53.1 324.8H846.9" stroke="#9c9c9c" stroke-width="1" stroke-dasharray="2.2 7.4" fill="none"/>
<path d="M268.8 327.9L266.0 326.6L262.9 326.2L259.3 326.2L256.0 324.6L252.9 324.0L248.5 323.8L244.6 323.2L241.0 324.0L237.0 323.2L233.4 322.9L229.5 321.8L225.1 322.7L221.1 321.7L216.6 321.3L212.2 321.1L208.4 320.9L205.1 319.9L202.2 319.7L199.2 319.5L195.7 318.1L191.8 317.0L187.1 317.9L183.0 317.4L179.2 316.9L176.0 315.7L172.9 315.2L169.6 314.6L165.4 316.1L160.7 318.1L158.2 319.6L154.4 319.1L150.9 320.3L148.0 321.3L144.5 322.5L141.3 322.0L138.6 322.7L135.3 323.2L132.3 325.1L129.0 327.9L126.4 329.9L122.7 331.3L119.4 333.0L115.4 332.6L111.9 334.3L108.6 333.8L104.8 337.7L109.1 339.0L113.1 340.1L116.0 341.3L119.0 342.5L122.6 343.6L125.6 345.3L129.0 347.5L132.3 347.4L135.3 348.3L138.5 352.2L136.0 355.4L132.2 354.5L128.8 355.7L125.8 355.4L123.9 351.8L120.3 352.7L117.0 352.5L113.1 353.4L110.3 354.6L106.7 356.2L103.6 357.0L100.3 359.0L97.2 359.3L100.7 360.7L103.7 361.2L106.7 361.6L108.0 367.1L112.1 367.0L116.3 368.3L120.1 368.4L124.4 367.8L129.0 367.5L132.2 368.2L135.8 367.9L138.5 368.7L141.7 364.8L142.4 368.7L143.0 371.8L141.7 375.8L136.8 375.0L132.2 375.8L129.5 377.6L126.2 378.1L122.6 379.7L118.6 381.4L114.4 383.6L111.9 387.2L109.9 390.7L113.1 394.6L116.3 399.3L119.2 401.4L121.4 403.2L126.1 402.7L130.2 403.2L134.1 404.0L135.3 409.5L136.6 414.2L139.9 414.3L142.5 412.4L146.1 411.8L150.5 411.8L155.7 412.6L158.2 413.0L163.9 413.0L167.1 412.2L165.8 416.5L163.3 422.0L160.2 424.0L157.6 426.7L154.2 429.6L150.8 432.1L148.0 434.6L143.1 435.6L138.5 435.3L135.2 436.9L132.4 439.1L129.0 441.6L125.7 443.5L121.1 443.9L117.5 445.5L121.1 445.0L124.3 444.6L127.1 444.0L131.1 442.6L135.3 442.0L138.6 440.7L142.4 440.0L146.1 437.7L149.6 435.9L154.0 435.6L157.6 434.6L161.3 432.4L164.2 430.2L167.1 428.3L170.1 425.9L173.5 423.6L176.0 421.8L179.9 421.4L183.0 418.9L185.9 415.5L189.3 412.6L186.8 408.3L190.0 405.2L193.2 403.2L197.0 399.3L200.8 396.5L204.9 395.2L207.8 393.4L212.2 393.8L209.7 395.4L206.4 396.6L203.3 397.7L202.7 401.6L199.5 405.2L202.0 408.7L205.9 408.1L210.3 407.1L214.8 404.0L217.4 403.1L221.1 403.2L223.0 397.7L227.5 395.4L231.1 395.5L235.1 394.6L238.3 398.9L242.4 401.0L246.5 402.4L251.2 401.9L255.3 403.4L259.2 403.2L263.3 403.6L267.5 404.0L270.9 404.8L275.1 405.6L277.7 406.3L280.8 407.5L284.4 409.7L287.8 411.4L290.4 413.9L294.1 414.4L296.1 416.5L301.8 417.3L303.6 413.2L305.0 409.5L306.3 415.7L312.0 417.3L312.5 420.4L313.9 423.6L316.4 425.2L319.6 427.5L321.7 429.9L324.0 433.0L327.2 437.7L330.3 438.9L332.9 440.8L337.4 443.2L336.8 447.9L339.9 453.4L342.2 456.6L345.0 458.1L347.8 460.9L349.5 463.6L352.6 469.1L354.5 474.5L358.9 475.7L362.8 477.7L365.4 479.6L369.2 480.8L373.0 484.0L376.7 485.2L381.2 487.1L382.5 489.4L385.7 491.0L387.0 495.7L387.6 500.4L385.7 503.6L383.1 502.0L385.0 496.5L380.0 496.1L376.3 495.1L372.3 494.1L373.0 497.9L372.7 501.2L376.1 505.9L376.8 510.6L377.1 516.9L376.1 521.2L376.1 524.7L375.5 528.9L375.5 532.6L373.6 538.0L375.3 540.8L375.5 544.3L376.1 550.6L374.8 553.2L374.2 556.9L375.9 560.1L378.1 563.9L378.7 568.6L380.9 571.3L383.1 574.1L386.3 577.2L389.5 579.6L387.6 576.5L386.6 578.8L387.0 582.0L390.1 584.3L390.1 589.0L393.9 593.7L397.8 598.4L398.4 602.7L402.3 603.1L405.4 603.9L409.8 606.6L412.4 609.0L415.5 610.2L419.4 614.9L420.6 618.8L422.4 622.3L423.8 625.1L424.5 628.6L427.0 630.8L427.6 634.5L429.5 640.0L432.0 642.5L435.2 645.5L439.1 649.4L439.7 654.1L434.0 655.3L435.7 658.2L438.4 661.1L442.9 664.3L445.6 667.0L447.9 669.8L450.1 674.0L451.8 677.6L452.4 681.5L456.4 683.8L459.4 686.2L461.0 689.5L463.8 691.7L466.4 694.1L469.2 691.7L468.3 686.2L463.8 683.9L461.3 679.2L459.8 676.5L458.5 673.5L457.5 669.8L455.9 665.6L453.0 661.9L450.2 658.3L447.9 654.9L446.3 651.6L444.5 649.1L443.5 646.2L441.8 643.5L439.7 641.2L437.1 638.4L435.6 635.0L435.6 630.6L435.2 624.7L440.3 626.6L445.4 629.0L445.8 632.3L447.3 635.3L448.9 638.5L450.6 641.3L451.8 643.9L454.2 647.4L456.2 650.9L460.0 654.9L462.7 658.1L465.7 661.9L469.6 665.8L469.1 669.0L470.2 672.9L473.7 674.5L476.5 677.6L478.8 680.6L481.0 683.1L483.5 686.6L486.5 688.9L488.6 691.7L490.8 694.4L493.1 697.2L494.2 700.7L495.0 705.0L495.6 711.3L493.1 713.7L495.6 719.2L498.0 722.2L502.0 724.6L504.7 727.1L507.0 730.1L511.6 731.1L515.3 732.9L519.1 736.3L522.9 738.0L526.7 739.6L529.9 741.5L532.7 742.8L535.6 743.9L538.8 745.8L542.8 747.7L547.7 748.9L553.4 750.9L556.8 749.1L559.8 747.0L564.2 746.6L568.0 748.2L571.8 751.0L573.8 754.4L576.2 757.7L578.8 759.5L581.7 762.0L584.6 764.2L590.3 765.0L594.1 767.4L597.0 768.4L600.4 770.1L606.2 770.5L608.7 768.9L610.0 772.1L607.4 772.9L610.1 775.0L613.2 778.0L616.3 781.9L620.1 786.6L618.9 788.1L619.5 792.8L619.5 795.6L624.0 798.3L625.2 795.2L626.5 798.3L630.3 800.3L633.5 803.8L632.9 807.4L635.4 807.7L637.3 809.3L637.9 810.5L642.4 808.9L645.6 810.1L648.7 814.0L650.6 817.2L653.8 816.8L656.4 814.8L653.8 810.1L655.6 807.5L657.6 804.6L659.5 803.4L662.7 803.4L665.9 806.2L667.8 808.5L666.5 810.5L667.8 814.8L669.7 817.2L672.9 821.9L671.9 826.0L672.2 829.7L673.7 834.3L673.5 838.3L672.2 841.5L674.8 843.8L673.3 847.2L671.8 849.8L671.0 853.2L665.3 854.8L664.0 859.5L662.7 862.6L658.3 866.2L655.7 868.9L656.0 873.6L653.2 876.7L650.6 881.4L651.4 884.5L651.6 888.5L650.3 890.8L654.5 893.6L657.0 891.6L657.6 897.1L654.5 900.3L652.5 902.3L650.0 905.0L648.1 909.7L648.7 913.2L648.7 916.7M673.2 805.8L669.7 800.7L664.0 799.5L659.2 798.3L657.0 800.3L654.0 801.6L651.3 804.2L646.8 804.6L642.4 803.0L642.1 799.9L637.9 796.0L637.3 795.2L635.8 792.0L633.5 788.1L632.9 787.4L632.4 784.1L633.2 780.3L632.5 779.5L633.6 775.9L634.1 772.5L634.5 767.7L634.8 763.8L635.9 759.6L636.0 756.0L631.6 752.1L627.8 749.3L621.4 748.9L618.2 748.6L613.2 749.7L607.4 748.9L605.5 750.5L601.7 749.7L599.8 748.9L602.4 745.8L604.3 740.3L603.9 736.4L604.9 730.9L603.6 728.6L606.8 730.1L607.1 726.1L608.7 722.3L609.0 716.8L611.9 711.3L613.5 707.4L611.2 704.6L605.5 704.3L602.7 705.1L599.2 706.2L595.3 706.4L590.9 708.2L590.0 709.7L590.5 713.2L589.6 716.8L589.3 718.0L586.5 723.1L583.3 727.8L581.4 727.4L575.7 727.8L571.9 728.6L568.7 729.3L564.2 731.3L559.8 727.0L555.3 725.4L554.1 723.1L552.2 718.4L550.1 714.8L548.3 712.1L546.4 707.4L545.0 703.0L543.3 699.2L543.1 696.1L542.7 693.1L543.3 689.4L544.4 685.8L543.9 681.5L544.7 677.7L545.8 673.7L547.1 670.5L546.6 665.8L545.8 661.9L547.1 655.6L549.7 653.3L552.2 650.9L555.5 649.1L559.1 646.6L562.3 643.5L564.6 641.6L568.4 640.8L571.4 641.7L575.0 641.5L580.1 641.9L584.6 643.9L589.0 645.1L593.0 645.7L596.6 645.8L596.6 642.3L594.7 638.0L597.3 636.0L601.8 635.4L605.5 636.0L605.5 633.7L606.8 636.0L610.6 635.7L616.3 635.3L620.1 637.6L622.7 640.8L626.2 639.5L629.0 638.0L633.5 640.8L637.3 645.1L639.2 650.2L638.9 654.9L640.5 657.2L641.4 660.3L642.4 663.5L644.9 668.2L648.1 672.1L649.4 676.4L653.8 676.0L655.4 671.3L656.0 667.8L656.0 663.5L654.7 660.9L654.1 657.2L653.2 654.1L652.9 650.2L652.0 646.4L650.0 643.9L648.1 639.7L647.8 636.0L647.5 629.8L648.9 626.1L650.0 622.7L653.1 620.2L656.4 617.2L658.7 615.7L661.4 613.3L665.3 608.2L669.4 607.8L671.5 605.2L674.2 602.3L678.3 602.3L681.2 599.3L684.6 597.2L685.0 592.9L684.1 587.9L681.8 584.3L679.9 583.5L679.2 579.7L679.2 576.5L678.6 572.6L678.6 568.6L681.1 564.7L680.5 567.8L680.5 571.8L682.4 576.5L682.1 582.3L683.6 579.8L685.6 576.5L687.8 572.2L687.5 569.4L685.6 565.5L684.6 563.1L686.5 565.7L688.8 568.2L690.6 565.0L693.2 563.1L694.5 556.9L694.5 554.5L697.0 552.2L701.5 550.2L707.2 549.8L711.0 548.2L711.0 546.7L713.5 548.2L715.8 547.8L719.9 547.1L720.2 545.5L719.3 543.9L716.7 545.9L715.8 544.3L713.5 541.6L716.1 539.2L714.8 537.3L717.4 534.3L718.6 531.4L723.1 529.4L727.5 525.5L732.6 525.5L736.1 524.1L739.0 522.4L739.0 520.0L741.9 518.9L745.3 519.2L748.3 518.2L751.7 516.1L752.9 518.4L755.5 518.1L760.6 517.7L756.8 519.6L751.7 521.2L746.6 523.9L744.4 527.1L744.4 530.2L747.9 532.6L752.9 529.4L755.2 527.5L758.0 525.1L760.9 523.9L764.3 523.2L767.6 522.0L770.9 520.2L773.9 519.6L777.1 518.4L774.5 516.1L771.4 514.1L766.3 514.9L761.2 514.1L758.0 513.0L754.8 511.0L752.9 505.9L752.3 504.3L750.4 504.3L752.3 499.2L754.8 497.7L751.3 499.0L748.5 500.0L743.4 496.9L740.9 497.3L746.6 495.7L752.9 495.7L756.8 493.4L756.8 490.6L752.9 488.7L749.1 487.5L745.3 487.9L742.6 489.4L739.4 489.5L735.8 490.6L732.7 491.9L729.4 493.8L726.0 496.1L723.1 498.5L720.7 501.8L718.6 504.3L715.3 506.1L712.3 506.7L715.1 505.0L716.7 502.0L718.7 499.1L721.8 496.1L724.7 492.9L728.8 489.8L731.7 487.9L737.7 486.7L740.5 483.7L742.8 480.0L747.5 479.6L751.7 479.2L756.9 479.6L761.2 479.6L766.2 479.0L770.7 479.6L777.1 480.0L780.1 480.2L783.4 479.2L786.4 477.7L789.8 475.3L792.3 472.9L796.1 471.4L801.9 470.2L805.7 468.4L808.9 465.9L810.8 463.6L810.1 458.1L807.6 455.4L805.7 453.4L801.2 450.2L799.3 448.7L795.7 449.4L793.0 450.2L789.9 452.0L786.9 452.7L783.4 454.2L781.5 455.3L784.3 454.5L786.5 451.4L789.8 450.2L793.2 448.6L796.1 447.1L796.1 444.0L792.7 442.0L789.8 440.8L786.4 438.3L783.4 436.1L780.3 434.3L777.1 432.2L772.6 430.6L771.9 427.2L772.0 422.8L770.7 418.8L767.6 415.0L764.1 412.1L761.2 408.7L758.7 406.0L757.5 402.8L755.5 400.8L751.7 404.8L750.1 408.1L748.5 411.0L745.5 412.0L742.1 413.4L738.6 415.0L733.9 415.7L730.1 416.5L727.1 413.9L723.1 411.8L721.8 407.1L723.1 403.2L722.3 399.8L721.2 396.9L716.7 395.0L712.8 394.2L710.4 392.2L707.2 389.9L703.5 387.7L700.0 386.7L696.4 385.2L693.0 385.1L689.2 385.5L685.0 385.2L681.9 384.7L678.4 383.4L674.9 384.4L672.2 383.2L668.4 384.4L668.4 387.5L668.7 391.7L669.1 395.4L671.0 399.3L673.5 403.2L672.2 408.7L669.1 410.3L665.9 412.6L668.4 415.4L672.2 420.4L676.7 424.4L677.5 427.1L678.3 430.6L675.4 435.3L673.5 437.5L671.0 440.0L667.6 442.4L664.0 444.0L658.9 445.1L662.1 450.2L662.0 454.7L663.3 458.1L664.0 463.6L665.4 467.0L665.9 469.8L660.8 473.0L657.6 472.6L653.2 471.4L651.9 465.9L646.8 463.6L644.2 461.1L642.4 458.1L643.0 454.5L642.4 450.2L642.0 446.4L641.7 441.6L638.1 441.0L634.1 440.4L629.1 440.7L624.6 440.0L621.2 438.2L618.1 437.1L614.8 437.0L611.9 435.0L609.3 433.0L605.9 431.7L602.4 429.9L599.2 428.8L595.6 427.9L592.8 426.7L588.7 426.7L585.4 426.0L582.1 427.5L578.2 426.7L577.2 424.0L575.7 420.4L573.8 415.7L570.3 414.0L566.1 412.8L564.0 410.0L562.3 407.1L562.3 403.2L563.6 396.9L567.4 394.6L570.8 390.7L573.8 387.5L576.6 383.9L579.5 381.2L583.4 379.5L586.5 376.5L588.4 375.0L591.7 373.2L596.0 371.8L598.7 370.9L602.3 371.5L605.5 370.3L608.9 368.8L611.9 367.9L613.7 363.6L615.1 360.1L617.0 356.2L617.0 352.2M673.2 805.8L676.4 810.9L677.0 806.2L679.2 803.8L683.7 799.9L684.1 796.2L684.6 792.8L686.9 790.3L689.1 787.0L693.2 785.0L698.9 785.0L701.9 783.1L705.3 780.3L709.1 776.0L712.9 779.5L711.6 781.1L707.5 782.7L709.7 787.4L709.7 790.5L709.3 793.7L707.2 796.8L710.4 802.3L713.2 799.9L712.9 795.2L712.4 791.7L710.7 788.9L713.5 786.6L718.6 784.2L718.6 782.7L720.5 778.3L721.2 783.4L724.3 783.4L730.1 785.8L731.3 790.5L735.6 790.6L739.0 790.5L744.7 790.5L748.3 792.3L751.0 794.4L753.6 793.6L756.8 791.3L759.3 790.1L765.6 789.7L771.4 789.7L767.6 790.9L765.0 792.1L768.8 795.2L773.3 796.4L777.7 799.9L778.4 806.2L784.1 808.5L786.9 810.1L789.8 811.7L793.0 816.4L794.9 820.3L797.8 823.3L801.2 827.0L804.6 827.8L808.9 827.7L814.6 827.0L818.2 827.2L821.6 828.9L825.3 831.1L828.6 832.8L832.4 835.2L836.2 839.1L839.4 842.2L839.5 846.7L840.6 850.1L842.8 854.0L843.8 857.9L847.0 860.3L847.6 865.8L845.8 868.3L843.8 871.2L839.4 875.2L843.2 878.3L846.2 876.8L850.2 875.2M381.2 489.4L560.1 489.4L560.1 486.5L562.3 487.1L563.0 491.4L570.6 493.0L577.6 494.9L583.9 496.7L588.4 496.5L595.4 497.3M268.8 327.9L268.8 400.8L280.2 402.4L291.0 411.8L303.7 404.8L317.1 415.7L327.2 429.9L338.0 433.8L337.4 443.2M376.8 511.0L381.9 511.8L384.4 515.7L394.6 515.7L408.6 513.4L421.8 513.0M421.0 489.4L421.0 509.8L421.8 513.0L424.4 516.9L422.2 521.6L420.0 525.5L421.1 530.2L421.1 544.3M375.5 544.3L459.1 544.3M402.2 544.3L402.2 567.8L436.3 599.2L437.8 604.7L435.9 611.7L435.9 617.1M440.1 544.3L440.1 590.2L435.9 590.6L436.3 599.2M420.6 618.6L435.7 617.1L435.2 618.8L458.9 628.0L477.2 628.0L477.2 624.4L488.0 624.4L497.5 633.3L500.7 641.5L508.9 646.6L512.1 640.8L520.4 640.2L524.8 645.5L527.4 651.7L532.5 658.0L535.0 666.6L540.7 669.4L547.4 670.2M440.1 583.5L563.5 583.5M471.8 552.2L471.8 628.0M459.1 520.8L503.5 520.8M459.1 552.2L516.3 552.2M459.1 524.7L459.1 552.2M427.3 489.4L427.3 497.7L429.5 501.6L435.2 505.1L438.1 507.9L437.8 516.5L441.0 516.1L443.8 521.2L447.9 525.1L456.2 524.3L459.1 524.7L459.1 520.8M503.5 489.4L503.5 552.2M503.5 513.4L551.1 513.4M503.5 536.5L538.8 536.5L542.6 538.0L547.1 537.7L551.5 540.4M516.3 552.2L516.3 583.5M516.3 560.0L559.1 560.0M563.5 567.1L563.5 587.4L564.5 596.1L564.5 609.9M510.2 583.5L510.2 587.4L529.3 587.4L529.3 602.6L534.4 604.7L541.4 606.3L547.1 608.2L552.2 609.0L559.1 608.0L564.5 609.9L567.1 610.6L567.1 622.7L569.0 628.2L569.3 634.5L568.4 640.8M509.9 587.4L509.9 622.7L487.2 622.7L488.0 624.4M567.1 614.9L585.5 614.9M563.5 587.4L591.9 587.4L590.6 591.4L594.7 591.4M579.5 507.1L578.2 512.2L575.3 516.1L575.3 522.8L580.7 527.1L585.2 532.6L585.8 537.3L588.7 540.4L591.5 545.9L585.8 550.6L583.9 556.9L583.3 558.4L583.9 560.8L588.4 567.8L591.5 569.4L591.5 571.0L590.6 574.1L596.0 581.2L598.2 583.5L596.6 587.4L594.7 591.4L592.5 598.0L589.0 601.6L585.8 607.4L585.5 614.9L587.1 620.4L583.3 625.9L582.7 630.6L594.4 630.6L594.1 633.7L595.7 636.8M551.8 532.6L585.2 532.6M556.3 555.3L583.9 556.9M546.9 489.4L549.6 505.1L551.1 513.4L551.8 518.4L551.8 532.6L551.5 540.4L554.1 546.7L555.3 550.6L556.0 555.3L559.1 560.0L561.7 561.6L563.5 567.1M588.7 540.4L606.8 540.4M608.5 546.2L608.5 565.1L608.1 570.2L605.2 577.2M625.7 546.7L625.7 567.1M610.6 546.2L625.7 546.2L634.4 546.5M598.2 583.5L602.4 582.7L605.2 577.2L611.9 576.5L618.2 575.7L619.8 573.7L622.0 570.2L625.7 567.1L627.8 567.1L632.9 570.6L639.8 572.5L644.9 567.8L646.8 564.7L651.0 562.4L652.5 555.3L653.1 555.0M653.1 542.0L653.1 562.2L683.0 562.2L683.7 572.2L687.8 572.2M657.9 542.4L657.9 544.3L685.9 544.3L690.0 549.4L687.5 552.9L686.9 555.3L689.7 558.4L687.5 560.8L685.0 563.1M690.0 549.4L695.1 552.2M696.7 552.2L697.7 543.9L698.9 538.4L698.9 531.8L698.6 520.8M690.0 520.8L710.4 520.8L714.8 517.7L718.0 513.7L719.9 507.5L725.0 501.6L726.9 503.6L730.7 502.4L733.9 504.6L733.9 513.7L736.1 516.1L736.1 518.4L739.0 521.6M713.2 518.4L713.9 531.8L715.1 535.7M710.4 520.8L706.9 528.6L704.3 536.5L704.3 538.6M698.9 538.6L711.6 538.8L714.8 537.5M697.7 544.1L708.5 544.2L708.5 549.8M708.5 544.2L711.1 544.2L711.1 545.1L712.6 548.2M678.6 527.1L686.2 522.0L690.0 520.8L697.0 517.3L704.0 510.6L712.3 506.7M682.4 587.0L645.6 586.7L643.7 590.6L639.8 591.4L636.7 593.3L630.9 596.1L629.0 599.2M596.6 587.4L605.2 587.4L605.2 586.3L632.9 586.7L641.7 581.2L643.8 579.3L648.7 581.6L654.5 579.6L658.6 571.4L663.5 569.7L666.8 564.7L670.8 565.3L672.2 567.1L675.1 569.0L673.5 572.5L676.1 573.7L679.9 576.1M639.8 572.5L643.8 579.3M659.7 562.2L659.7 566.3L666.5 563.0L670.8 565.3M590.9 599.2L636.7 599.2M604.3 599.2L602.7 623.5L603.0 636.4M620.8 599.2L623.3 615.7L624.6 620.4L624.6 630.6L625.2 632.9L642.4 634.1L643.3 635.7L646.8 632.9M608.1 630.6L624.6 630.6M608.1 630.6L609.0 635.7M636.7 599.2L635.1 601.6L639.8 607.0L644.0 611.4L647.5 618.0L650.6 622.3M636.7 599.2L641.1 597.6L649.7 598.0L651.3 600.6L658.5 600.8L665.6 608.1M578.8 759.5L578.8 754.4L581.7 747.8L590.0 747.4L583.9 738.4L586.5 738.4L586.5 733.9L598.2 733.9L598.2 748.9L599.8 748.9M598.2 733.9L600.1 733.3L603.6 728.6M592.2 765.8L597.0 760.7L598.2 758.4L602.4 764.2L607.1 765.4L606.8 768.5M598.2 758.4L597.9 755.2L603.6 750.5M610.0 772.1L613.8 769.3L617.6 764.2L624.6 759.1L630.9 758.0L636.0 756.0M620.1 786.6L625.2 787.8L632.9 788.9M637.9 810.5L638.3 803.8L640.2 798.7M669.7 817.2L673.2 811.7L673.2 805.8M711.3 781.1L704.0 786.6L700.8 797.6L704.7 807.7L704.3 815.6L707.8 818.7L719.3 818.7L723.7 825.8L735.8 825.0L733.9 831.3L733.6 838.3L737.1 846.9L733.6 851.6L737.7 854.8L739.9 864.2M739.9 864.2L738.3 860.3L732.6 859.9L720.9 860.3L725.6 868.5L719.6 869.3L719.6 875.2L723.7 881.4L720.2 906.5M720.2 906.5L718.0 903.4L715.5 903.4L719.6 894.8L713.5 891.6L705.9 892.8L701.5 892.8L699.6 887.7L693.2 881.4L686.2 874.4M686.2 874.4L679.9 870.5L672.9 870.5L669.7 867.3L664.0 862.2M686.2 874.4L684.3 885.8L677.3 894.0L667.8 900.3L666.5 905.0L664.6 909.7L659.5 912.8L655.7 907.3L653.5 904.6L654.5 900.3M739.9 864.2L743.4 867.7L748.5 866.2L750.4 865.0L757.4 860.7L758.0 858.3L762.2 856.4L758.0 854.0L756.8 845.4L753.6 840.3L764.4 844.6L765.6 842.2L771.4 841.1L777.4 837.9L779.0 832.8M779.0 832.8L774.5 827.0L776.5 821.1L781.5 817.9L779.0 814.4L783.4 810.5L784.4 808.5M779.0 832.8L782.8 832.8L783.8 838.3L786.3 842.6L783.8 853.2L785.0 858.7L791.1 864.2L800.6 858.3L805.7 858.3M801.2 827.0L800.6 832.0L796.8 836.0L796.5 842.2L798.7 847.3L800.6 847.3L805.7 858.3M805.7 858.3L809.5 859.1L809.5 854.0L815.2 853.6L817.8 855.2M821.6 828.9L818.7 834.4L821.6 845.4L817.8 855.2L822.8 855.2L828.2 856.4L830.8 853.2L836.5 841.8L836.5 840.7M595.4 497.3L603.0 494.9L615.1 500.4L625.2 505.9L627.8 509.0M630.3 510.6L633.5 512.2L634.1 514.5L640.5 518.4L643.0 531.8L641.0 536.5L640.5 539.6L636.7 542.4L636.7 544.3L639.2 546.7L648.1 542.8L662.7 538.0L662.4 534.5L662.1 533.3L664.6 531.5L676.7 531.5L679.2 527.9M380.6 494.1L376.9 493.8L373.6 493.0L369.8 491.4L364.7 488.3L359.6 484.7L355.4 482.6L352.0 480.8L348.8 475.7L355.2 475.3L360.1 476.7L364.1 478.5L368.8 481.6L371.7 485.5L377.1 487.9L380.0 491.8L380.6 494.1M332.3 466.3L329.8 461.2L327.2 456.1L327.9 450.2L323.3 449.5L319.6 449.1L320.2 453.4L322.8 456.5L326.0 461.2L329.9 463.4L332.3 466.3M315.8 432.2L319.6 434.8L322.1 437.7L323.8 441.1L326.0 444.4L323.2 443.8L319.6 443.2L316.4 439.3L314.5 435.3L315.8 432.2M298.0 418.1L301.1 417.2L304.3 417.3L305.8 420.1L307.5 423.6L307.4 427.6L308.8 432.2L306.1 430.5L304.3 427.5L301.2 422.8L298.0 418.1M307.5 416.5L312.6 419.7L313.2 425.2L309.4 424.4L307.5 419.7L307.5 416.5M313.2 426.7L316.6 426.8L319.6 427.5L320.9 430.6L315.2 431.4L313.2 426.7M326.6 435.3L332.3 437.7L331.0 440.8L327.2 440.0L326.6 435.3M336.8 451.0L341.2 453.4L343.7 456.5L339.3 455.7L336.8 451.0M343.1 458.9L347.6 461.2L348.2 464.4L344.4 462.0L343.1 458.9M350.1 465.9L353.9 466.7M352.0 470.6L355.8 472.2M334.8 446.3L338.7 448.7M358.4 474.5L362.8 475.3M368.5 479.2L371.1 480.0M182.4 422.4L186.3 420.4L190.0 419.7L196.3 419.3L198.2 422.0L195.6 423.8L193.2 425.9L190.3 427.2L186.8 428.7L182.4 426.7L182.4 422.4M191.2 417.3L197.0 415.4L198.9 417.3L193.8 418.9L191.2 417.3M116.9 446.3L119.8 443.9L122.6 442.8L127.1 444.4L123.3 447.1L120.1 446.5L116.9 446.3M99.7 455.7L102.0 453.5L104.8 450.6L108.6 451.0L105.5 454.6L99.7 455.7M90.9 459.3L93.8 456.5L95.9 454.2L98.5 455.7L94.0 458.9L90.9 459.3M83.2 460.4L86.4 458.9M76.9 462.0L80.7 461.2M68.0 463.6L69.9 462.8M55.3 465.1L59.7 463.6M51.5 465.9L53.4 465.5M111.2 448.7L113.7 449.5M146.1 442.4L149.3 441.2M143.0 440.0L144.9 440.8M101.0 401.6L105.1 400.6L109.3 400.5L112.5 403.2L108.0 404.8L102.3 403.6L101.0 401.6M73.1 376.5L76.7 375.8L79.6 374.1L82.6 374.2L85.5 375.9L88.6 376.2L92.1 377.3L89.5 378.7L85.8 379.7L82.1 378.9L77.9 378.0L74.3 377.3L73.1 376.5M64.8 399.3L69.9 400.5L66.1 400.8L64.8 399.3M82.0 425.2L83.9 425.5M86.4 429.9L87.7 430.2M49.6 365.6L52.3 366.3L55.6 367.3L59.3 367.5L62.3 368.7L65.9 368.1L68.6 367.9L65.4 364.0L70.5 360.9L74.8 361.3L78.1 360.1L81.3 356.9L85.8 355.4L81.7 354.1L78.1 351.5L75.3 350.5L72.3 349.3L68.6 348.3L65.5 347.7L62.0 347.3L59.1 346.8L55.4 346.7L52.6 344.8L49.6 345.2M49.6 360.1L52.8 359.8L55.9 357.7L59.0 356.0L62.6 355.4L65.4 354.6L61.1 353.3L57.2 353.0L53.4 353.6L49.6 353.8M174.1 714.8L178.5 717.2L181.1 720.7L176.6 724.6L175.4 725.4L173.6 722.1L173.1 719.2L174.1 714.8M169.0 709.4L173.5 710.1L173.5 712.1L170.6 712.1L169.0 709.4M159.2 704.6L162.7 704.3L162.7 706.6L160.1 706.6L159.2 704.6M149.6 700.3L152.5 699.6L152.5 701.9L149.9 701.9L149.6 700.3M165.2 707.8L168.7 707.8M167.1 710.1L168.1 710.9M146.8 701.9L147.4 702.3M624.9 702.3L627.8 698.6L630.9 695.6L634.5 694.3L637.3 693.3L641.1 692.1L646.8 692.9L653.2 693.3L656.4 694.1L660.0 695.9L662.7 698.0L665.7 699.3L669.1 699.6L671.3 701.3L674.2 703.5L678.6 707.0L683.7 708.2L688.1 711.3L690.9 712.2L693.5 714.8L692.6 716.4L686.9 717.6L682.7 717.2L679.1 716.7L675.4 717.6L671.0 718.0L674.2 712.9L669.7 711.3L665.9 709.0L662.7 704.6L659.2 703.9L656.4 703.1L653.2 700.7L647.5 699.9L643.7 698.4L641.7 696.0L636.7 699.6L634.8 699.6L630.9 701.9L627.8 702.7L624.9 702.3M636.3 701.9L639.8 701.9L640.2 704.6L637.3 705.4L636.3 701.9M666.8 729.7L669.7 728.6L672.5 729.7L676.1 729.3L680.5 732.5L676.1 733.7L671.0 733.7L667.2 730.9L666.8 729.7M691.6 729.7L695.8 731.7L700.8 730.9L705.3 730.9L709.1 732.5L711.0 735.6L713.5 730.9L716.8 729.8L719.9 729.3L726.3 729.3L730.4 730.9L730.4 727.8L726.3 724.6L725.0 722.3L720.5 719.5L715.5 718.4L711.8 717.9L709.1 717.6L704.7 718.4L698.3 718.0L702.1 722.3L702.1 724.6L705.0 728.2L700.8 729.0L696.9 728.4L693.8 727.4L691.6 729.7M708.8 719.2L709.1 724.6L707.5 727.8L708.8 732.1M737.7 729.0L740.5 729.2L744.0 729.7L747.5 729.7L747.9 730.9L745.3 732.9L741.3 733.3L737.7 732.9L737.7 729.0M667.8 676.8L670.3 680.0L671.6 686.2L669.1 683.9L667.2 680.0L667.8 676.8M663.3 664.7L669.7 664.3M672.2 662.7L675.1 666.6L674.2 670.5M677.3 674.5L680.5 678.4L680.5 680.3M683.7 680.7L686.2 684.3M686.9 689.4L689.1 692.5M691.3 684.7L691.6 685.8M672.2 677.2L673.5 677.6M696.4 708.2L700.8 706.6M693.2 696.4L695.1 695.6M700.8 698.4L702.1 698.8M705.9 702.7L710.4 703.1M681.8 689.0L683.7 689.4M752.3 729.7L753.6 729.9M752.6 734.4L754.2 734.4M763.7 731.7L764.4 732.1M765.3 737.6L766.0 738.0M771.7 739.5L772.6 739.9M772.0 745.8L774.2 744.6L775.8 746.2L773.3 748.2M774.2 751.3L775.5 753.6M775.8 757.2L778.0 759.9M776.8 763.4L777.7 765.8M775.5 768.9L776.1 770.5M785.7 769.3L786.9 770.9M772.3 778.0L773.3 779.5M778.0 785.0L779.9 785.4M771.4 789.7L777.1 788.5L777.4 794.0L771.4 794.8L773.9 792.8L771.4 789.7M755.5 787.4L759.3 786.2L759.3 788.1L755.5 787.4M719.6 774.8L720.9 776.2M725.3 776.8L727.8 779.1M730.1 777.2L731.3 779.1M787.9 500.4L789.8 494.9L793.6 492.6L794.6 488.8L796.1 485.5L797.8 482.0L799.0 478.8L800.6 476.1L804.4 471.4L808.4 470.8L812.0 469.1L809.5 473.8L807.8 476.1L806.5 479.1L803.8 481.6L804.4 484.0L808.9 480.8L812.0 482.4L811.4 485.5L814.8 486.2L818.4 485.5L824.1 487.1L824.7 491.8L827.9 491.8L824.9 494.0L822.2 495.7L824.1 499.6L829.2 496.5L830.1 500.8L828.9 504.8L827.6 507.9L824.1 507.9L820.9 506.3L822.2 502.0L821.6 499.2L818.6 501.3L815.8 502.8L812.7 505.9L809.5 505.5L812.0 501.2L809.1 500.7L805.7 500.4L799.3 500.4L793.0 500.0L787.9 500.4M755.5 508.3L758.0 504.7L760.5 507.6L764.4 509.4L770.7 509.4L767.6 513.0L762.5 511.8L759.3 510.2L755.5 508.3M773.9 515.3L774.5 511.4L776.8 508.6L779.6 505.1L781.5 508.3L784.7 513.0L783.8 513.7L780.9 514.8L777.7 516.5L773.9 515.3M754.8 482.4L760.0 482.7L764.4 482.8L767.9 484.3L769.4 487.3L772.6 488.7L767.6 488.7L764.4 487.8L760.6 486.7L757.8 485.1L754.8 482.4M694.5 555.3L697.2 555.0L700.8 554.5L704.2 553.4L707.8 551.8L705.3 551.0L700.8 552.6L696.4 553.3L694.5 555.3M714.8 548.6L717.0 549.4M718.3 549.8L720.2 550.0M582.7 876.0L584.6 872.8L585.8 877.5L584.6 881.4L583.3 879.1M587.7 876.0L589.6 875.6M589.6 877.9L591.5 879.5L590.3 877.5M595.4 879.5L597.6 880.7M589.6 883.8L590.9 883.4M587.7 870.9L588.4 871.2M594.7 884.2L595.4 884.6M151.9 843.0L152.5 843.4M163.9 858.7L165.8 859.9L164.6 859.5M73.4 895.6L74.0 895.9M83.9 901.8L84.5 902.0M180.1 905.0L180.4 905.4M459.5 726.2L460.0 726.8M435.6 729.7L435.9 730.1M134.7 827.3L135.3 827.5M487.3 703.5L488.0 704.3M489.2 705.8L489.9 706.6M487.7 703.9L488.6 705.0M579.5 507.1L582.6 505.1L586.5 502.8L590.3 499.6L595.4 497.3L597.9 494.1L603.6 491.8L603.9 489.8L607.4 491.0L611.9 491.4L615.7 491.8L618.9 497.3L625.2 497.7L626.5 502.8L627.1 505.9L627.8 509.0L624.6 507.1L621.5 507.6L618.2 507.9L613.5 508.5L609.3 509.0L606.2 505.9L605.5 501.6L606.8 501.6L601.7 503.6L599.2 505.9L595.7 507.4L592.8 507.9L587.7 505.9L585.2 506.3L579.5 507.1M608.1 545.5L610.0 547.3L613.2 545.9L616.3 541.2L617.0 536.5L615.1 531.0L615.7 527.1L616.6 523.2L620.8 520.8L621.4 522.4L622.0 518.8L624.6 515.7L626.2 514.5L621.4 512.6L616.3 513.7L613.8 514.1L611.9 514.9L608.1 520.0L605.5 524.3L608.7 522.0L611.9 518.4L609.3 523.9L608.4 527.9L606.8 533.3L606.2 536.5L606.8 540.4L608.1 545.5M626.2 514.5L630.3 516.5L634.8 520.4L635.4 526.3L631.6 531.4L634.8 529.0L637.9 528.2L640.5 531.8L641.0 536.5L645.6 533.3L645.6 530.6L647.5 525.5L648.1 523.2L645.6 518.8L650.0 522.4L650.6 523.9L655.7 524.7L657.0 522.4L655.7 518.1L652.9 515.5L650.6 513.7L645.6 512.6L640.5 511.8L636.9 512.1L634.1 511.0L630.3 510.6L627.8 509.0L630.3 513.0L626.2 514.5M637.3 513.7L643.7 513.4L645.6 516.1L640.5 515.7L637.3 513.7M634.4 546.5L639.2 548.2L645.6 548.2L649.4 546.1L653.2 544.7L655.7 543.1L659.9 540.1L663.3 537.7L659.5 537.7L655.1 538.0L655.7 540.0L650.0 539.2L647.0 541.2L644.3 542.4L640.5 544.7L636.7 544.3L636.3 542.4L640.5 539.6L641.0 536.5L638.4 539.5L636.8 542.8L634.4 546.5M636.7 543.9L634.4 546.5L636.7 543.9M657.6 534.1L660.2 531.4L664.5 529.8L669.1 529.0L675.4 529.4L678.6 527.1L680.5 531.8L678.6 533.0L675.5 533.7L671.6 534.5L667.4 533.8L662.4 534.5L657.6 534.1M380.0 362.4L383.6 363.1L386.8 362.7L389.5 364.0L393.1 362.3L395.8 359.3L398.6 360.0L401.9 360.4L405.4 361.6L408.5 361.2L412.0 360.6L414.9 360.1L416.2 353.8L412.2 352.7L408.6 353.5L405.4 352.2L405.4 348.3L400.8 348.4L395.8 349.1L392.8 350.0L390.0 352.6L386.3 353.8L381.5 353.7L376.8 353.8L373.3 355.2L370.4 356.2L373.7 358.9L377.1 360.0L380.0 362.4M420.0 395.4L424.0 395.1L427.1 396.1L430.8 396.1L433.6 395.5L436.8 395.0L440.3 393.8L443.1 391.7L447.0 390.6L449.9 389.1L453.7 388.2L456.1 385.7L459.4 385.2L462.8 384.2L466.2 383.0L470.2 381.6L466.7 381.2L462.6 381.2L459.4 382.6L456.0 383.9L453.0 384.4L449.3 384.1L446.7 385.9L443.5 386.0L438.4 383.6L435.0 384.6L430.8 385.2L427.6 389.1L422.5 392.2L420.0 395.4M458.1 413.4L462.4 412.0L465.7 410.6L469.2 409.4L472.2 410.6L475.3 409.5L478.1 409.1L481.2 408.4L484.7 408.4L488.0 407.9L491.2 409.5L487.7 409.9L484.3 409.8L481.5 411.5L478.4 411.0L475.4 411.3L472.4 411.5L468.9 412.6L465.7 413.4L461.6 413.0L458.1 413.4M510.9 430.6L516.6 431.4L519.7 426.7L518.8 422.7L517.8 419.7L513.4 418.9L512.8 425.2L510.9 430.6M549.0 478.5L552.8 476.1L551.5 469.8L548.3 465.9L547.1 462.7L546.4 459.6L543.3 454.2L539.7 452.8L536.9 451.8L534.4 456.5L539.4 459.6L540.1 465.9L543.4 467.8L545.8 469.8L548.3 474.5L549.0 478.5M530.6 468.3L532.5 463.6L529.9 461.1L528.0 458.1L524.8 457.3L526.7 462.8L528.4 465.2L530.6 468.3M542.0 480.0L539.4 476.9L536.9 473.0L533.7 469.1L536.3 468.3L538.8 472.2L542.0 476.1L542.0 480.0M599.8 485.5L604.3 486.3L605.5 481.6L602.4 478.5L598.5 481.6L599.8 485.5M560.4 489.4L564.9 490.2L567.4 487.1L564.2 484.0L561.0 485.5L560.4 489.4M618.6 778.7L621.4 779.9L623.5 783.5L625.2 786.2L622.7 786.6L619.5 783.4L618.6 778.7M447.3 547.5L451.8 549.0L453.0 553.7L449.9 554.5L447.9 551.4L447.3 547.5M649.4 661.1L651.9 660.4L652.5 663.1L651.0 664.3L649.4 663.5L649.4 661.1M698.6 520.8L698.6 525.5L698.3 531.0M692.6 476.9L697.7 476.1L700.8 471.4L697.0 472.2L694.9 474.9L692.6 476.9M174.7 407.9L177.7 405.9L181.1 404.8L186.8 405.6L181.7 407.9L178.6 407.9L174.7 407.9M514.7 380.5L518.8 380.4L522.9 381.2L525.5 376.5L522.7 375.9L519.1 375.0L515.3 377.3L514.7 380.5M548.3 371.1L553.5 371.2L557.9 371.1L563.6 369.5L560.0 369.9L557.2 368.7L553.4 368.2L549.6 369.1L548.3 371.1M466.4 370.3L472.1 367.9L476.5 369.5M478.4 374.2L483.5 373.0M497.5 383.6L502.6 382.8M504.5 393.8L509.6 394.2M514.7 399.3L519.1 398.5M529.9 390.7L535.0 389.5M540.7 383.6L545.2 382.8M524.8 402.4L528.0 400.8M505.1 416.5L508.9 415.7L510.9 417.3M486.7 423.6L491.2 422.8M476.5 431.4L480.4 430.6M495.6 440.8L500.1 440.0M466.4 442.4L470.2 441.6M453.7 445.5L456.8 444.8M431.4 439.3L437.8 438.9M413.0 430.6L416.8 429.9M373.0 447.1L375.5 444.8M364.7 450.2L369.2 449.5M379.3 426.7L381.6 429.6L384.4 433.0L388.9 434.6M525.5 439.3L530.6 437.7M536.9 436.1L542.0 434.6M548.3 436.9L553.4 434.6M562.3 447.1L567.4 445.5M568.7 456.5L572.5 455.7M529.9 447.1L533.7 445.5M578.2 479.2L583.3 478.5M588.4 472.2L592.2 471.8M609.3 480.8L612.5 480.0M657.6 492.6L660.8 491.8M658.9 505.1L660.8 502.8M657.6 510.6L660.2 510.6M705.3 492.6L708.5 492.2L707.8 493.4M691.3 451.8L697.0 450.2M676.7 456.5L682.4 454.9M712.3 444.0L717.4 442.4M722.4 434.6L726.3 432.2M697.7 432.2L700.8 430.6M691.3 418.9L695.8 417.3M718.0 458.1L721.2 454.2M743.4 444.0L746.6 442.4M754.8 451.0L758.7 450.2M729.4 475.3L728.2 470.6M688.1 396.9L693.2 395.4M678.6 407.1L682.4 405.6M487.3 630.6L489.9 631.3M528.0 525.5L526.1 520.8L527.4 516.9M519.7 500.4L516.9 499.7L513.4 498.8L508.3 497.3M488.6 498.1L485.4 500.4M439.7 498.1L439.1 499.6M424.4 495.7L425.1 497.3M402.2 566.3L402.2 568.2M404.7 559.2L405.4 560.8M454.3 557.6L454.9 559.2M536.3 535.7L532.5 533.3M542.6 537.7L538.8 538.4M533.1 528.6L529.9 526.3M611.9 375.0L614.8 375.6L618.0 377.6L621.4 378.1L626.5 377.6L630.9 377.3L634.3 375.5L637.7 375.9L640.5 374.2L643.4 373.3L646.4 372.6L650.0 371.8L647.0 369.8L643.7 367.1L640.5 365.3L637.1 363.4L634.1 362.4L630.3 362.0L627.8 360.1L624.7 358.5L621.4 357.7L619.7 360.4L618.2 364.0L616.2 367.0L613.2 370.3L611.9 375.0M637.3 380.5L640.8 381.9L643.7 382.8L648.8 382.0L653.2 382.8L650.4 380.6L646.8 379.7L642.4 380.0L637.3 380.5M655.1 384.4L658.9 387.5L660.2 389.9L656.4 389.1L655.1 384.4M656.4 429.9L660.8 433.0M657.6 433.8L661.4 436.1M662.7 431.4L664.0 434.6M644.9 457.3L650.0 457.7L652.5 460.4L648.1 460.0L644.9 457.3M672.2 344.4L675.0 345.5L678.6 346.8L681.8 342.0L678.6 338.1L673.5 339.7L672.2 344.4M719.9 396.1L723.1 396.5M752.9 391.4L754.2 392.2M750.4 389.9L752.3 390.3M749.8 391.4L752.9 392.6L753.6 390.7L749.8 391.4M365.0 309.2L367.6 306.4L369.1 303.4L371.7 301.7L375.1 299.3L377.5 295.8L375.3 293.8L372.5 291.3L375.7 290.6L379.6 290.5L383.3 290.0L387.0 290.3L390.4 291.1L393.6 290.0L396.5 291.3L399.5 291.9L403.3 291.7L407.5 292.5L410.7 291.6L414.8 291.8L418.3 291.3L422.1 292.7L425.2 294.6L428.5 295.0L431.7 296.7L428.8 298.2L425.0 299.2L421.3 299.3L417.5 301.8L413.3 302.5L409.2 306.7L406.1 309.0L403.3 310.8L399.6 312.0L396.3 312.7L393.4 313.8L390.0 315.0L386.7 316.2L382.5 315.8L379.4 313.3L375.0 311.7L371.7 310.8L367.9 310.3L365.0 309.2M500.0 301.7L497.7 299.6L493.7 299.3L490.8 297.2L488.3 295.8L484.6 296.0L481.7 297.1L478.3 297.5L479.8 300.9L481.7 305.0L480.6 307.8L478.3 310.8L476.9 306.4L474.2 302.5L469.3 302.2L465.0 301.7L462.2 304.1L458.9 304.6L456.7 306.7L453.3 304.2L450.2 303.7L447.1 303.1L443.3 302.5L440.4 304.0L436.7 305.0L440.8 301.7L436.7 299.2L432.7 299.2L428.5 299.3L425.0 300.0L421.0 302.1L417.1 301.9L413.3 303.3L410.8 306.7L408.3 310.8L410.8 312.2L413.8 313.9L416.7 315.8L420.2 315.1L423.9 315.5L426.9 313.6L429.9 313.7L433.3 313.3L430.2 313.2L426.7 314.5L422.9 314.8L419.0 315.8L415.8 315.8L416.7 319.2L420.9 320.5L424.6 320.2L428.3 320.8L431.7 320.0L435.1 321.2L438.9 320.3L442.9 320.2L446.8 319.8L450.0 320.0L453.6 321.6L456.7 322.5L453.3 322.5L450.5 324.2L447.0 323.3L443.3 324.2L440.1 323.9L436.4 324.4L432.9 324.3L429.8 324.3L426.8 323.4L423.8 324.8L420.0 324.2L418.3 326.7L421.4 327.8L424.8 330.0L428.3 330.8L433.0 331.9L436.7 333.3L441.7 334.2L443.3 338.3M350.0 320.0L353.6 321.0L356.7 322.5L360.0 326.7L364.6 328.0L368.3 329.2L371.7 324.2L375.0 325.0L376.7 329.2L380.2 327.5L383.3 326.7L386.6 327.2L389.6 326.7L393.3 326.7L397.0 326.9L400.8 329.5L405.0 330.0L409.2 331.1L413.2 332.2L416.7 333.3L421.1 333.6L425.0 334.2L429.0 335.1L433.3 335.8L438.3 337.5L433.3 340.8L436.1 341.8L439.8 341.0L443.3 342.5L447.2 342.6L451.3 342.4L455.0 341.5L458.3 341.7L462.3 340.5L465.8 339.4L470.0 338.3L473.2 337.5L476.7 335.0L479.2 333.1L482.6 331.8L486.1 331.1L488.3 329.2L492.1 330.6L495.0 332.5L500.0 335.0M512.5 301.7L515.8 300.5L518.4 297.1L521.7 295.8L525.9 294.5L529.9 294.0L533.3 292.5L537.2 292.9L540.7 293.6L545.0 294.2L547.6 296.5L550.0 300.0L550.1 303.4L551.7 306.7L548.2 309.4L545.0 311.7L541.4 313.2L538.3 313.3L535.1 311.0L531.7 310.0L528.5 309.0L525.4 307.9L521.7 306.7L518.5 306.3L515.0 305.0L512.5 301.7M557.5 295.8L560.2 294.9L563.4 294.2L566.7 292.5L569.9 292.1L573.6 292.0L577.1 291.4L580.0 291.7L583.7 293.3L587.1 293.0L590.8 294.2L586.7 298.3L584.0 300.7L580.0 302.5L576.1 302.2L571.7 303.3L567.5 304.3L563.3 305.0L560.1 303.1L557.5 301.7L557.5 295.8M563.3 305.8L560.1 307.9L558.0 310.6L555.0 311.7L552.3 314.6L550.8 318.3L555.0 322.5L556.5 319.1L558.3 315.0L562.0 313.2L566.7 311.7L571.7 314.2L575.0 318.3L577.4 320.8L580.0 323.3L583.5 326.0L586.7 328.3L591.7 330.0L590.7 334.6L590.8 338.3L593.3 334.3L596.7 331.7L601.7 333.3L603.9 336.7L606.7 340.0L607.7 343.2L610.0 346.7L612.8 345.0L616.7 344.2L618.4 341.1L620.1 337.7L621.7 335.0L623.1 331.4L623.3 328.3M650.0 296.7L646.3 295.9L642.9 296.3L640.0 295.0L636.7 294.3L633.7 295.0L630.4 295.4L626.7 295.0L623.4 295.8L619.7 296.7L616.7 297.5L615.0 301.7L617.5 304.8L620.0 306.7L624.0 308.7L626.7 311.7L623.3 316.7L620.2 316.7L617.1 316.7L613.3 317.5L610.2 317.5L606.6 316.3L603.3 315.8L598.8 313.7L595.0 311.7L594.6 307.8L593.3 305.0L596.4 301.3L600.0 298.3L602.9 297.0L606.5 297.1L610.0 295.0L613.1 294.4L616.9 294.5L620.4 294.3L623.3 294.2M623.3 328.3L619.4 326.1L616.7 323.3L619.9 324.0L623.3 324.2L626.3 324.4L629.6 325.1L633.3 325.0L637.5 325.2L641.7 326.7L646.2 325.9L650.0 325.0M500.0 311.7L501.7 314.6L505.0 316.7L508.7 317.2L512.1 318.9L515.0 320.0L518.6 320.8L521.6 320.4L525.0 320.8L523.3 326.7L520.4 326.7L517.1 327.1L513.3 326.7L508.3 330.0L512.1 332.3L516.7 333.3L513.1 334.4L510.0 335.0L506.1 335.0L503.2 333.2L500.0 333.3M500.0 340.0L503.0 341.1L506.9 339.9L510.0 340.8L513.8 341.0L517.0 341.7L520.0 341.3L523.3 341.7L526.3 341.7L529.6 341.2L533.2 342.4L536.7 341.7L540.3 341.8L543.8 341.6L546.7 342.5L551.2 341.8L555.0 340.0L554.3 344.0L553.3 348.3L558.3 350.0L558.0 347.1L557.5 343.3L560.1 341.5L563.8 340.2L566.7 338.3L570.0 333.3L566.4 331.9L563.3 331.7L558.5 330.7L555.0 328.3L550.8 327.1L546.7 326.7L543.6 327.2L540.0 328.3L537.9 330.6L535.0 333.3L539.0 334.0L543.3 335.0L547.4 334.8L551.6 335.8L555.0 335.0M518.3 356.7L521.5 356.9L525.0 355.8L527.9 356.6L531.7 357.0L534.7 356.1L538.3 356.3M516.7 367.5L519.8 367.8L522.9 367.2L526.7 366.7L529.8 366.3L533.5 367.3L536.7 367.3L541.0 367.1L544.8 367.3L548.3 366.7M583.3 356.7L586.3 357.6L589.5 357.7L593.2 357.3L596.7 358.3L600.1 359.4L603.8 360.1L606.9 361.3L610.0 361.7M510.0 351.7L515.0 353.3M610.0 346.7L612.2 348.9L615.0 351.7L620.0 355.0L618.2 358.9L616.7 363.3L614.7 366.5L612.0 369.3L610.0 371.7L606.2 371.5L603.5 373.5L600.0 373.3L597.0 373.8L593.7 374.1L590.0 375.0M616.7 353.3L619.6 351.9L623.2 350.3L626.7 348.3L630.3 349.1L633.8 350.6L636.7 351.7L638.7 355.8L641.7 358.3L644.8 359.4L646.9 361.5L650.0 363.3M528.3 286.7L531.7 287.7L535.4 287.8L539.4 287.6L543.3 288.7L546.8 288.6L550.4 288.0L553.7 288.2L556.7 287.5L560.4 287.2L563.8 288.1L567.4 289.1L571.7 288.7M580.0 287.5L583.0 288.5L586.2 288.5L589.8 288.1L593.3 289.2L596.8 289.1L600.4 288.5L603.7 288.7L606.7 288.0L610.0 287.5L612.9 288.2L616.2 289.1L619.9 287.8L623.6 288.6L626.7 288.7L630.4 288.9L633.5 289.4L636.5 289.1L639.6 288.9L643.0 290.5L646.8 289.5L650.0 290.0M650.0 296.7L654.3 296.5L658.1 295.3L661.7 295.8L665.4 297.1L669.1 296.9L673.3 297.5L676.5 299.1L680.0 301.7L675.9 302.4L671.7 303.3L667.5 302.7L663.5 301.7L660.0 301.7L656.6 303.3L653.3 303.3L650.0 300.0L650.0 296.7M649.9 307.9L652.4 304.9L654.2 308.1L656.5 306.9L658.4 309.2L660.9 306.0L662.8 308.7L665.1 307.6L666.9 310.4L669.5 307.3L671.4 309.5L673.7 308.2L675.5 311.5L678.0 308.7L679.9 310.4L682.4 309.1L683.4 312.9L686.0 311.0L687.6 312.8L690.2 311.0L691.2 314.9L693.7 313.4L695.3 315.4L698.0 313.1L699.1 316.7L701.5 315.7L702.7 317.9L706.3 316.0L707.1 319.5L709.8 319.3L710.9 322.4L714.5 320.3L715.6 323.4L718.3 323.2L719.1 326.7L722.9 325.0L724.3 327.8L727.2 327.5L728.1 331.5L731.5 329.8L733.0 332.0L736.1 331.8L735.5 335.8L738.7 335.4L739.5 337.8L742.9 337.1L742.7 341.3L745.7 340.7L747.3 343.2L750.9 341.5L751.7 345.4L754.6 345.2L756.2 348.1L759.3 345.5L760.6 348.6L763.1 347.9L764.5 350.9L767.5 348.3L769.0 350.8L771.5 350.1L773.3 351.7M652.4 305.9L654.8 302.9L656.4 306.1L658.6 304.9L660.4 307.2L662.8 304.0L664.6 306.7L666.7 305.6L668.6 308.4L671.1 305.3L673.0 307.5L675.4 306.2L677.2 309.5L679.6 306.7L681.6 308.4L684.0 307.1L685.0 310.9L687.7 309.0L689.3 310.8L691.9 309.0L692.9 312.9L695.4 311.4L697.0 313.4L699.7 311.1L700.8 314.7L703.2 313.7L704.4 315.9L708.0 314.0L708.8 317.5L711.5 317.3L712.6 320.4L716.2 318.3L717.3 321.4L720.0 321.2L720.7 324.7L724.5 323.0L725.9 325.8L728.8 325.5L729.7 329.5L733.2 327.8L734.7 330.0L737.7 329.8L737.2 333.8L740.4 333.4L741.2 335.8L744.6 335.1L744.3 339.3L747.4 338.7L748.9 341.2L752.6 339.5L753.4 343.4L756.3 343.2L757.9 346.1L761.0 343.5L762.3 346.6L764.8 345.9L766.1 348.9L769.7 346.5L771.5 349.3L774.2 349.7M648.2 309.6L650.6 307.4L652.5 309.9L654.8 309.0L656.8 310.8L659.2 308.5L661.1 310.6L663.4 309.8L665.3 312.0L667.7 309.7L669.7 311.4L672.0 310.5L673.9 313.0L676.3 310.9L678.2 312.3L680.6 311.5L681.8 314.5L684.3 313.1L686.0 314.7L688.4 313.5L689.7 316.5L692.0 315.5L693.7 317.1L696.2 315.6L697.5 318.4L699.8 317.8L701.2 319.6L704.4 318.4L705.6 321.3L708.1 321.4L709.4 324.0L712.7 322.7L714.0 325.3L716.5 325.4L717.6 328.3L721.0 327.3L722.6 329.7L725.4 329.8L726.6 333.0L729.7 332.0L731.4 333.9L734.1 334.1L734.1 337.5L737.0 337.5L738.0 339.7L740.9 339.5L741.2 343.0L744.0 342.8L745.7 345.0L749.0 344.0L750.2 347.2L752.9 347.3L754.7 349.8L757.5 347.9L759.0 350.4L761.4 350.1L763.3 351.2M773.3 351.7L769.7 353.4L766.7 356.7L763.3 361.7L760.0 358.3L756.7 356.7L753.3 354.2L748.3 353.3L744.8 353.6L741.7 352.5L737.9 352.1L735.0 351.7L730.0 355.0L735.0 358.3L740.0 361.7L743.3 364.8L746.7 366.7L750.1 369.0L753.3 371.7L756.7 375.0M660.0 320.8L665.0 324.2L668.7 326.1L673.3 326.7L676.4 328.8L678.3 331.7L682.7 332.2L686.4 333.3L690.0 333.3L692.8 334.9L695.2 336.5L698.3 338.3L701.7 341.0L705.0 345.0L701.7 350.0L698.1 351.0L695.0 353.3L691.7 356.7L695.3 358.4L698.3 360.0L702.8 360.0L706.2 361.7L710.0 361.7L714.0 363.2L718.3 365.0L713.3 368.3L710.4 366.1L706.7 363.3M673.3 341.7L675.8 338.7L680.8 338.0L685.8 339.0L688.3 341.7L685.8 344.7L680.8 345.3L675.8 344.7L673.3 341.7M668.3 365.8L670.8 362.8L675.8 362.2L680.8 363.2L683.3 365.8L680.8 368.8L675.8 369.5L670.8 368.8L668.3 365.8M711.7 349.2L715.1 348.4L718.3 348.3L723.3 351.7L718.3 355.0L713.3 355.0L711.7 349.2M640.0 325.0L642.7 327.3L646.7 328.3L646.4 332.0L645.0 335.0L641.7 340.0L646.7 343.3L645.8 347.1L645.0 350.0L640.0 351.7M640.0 365.0L642.7 367.3L646.7 368.3L650.4 369.5L653.3 371.7L650.0 375.0M640.0 295.0L642.9 296.6L646.7 296.7L650.0 301.7L645.0 305.0L640.0 303.3M661.7 330.0L665.0 335.0M675.0 328.3L678.3 330.8M686.7 335.0L690.0 338.3M693.3 335.0L696.0 337.5L698.3 340.0M798.2 288.2L802.7 287.3L801.2 291.4L804.0 291.9L803.4 295.2L808.3 294.6L807.2 298.4L809.9 299.4L808.7 303.2L813.3 302.5L812.4 305.5L815.1 306.2L813.1 310.1L817.9 310.0L818.0 313.4L821.1 314.1L818.2 317.8L822.0 318.1L821.4 320.7L824.9 320.9L822.4 324.9L825.7 325.2L825.4 327.9L829.8 329.7L825.4 330.4L826.6 333.1L823.8 334.4L827.1 337.7L823.1 338.8L824.4 341.4L821.2 343.1L825.1 345.4L822.7 348.1L824.8 350.1L822.1 353.9L826.6 353.2L825.9 356.1L828.8 356.7L826.6 360.7L831.2 360.8L831.5 364.0L834.9 364.6L832.3 368.7L836.0 369.0L835.7 371.7L839.7 371.9L837.3 376.1L840.6 376.5L840.6 379.6L845.2 379.1L843.9 383.7L846.6 385.1M807.1 290.4L811.8 290.0L810.2 294.2L813.1 295.1L812.4 298.6L817.2 297.8L816.1 301.5L818.7 302.2L817.5 306.0L822.0 304.9L822.1 308.2L825.0 308.1L824.2 312.5L827.8 310.6L829.6 313.1L832.4 311.3L833.7 316.0L837.1 313.5L837.7 316.2L841.3 315.3L840.3 320.0L843.8 320.0L841.6 321.6L844.8 324.5L840.4 325.6L841.9 328.1L839.3 329.5L842.8 332.6L838.9 333.6L840.0 336.1L836.7 337.3L840.2 340.4L837.0 341.6L838.1 344.1L834.1 346.3L838.7 347.6L837.1 350.4L839.7 352.1L836.4 355.6L840.7 356.6L839.9 359.5L843.2 360.8L840.0 364.5L843.7 365.7L842.9 368.6L846.9 369.6L845.5 372.7M802.9 289.1L806.9 289.2L805.9 292.9L808.5 294.0L808.2 297.2L812.3 296.9L811.7 300.2L814.1 301.2L813.4 304.6L817.4 304.2L817.6 307.4L820.4 308.2L819.8 312.1L823.1 311.4L825.2 313.1L827.6 311.4L829.6 314.9L832.3 312.5L833.7 314.7L836.7 313.5L837.2 317.5L840.3 316.9L840.1 320.0L844.0 322.9L840.2 323.5L841.0 326.0L838.6 327.2L840.9 330.3L837.6 331.2L838.0 333.8L834.7 333.5L834.9 337.7L831.5 337.7L832.2 340.1L829.0 341.3L831.6 344.1L829.4 345.8L831.5 347.7L828.9 350.7L832.3 352.3L831.6 355.0L834.4 355.8L832.2 359.1L835.2 359.9L834.9 362.3L838.2 363.0L836.1 366.4L838.7 367.6L838.2 370.3L841.9 371.0L841.0 373.9M811.9 289.1L815.9 289.2L814.9 292.9L817.5 294.0L817.2 297.2L821.3 296.9L820.7 300.2L823.1 301.2L822.4 304.6L826.0 303.9L827.3 306.9L830.3 306.9L831.4 311.1L834.6 308.8L836.4 311.0L839.2 309.9L839.6 313.3L843.4 313.4L844.3 316.2L846.6 317.6M844.3 332.0L846.9 335.0L843.4 336.5L844.2 339.1L841.6 341.2L845.1 343.5L842.6 345.7L843.9 348.0L841.4 350.2L844.7 352.1L843.5 354.9L845.6 356.7L843.3 359.8L847.0 361.2L846.6 363.7M815.1 322.1L819.5 321.6L823.0 321.0L828.0 321.4L832.0 323.2L836.5 326.6L833.1 330.0L829.1 329.8L825.2 331.1L822.2 330.1L818.5 328.9L816.7 326.0L815.1 322.1M297.8 419.8L301.7 419.0L301.4 422.8L304.2 423.3L304.5 426.3L308.5 425.4L308.4 428.8L310.9 429.3L310.6 432.7L314.6 432.0L314.5 434.8L317.1 435.4L316.3 439.2L320.2 438.4L320.8 441.1L323.5 441.1L324.1 445.1L327.3 443.8L329.1 445.5M304.2 417.3L308.0 416.7L307.4 420.4L310.0 420.9L310.3 424.0L314.1 422.8L314.1 426.0L316.6 426.4L316.3 429.6L320.3 428.9L320.2 431.7L322.8 432.3L322.1 436.1L326.0 435.3L326.9 438.1L330.2 438.3L329.2 442.2L332.6 441.9L333.6 444.0M310.0 416.3L313.1 416.3L312.7 419.3L314.8 420.2L315.0 422.9L318.3 422.3L318.6 425.1L320.9 425.7L321.0 428.4L324.3 428.4L324.4 430.9L326.6 431.7L326.2 434.9L329.5 434.8L330.4 437.2L332.3 438.5M335.4 448.4L338.6 448.9L338.0 452.0L340.2 453.2L340.2 455.7L343.5 455.7L343.3 458.4L345.4 459.3L345.2 462.1L348.5 462.1L348.6 464.6L350.8 465.4L350.1 468.2L353.4 469.5L353.9 472.2M339.2 450.7L342.4 451.2L341.8 454.3L344.0 455.5L344.1 458.0L347.4 458.0L347.2 460.7L349.3 461.6L349.0 464.4L352.3 464.4L352.4 466.9L354.6 467.7L353.9 470.5L357.2 471.8L357.7 474.5M357.3 476.9L360.5 475.8L361.6 478.8L364.3 478.9L365.2 481.3L368.2 480.2L369.0 482.8L371.4 483.0L372.3 485.7L374.9 485.5M192.7 411.9L194.5 409.0L197.4 410.6L199.5 408.9L202.4 409.8L203.5 406.8L206.0 407.9L207.6 406.3L210.1 407.6L211.2 404.5L213.6 405.3L215.1 403.6L217.8 405.1L218.9 402.2L221.2 402.7L222.6 400.6L225.4 402.2L226.6 399.6L228.9 399.7L230.8 397.2L232.8 400.1L235.5 399.0L237.7 400.4L240.2 400.1M218.0 397.0L220.2 394.4L222.8 396.5L225.1 395.2L227.4 396.6L229.7 394.2L231.6 396.2L233.7 395.4L235.7 396.1M119.6 446.2L121.0 443.7L123.6 444.7L125.3 443.2L127.7 443.7L129.0 441.0L131.5 441.7L133.2 440.3L135.7 441.1L137.1 438.4L139.6 438.7L141.4 437.0L144.2 438.0L145.7 435.5L148.1 435.5L149.8 433.6L152.7 434.6L154.2 432.2L156.6 432.0L158.2 429.8L161.2 430.7L162.5 428.4L164.9 427.9L165.8 425.1L168.8 425.5L170.2 423.4L172.6 423.4L173.6 420.7L176.2 421.2L177.8 419.5L180.4 419.7L181.3 416.5L184.3 416.0L186.2 414.2M183.3 425.9L184.7 423.3L187.4 424.2L189.2 422.5L191.8 422.9L193.2 420.2L195.7 420.4M135.4 414.8L137.5 412.8L140.2 413.9L142.5 412.8L144.8 413.4L147.4 412.1L149.6 413.7L152.1 413.5L154.5 415.1L156.7 413.2L159.2 414.0L161.5 413.1L163.9 413.4M109.9 368.5L112.0 366.9L114.1 368.4L116.2 367.7L118.4 368.7L120.5 367.0L122.6 368.2L124.7 367.7L126.8 369.1L129.0 367.5L131.1 368.6L133.2 368.0L134.9 369.6L137.7 369.2L139.5 371.0L142.1 372.4L139.1 372.3L137.6 374.8L135.2 375.5L133.4 377.2L130.9 376.0L129.0 377.6L126.7 377.4L125.0 379.3L122.2 378.4L121.2 380.5L119.0 381.3L118.5 383.9L116.0 384.3L114.9 386.3L112.3 387.3L113.5 389.7L111.9 391.4L112.1 393.5L110.5 396.1L113.4 396.5L114.5 398.7L116.5 399.5L118.1 401.7L120.7 400.9L122.6 402.3L125.0 401.9L126.6 404.2L129.2 403.8L130.3 406.0L132.9 406.9L133.2 409.7L135.3 411.0M810.9 461.5L807.8 461.1L808.6 458.2L806.6 457.1L806.8 454.6L803.5 454.3L804.0 451.6L802.2 450.6L801.5 447.7L798.2 448.4L797.2 445.9L794.8 445.5L794.3 442.3L791.1 442.8L790.0 440.5L787.3 440.4L787.0 437.0L784.0 437.2L782.8 435.1L779.9 435.2L779.6 431.8L776.8 431.6L776.7 429.2L773.7 428.5L774.7 425.4L772.6 424.2L772.7 421.7L769.6 421.3L769.8 418.3L767.7 417.3L767.6 414.6L764.3 414.5L764.2 411.8L762.1 410.8L762.3 407.8L759.1 407.8L758.9 405.4L756.6 404.6L757.2 401.4L754.8 400.8M789.1 500.0L788.6 497.3L791.1 496.5L791.5 494.4L793.6 493.3L792.9 490.5L795.3 489.6L795.4 487.3L797.6 486.0L796.6 483.2L798.5 481.7L798.6 479.4L800.8 478.6L801.3 475.6L803.7 474.7L804.7 472.3L807.9 472.2L809.3 469.8L808.5 472.2L810.0 474.5L807.9 476.9L809.2 479.2L808.6 482.1L811.6 481.9L812.7 484.8L815.3 485.3L816.7 487.3L819.6 486.7L820.6 489.2L823.0 489.6L823.7 491.3L826.3 492.7L825.7 495.2L827.1 497.0L826.1 499.5L828.3 501.9L825.7 502.3L824.1 504.4L821.6 503.9L819.2 505.7L816.8 504.8L814.4 506.1L812.4 504.1L809.8 504.7L807.9 503.1L805.3 503.8L803.8 501.1L801.3 501.4L799.3 500.4M745.5 530.8L747.4 528.5L750.2 529.1L752.4 527.7L755.2 527.8L756.3 525.3L758.8 525.5L760.4 524.0L762.9 524.2L764.1 521.7L766.4 521.9L768.0 520.6L770.4 521.3L771.8 519.2L774.0 519.3L775.8 518.4M718.8 531.6L720.2 529.3L722.6 529.9L724.3 528.5L726.6 528.6L728.1 526.2L730.6 526.6L732.4 525.2L735.1 525.3L736.5 522.8L739.0 522.4M52.6 367.1L55.0 365.5L56.9 367.5L59.1 366.9L61.1 368.4L63.4 366.6L65.7 368.1L66.1 365.9L68.5 364.8L68.3 361.5L71.1 361.9L73.1 360.2L76.1 361.2L77.8 358.7L80.4 358.2L81.9 355.9L85.1 354.4L82.4 354.7L80.9 352.9L78.3 353.0L77.4 350.2L74.9 350.2L73.0 348.9L70.5 350.3L68.8 348.0L66.5 348.5L64.6 347.1L62.0 348.6L60.0 346.4L57.4 346.7L55.3 344.8L52.7 345.2M97.0 359.9L99.9 359.1L101.8 361.3L104.4 361.4L106.0 362.7L108.5 364.4L108.6 367.4L110.8 366.9L112.9 368.4L115.1 366.8L117.2 368.0L119.4 367.9M104.6 338.7L107.4 337.8L109.3 339.9L111.8 339.8L113.8 341.4L116.7 340.5L118.1 342.5L120.3 342.9L121.6 345.0L124.2 344.4L125.7 346.2L128.3 346.3L130.2 348.5L133.1 347.8L135.1 349.1L136.7 351.7L136.6 353.6L134.4 355.0L132.3 354.3L130.1 355.5L128.0 353.8L125.8 354.8L123.7 354.0L121.5 355.3L119.5 353.6L117.3 354.3L115.3 353.2L113.4 354.7L110.8 354.2L109.0 355.6L106.4 355.3L104.9 357.7L102.4 357.5L100.4 358.5M751.2 404.4L751.2 407.0L748.8 407.6L748.0 409.6L746.0 410.5L745.5 413.5L743.1 412.8L741.2 414.0L738.7 413.2L737.0 415.4L734.7 415.0L732.4 416.2L731.1 413.9L728.6 414.3L727.0 412.7L724.7 412.6L724.0 410.9L722.6 408.7L723.1 406.3L721.7 404.0L722.9 401.0L720.5 400.2L719.2 398.1L716.4 397.7L715.7 394.9L713.4 394.0L712.0 392.1L709.4 392.4L708.3 390.1L706.1 389.6L704.9 387.5L702.2 387.8L700.8 385.7L698.7 386.3L696.6 384.8L694.4 386.4L692.4 385.4L690.2 386.2L688.2 384.5L686.0 385.8L683.9 385.0L681.7 386.0L679.7 384.2L677.5 385.2L675.5 384.4L673.3 385.6L671.3 383.8L669.1 384.4M668.5 387.6L670.3 389.8L669.1 392.3L670.0 394.6L669.3 397.0L671.2 399.1L670.4 401.4L671.4 403.3L670.5 405.6L672.6 407.3L672.1 409.3L670.9 411.5L668.2 411.9L667.6 413.8L668.7 416.1L671.0 417.1L671.4 420.0L674.0 420.8L675.1 422.9L676.9 424.7L675.9 427.3L677.6 429.2L677.6 431.1L677.4 434.0L674.6 435.0L673.8 437.4L671.9 438.7L670.5 441.1L667.8 440.8L666.0 442.3L663.4 442.2L662.0 444.7L659.5 444.8" fill="none" stroke="#a00fd2" stroke-width="1.6" stroke-linejoin="round" stroke-linecap="round"/>
<path d="M548.9 356.1L546.1 355.6L544.0 355.9M405.6 398.7L403.7 398.9L402.1 397.9M397.1 372.2L393.7 372.4L392.1 372.7M507.1 373.3L502.7 372.8L499.9 373.5M554.8 378.4L553.4 377.1L552.0 378.0L553.4 379.4L554.8 378.4M432.6 346.3L429.1 346.1L425.7 347.6L429.1 347.8L432.6 346.3M377.3 393.4L375.4 391.7L374.4 389.6M441.7 405.3L438.6 403.9L435.6 404.7L438.6 406.1L441.7 405.3M554.7 425.0L552.2 425.2L548.9 426.4M451.2 383.2L448.2 383.4L446.4 383.8M400.4 420.6L398.1 418.5L397.3 416.8M453.2 367.8L449.5 367.6L446.6 368.3M470.7 385.2L468.2 384.5L465.9 385.2M492.0 358.9L489.5 359.5L487.3 360.1M540.8 383.6L538.2 382.3L534.7 382.1M440.0 434.2L436.9 433.1L433.8 433.6L436.9 434.7L440.0 434.2M412.9 424.1L412.3 424.0L410.3 423.1M430.1 396.7L429.1 395.2L428.1 395.4L429.1 396.9L430.1 396.7M413.1 417.4L411.9 415.0L410.6 414.7L411.9 417.2L413.1 417.4M429.8 426.1L426.7 425.9L425.3 426.1M433.0 397.7L432.8 396.2L431.8 395.1M563.3 412.8L562.2 411.3L560.4 411.2M424.7 400.8L422.3 400.5L420.3 399.1M391.8 395.5L390.6 394.7L389.4 395.4L390.6 396.1L391.8 395.5M457.9 351.8L457.5 351.0L456.5 350.3M509.1 354.0L507.6 352.2L506.2 353.1L507.6 354.9L509.1 354.0M415.9 408.1L414.5 407.2L413.3 407.5M405.0 389.6L403.4 387.2L401.9 386.3L403.4 388.7L405.0 389.6M390.8 422.3L388.9 421.0L386.3 419.1M398.8 381.0L398.1 381.6L396.0 380.6M560.4 354.9L558.3 354.3L557.3 353.3M459.6 420.2L457.7 418.6L455.8 419.0L457.7 420.6L459.6 420.2M553.6 351.8L550.5 349.9L547.4 350.3L550.5 352.1L553.6 351.8M489.4 431.2L488.3 429.9L486.9 430.1M411.8 388.5L409.8 386.3L407.7 385.7L409.8 387.8L411.8 388.5M416.1 348.2L413.8 347.5L411.4 348.0L413.8 348.7L416.1 348.2M389.5 343.0L387.1 343.5L386.6 344.1M435.2 375.5L433.8 374.1L432.4 374.3L433.8 375.8L435.2 375.5M458.8 408.4L457.0 407.0L455.2 407.4L457.0 408.7L458.8 408.4M402.6 351.8L400.9 352.0L400.4 350.8M531.2 359.1L529.0 359.4L526.8 360.9L529.0 360.7L531.2 359.1M447.0 414.3L444.6 411.7L442.2 411.3L444.6 413.7L447.0 414.3M418.3 343.2L415.7 342.6L413.6 340.9M533.6 386.5L531.1 386.2L529.9 387.1M404.7 366.1L403.7 365.8L400.9 366.6M526.7 363.7L523.4 362.6L520.3 362.6M483.6 402.9L480.7 401.3L479.6 401.2M458.9 382.7L456.0 381.7L452.7 381.2M469.7 391.9L466.8 391.7L462.8 390.8M436.7 344.8L433.3 345.3L431.5 345.0M561.8 391.4L559.6 390.0L556.6 389.2M403.5 404.7L401.1 403.8L398.8 404.4L401.1 405.2L403.5 404.7M452.1 389.5L450.5 389.0L449.0 390.6L450.5 391.0L452.1 389.5M437.7 370.7L434.2 369.3L432.6 367.9M559.0 416.5L556.1 416.0L551.8 416.3M405.9 374.7L402.6 373.9L399.3 375.7L402.6 376.4L405.9 374.7M384.3 349.7L382.6 349.0L380.9 350.9L382.6 351.6L384.3 349.7M453.4 401.2L451.5 400.1L449.9 400.5M469.0 383.8L466.9 383.7L463.7 382.9M464.2 416.6L462.8 414.0L462.8 412.5M542.8 405.9L539.8 406.3L536.4 406.2M552.9 360.2L551.8 359.0L550.6 359.9L551.8 361.2L552.9 360.2M429.1 376.5L426.5 375.2L423.9 375.9L426.5 377.2L429.1 376.5M504.2 388.5L501.1 388.8L498.1 388.6M427.2 384.5L425.1 383.6L423.0 383.8L425.1 384.8L427.2 384.5M519.7 381.7L517.4 380.9L514.9 381.2M492.0 367.7L491.2 366.4L489.2 365.3M438.4 382.7L435.4 382.7L433.2 384.0M524.8 344.9L523.2 343.1L522.0 342.8M417.2 356.8L414.7 355.4L412.1 355.5L414.7 356.9L417.2 356.8M679.0 437.8L677.3 436.9L675.5 437.3L677.3 438.1L679.0 437.8M699.9 418.8L696.0 418.8L693.8 419.0M728.8 471.0L726.1 470.6L725.0 470.0M672.2 478.1L671.1 477.1L670.0 477.6L671.1 478.5L672.2 478.1M722.4 419.0L718.8 419.0L714.8 418.9M669.6 465.8L668.6 463.3L666.3 461.7M693.5 457.8L692.5 456.4L691.6 455.9M702.2 456.7L699.4 457.1L696.5 458.1M679.0 429.5L677.3 426.2L675.5 425.6L677.3 428.9L679.0 429.5M694.7 455.5L693.3 453.8L692.7 452.3M738.8 441.6L736.9 440.0L735.0 440.7L736.9 442.4L738.8 441.6M709.6 441.6L708.3 440.0L706.9 441.0L708.3 442.6L709.6 441.6M670.9 436.0L670.1 435.1L667.7 435.7M681.1 478.7L679.5 478.8L679.1 478.0M666.1 444.8L664.2 444.2L662.2 445.5L664.2 446.1L666.1 444.8M688.1 439.0L686.2 437.7L684.1 435.5M702.7 466.9L699.4 466.7L696.3 467.3M723.7 467.3L722.5 466.2L719.4 465.3M771.6 446.5L771.2 443.8L770.9 442.8L771.2 445.4L771.6 446.5M695.4 484.7L692.3 484.7L690.0 483.8M731.8 452.3L729.7 451.3L727.5 452.4L729.7 453.3L731.8 452.3M698.8 458.4L697.5 457.1L697.9 456.4M627.3 468.0L625.9 466.1L624.9 465.4M598.4 467.3L596.8 466.1L595.0 465.2M549.1 467.6L546.1 466.9L543.0 468.7L546.1 469.5L549.1 467.6M584.3 439.8L580.2 440.3L577.3 440.6M539.9 443.0L537.5 442.0L535.0 443.3L537.5 444.2L539.9 443.0M559.4 444.4L557.2 444.7L555.3 445.1M544.9 457.9L542.1 456.4L538.0 456.0M535.4 442.7L532.8 441.6L532.1 439.8M641.8 471.3L640.7 471.6L639.3 470.9M621.8 450.7L619.0 449.7L616.3 451.0L619.0 452.0L621.8 450.7M607.6 463.4L604.5 461.1L601.5 460.7L604.5 462.9L607.6 463.4M611.1 443.4L608.3 443.0L605.8 444.1M595.6 475.0L592.4 475.0L588.3 474.4M614.3 450.6L614.0 449.3L612.3 448.4M615.3 481.1L613.9 479.5L612.9 479.3M577.5 485.2L576.6 483.2L575.6 482.9L576.6 484.9L577.5 485.2M583.5 482.9L580.3 484.5L577.8 485.0M594.1 459.6L592.4 459.6L591.5 458.4M618.5 482.5L615.4 480.7L612.4 480.7L615.4 482.4L618.5 482.5M576.7 441.9L573.8 441.4L570.8 443.5L573.8 444.0L576.7 441.9M584.9 445.6L583.6 444.8L581.8 442.7M621.3 450.3L619.3 448.0L617.2 447.9L619.3 450.2L621.3 450.3M304.4 396.5L303.4 395.7L302.3 396.9L303.4 397.7L304.4 396.5M340.4 371.1L339.4 369.8L338.5 370.1L339.4 371.3L340.4 371.1M163.5 351.8L162.8 350.1L162.1 350.6L162.8 352.3L163.5 351.8M204.2 350.2L202.6 350.1L200.9 348.9M161.5 349.5L161.3 347.8L161.2 348.3L161.3 350.0L161.5 349.5M289.7 355.7L288.7 355.5L286.2 354.7M343.3 364.8L342.6 363.6L340.6 363.1M224.2 376.1L222.3 374.5L220.3 375.0L222.3 376.5L224.2 376.1M339.2 389.6L338.9 388.1L338.5 388.1L338.9 389.6L339.2 389.6M211.1 348.2L209.6 346.2L208.1 345.8L209.6 347.8L211.1 348.2M268.2 344.7L267.2 344.4L267.6 343.4M301.4 365.9L300.5 364.9L299.6 365.4L300.5 366.4L301.4 365.9M342.0 392.9L340.0 392.9L338.3 392.3M311.7 375.1L310.3 374.4L309.0 376.2L310.3 376.9L311.7 375.1M544.7 310.5L542.1 310.0L537.7 309.3M425.7 319.1L423.1 317.6L420.4 318.1L423.1 319.6L425.7 319.1M694.2 352.2L690.9 352.3L687.6 354.5L690.9 354.4L694.2 352.2M418.2 329.0L417.0 328.2L414.5 328.9M619.8 292.3L618.7 291.3L615.9 290.9M647.8 351.5L645.8 351.2L644.6 349.5M496.9 300.6L493.8 300.3L491.9 299.8M511.9 321.4L510.0 321.0L507.9 320.6M600.9 325.0L601.0 324.4L599.4 323.5M548.4 294.6L545.6 292.2L542.9 292.0L545.6 294.5L548.4 294.6M661.3 304.1L658.5 305.3L654.5 305.0M410.1 328.2L407.1 328.7L404.0 330.7L407.1 330.3L410.1 328.2M411.7 319.2L409.8 320.2L408.2 320.1M710.6 345.1L707.6 344.0L706.5 344.1M593.3 310.3L591.5 310.5L588.3 311.8M427.4 298.4L424.7 298.2L423.3 297.7M482.5 306.8L481.1 305.7L479.7 306.8L481.1 307.8L482.5 306.8M526.4 302.8L524.5 299.8L522.5 299.3L524.5 302.5L526.4 302.8M534.9 325.5L531.3 324.3L527.6 324.6L531.3 325.8L534.9 325.5M666.7 332.9L663.9 332.1L662.0 332.3M644.2 300.3L641.7 299.7L639.3 300.4L641.7 301.0L644.2 300.3M639.5 301.1L637.9 298.9L635.1 297.6M559.5 316.3L557.1 316.3L553.9 317.8M699.2 325.7L698.4 325.2L698.1 323.3M656.0 363.4L653.4 363.3L651.5 361.8M697.7 312.9L695.4 311.2L693.1 311.4L695.4 313.0L697.7 312.9M560.1 290.5L556.9 290.1L553.2 288.5M553.4 328.0L550.4 327.4L548.9 325.3M731.7 327.8L730.8 326.5L730.2 325.1M598.2 313.0L594.5 312.3L589.8 313.1M588.9 341.8L588.5 341.3L586.7 339.4M531.0 290.1L528.4 289.2L524.0 288.4M671.9 291.7L669.8 290.3L667.7 291.6L669.8 293.0L671.9 291.7M666.5 321.7L662.0 323.2L658.8 323.2M726.5 352.9L724.3 353.3L722.1 353.3M499.2 323.9L496.9 323.8L493.1 324.3M703.6 338.8L700.0 338.7L696.9 339.8M462.6 335.1L460.7 333.7L458.9 334.7L460.7 336.2L462.6 335.1M667.5 307.2L665.2 306.5L662.9 305.3M716.2 324.5L713.6 324.3L712.1 324.6M686.0 395.8L684.8 394.8L683.6 396.0L684.8 396.9L686.0 395.8M710.6 425.2L708.0 424.2L705.5 425.3L708.0 426.2L710.6 425.2M694.9 400.6L692.3 400.9L689.1 399.9M687.4 396.4L683.7 397.3L681.2 397.1M685.8 391.5L681.9 391.3L678.6 391.8M685.6 388.9L684.2 389.2L682.2 388.3M710.0 403.1L707.2 401.9L704.4 402.2L707.2 403.4L710.0 403.1M711.1 429.5L709.0 428.6L705.8 426.6M697.9 408.4L696.1 408.9L694.0 408.2M715.1 398.7L713.9 399.3L711.1 400.2" fill="#a00fd2" stroke="#a00fd2" stroke-width="1.9" stroke-linejoin="round" stroke-linecap="round"/>
<g font-size="10.2" fill="#000" stroke="#000" stroke-width="0.15">
<text x="212.0" y="395.0" textLength="20.0" lengthAdjust="spacingAndGlyphs">ANC</text>
<text x="380.7" y="363.5" textLength="18.6" lengthAdjust="spacingAndGlyphs">DLN</text>
<text x="383.3" y="488.3" textLength="17.4" lengthAdjust="spacingAndGlyphs">VAN</text>
<text x="398.3" y="500.7" textLength="15.0" lengthAdjust="spacingAndGlyphs">STL</text>
<text x="548.3" y="483.3" textLength="20.0" lengthAdjust="spacingAndGlyphs">WNP</text>
<text x="573.3" y="526.0" textLength="20.0" lengthAdjust="spacingAndGlyphs">MNP</text>
<text x="608.3" y="546.7" textLength="20.0" lengthAdjust="spacingAndGlyphs">CHG</text>
<text x="592.3" y="572.3" textLength="17.7" lengthAdjust="spacingAndGlyphs">SLO</text>
<text x="614.0" y="593.3" textLength="19.3" lengthAdjust="spacingAndGlyphs">NHV</text>
<text x="497.7" y="563.3" textLength="19.0" lengthAdjust="spacingAndGlyphs">DNV</text>
<text x="387.3" y="578.3" textLength="18.7" lengthAdjust="spacingAndGlyphs">SFO</text>
<text x="431.7" y="592.0" textLength="18.3" lengthAdjust="spacingAndGlyphs">LVG</text>
<text x="413.3" y="608.3" textLength="11.7" lengthAdjust="spacingAndGlyphs">LA</text>
<text x="550.0" y="618.0" textLength="18.3" lengthAdjust="spacingAndGlyphs">DLS</text>
<text x="560.0" y="641.3" textLength="19.3" lengthAdjust="spacingAndGlyphs">HUS</text>
<text x="535.7" y="723.0" textLength="20.0" lengthAdjust="spacingAndGlyphs">MXC</text>
<text x="629.3" y="610.7" textLength="14.7" lengthAdjust="spacingAndGlyphs">ATL</text>
<text x="652.7" y="622.3" textLength="15.6" lengthAdjust="spacingAndGlyphs">HHI</text>
<text x="656.0" y="673.3" textLength="16.7" lengthAdjust="spacingAndGlyphs">MIM</text>
<text x="642.3" y="694.3" textLength="18.7" lengthAdjust="spacingAndGlyphs">HVN</text>
<text x="695.0" y="556.0" textLength="18.3" lengthAdjust="spacingAndGlyphs">NYK</text>
<text x="661.7" y="533.0" textLength="16.6" lengthAdjust="spacingAndGlyphs">TNT</text>
<text x="684.3" y="519.0" textLength="19.0" lengthAdjust="spacingAndGlyphs">OTW</text>
<text x="163.3" y="707.7" textLength="19.4" lengthAdjust="spacingAndGlyphs">HON</text>
<text x="624.0" y="774.3" textLength="19.3" lengthAdjust="spacingAndGlyphs">NCG</text>
<text x="660.0" y="812.3" textLength="19.3" lengthAdjust="spacingAndGlyphs">PNC</text>
<text x="694.7" y="838.7" textLength="18.0" lengthAdjust="spacingAndGlyphs">BGT</text>
<text x="666.7" y="874.3" textLength="19.0" lengthAdjust="spacingAndGlyphs">QTO</text>
<text x="740.7" y="793.0" textLength="18.6" lengthAdjust="spacingAndGlyphs">CRC</text>
<text x="796.0" y="822.0" textLength="17.3" lengthAdjust="spacingAndGlyphs">GRT</text>
</g>
</g>
<rect x="53.1" y="285.8" width="793.8" height="628.1" fill="none" stroke="#1a1a1a" stroke-width="1.8"/>
<path d="M84.5 913.9v5.4M148.0 913.9v5.4M211.6 913.9v5.4M275.1 913.9v5.4M338.7 913.9v5.4M402.2 913.9v5.4M465.7 913.9v5.4M529.3 913.9v5.4M592.8 913.9v5.4M656.4 913.9v5.4M719.9 913.9v5.4M783.4 913.9v5.4M847.0 913.9v5.4M53.1 873.6h-5.5M53.1 795.2h-5.5M53.1 716.8h-5.5M53.1 638.4h-5.5M53.1 560.0h-5.5M53.1 481.6h-5.5M53.1 403.2h-5.5M53.1 324.8h-5.5" stroke="#000" stroke-width="1.3" fill="none"/>
<g font-size="15.6" fill="#000" stroke="#000" stroke-width="0.25">
<text transform="translate(66.8 934.8) scale(0.800 1)" font-size="17.3" fill="#000" stroke="#000" stroke-width="0.25" textLength="46.2" lengthAdjust="spacing">170W</text>
<text transform="translate(130.3 934.8) scale(0.800 1)" font-size="17.3" fill="#000" stroke="#000" stroke-width="0.25" textLength="46.2" lengthAdjust="spacing">160W</text>
<text transform="translate(193.9 934.8) scale(0.800 1)" font-size="17.3" fill="#000" stroke="#000" stroke-width="0.25" textLength="46.2" lengthAdjust="spacing">150W</text>
<text transform="translate(257.4 934.8) scale(0.800 1)" font-size="17.3" fill="#000" stroke="#000" stroke-width="0.25" textLength="46.2" lengthAdjust="spacing">140W</text>
<text transform="translate(321.0 934.8) scale(0.800 1)" font-size="17.3" fill="#000" stroke="#000" stroke-width="0.25" textLength="46.2" lengthAdjust="spacing">130W</text>
<text transform="translate(384.5 934.8) scale(0.800 1)" font-size="17.3" fill="#000" stroke="#000" stroke-width="0.25" textLength="46.2" lengthAdjust="spacing">120W</text>
<text transform="translate(448.0 934.8) scale(0.800 1)" font-size="17.3" fill="#000" stroke="#000" stroke-width="0.25" textLength="46.2" lengthAdjust="spacing">110W</text>
<text transform="translate(511.6 934.8) scale(0.800 1)" font-size="17.3" fill="#000" stroke="#000" stroke-width="0.25" textLength="46.2" lengthAdjust="spacing">100W</text>
<text transform="translate(579.9 934.8) scale(0.800 1)" font-size="17.3" fill="#000" stroke="#000" stroke-width="0.25" textLength="34.4" lengthAdjust="spacing">90W</text>
<text transform="translate(643.4 934.8) scale(0.800 1)" font-size="17.3" fill="#000" stroke="#000" stroke-width="0.25" textLength="34.4" lengthAdjust="spacing">80W</text>
<text transform="translate(706.9 934.8) scale(0.800 1)" font-size="17.3" fill="#000" stroke="#000" stroke-width="0.25" textLength="34.4" lengthAdjust="spacing">70W</text>
<text transform="translate(770.5 934.8) scale(0.800 1)" font-size="17.3" fill="#000" stroke="#000" stroke-width="0.25" textLength="34.4" lengthAdjust="spacing">60W</text>
<text transform="translate(834.0 934.8) scale(0.800 1)" font-size="17.3" fill="#000" stroke="#000" stroke-width="0.25" textLength="34.4" lengthAdjust="spacing">50W</text>
<text transform="translate(24.8 880.0) scale(0.680 1)" font-size="17.3" fill="#000" stroke="#000" stroke-width="0.25" textLength="26.5" lengthAdjust="spacing">EQ</text>
<text transform="translate(15.8 801.6) scale(0.800 1)" font-size="17.3" fill="#000" stroke="#000" stroke-width="0.25" textLength="33.8" lengthAdjust="spacing">10N</text>
<text transform="translate(15.8 723.2) scale(0.800 1)" font-size="17.3" fill="#000" stroke="#000" stroke-width="0.25" textLength="33.8" lengthAdjust="spacing">20N</text>
<text transform="translate(15.8 644.8) scale(0.800 1)" font-size="17.3" fill="#000" stroke="#000" stroke-width="0.25" textLength="33.8" lengthAdjust="spacing">30N</text>
<text transform="translate(15.8 566.4) scale(0.800 1)" font-size="17.3" fill="#000" stroke="#000" stroke-width="0.25" textLength="33.8" lengthAdjust="spacing">40N</text>
<text transform="translate(15.8 488.0) scale(0.800 1)" font-size="17.3" fill="#000" stroke="#000" stroke-width="0.25" textLength="33.8" lengthAdjust="spacing">50N</text>
<text transform="translate(15.8 409.6) scale(0.800 1)" font-size="17.3" fill="#000" stroke="#000" stroke-width="0.25" textLength="33.8" lengthAdjust="spacing">60N</text>
<text transform="translate(15.8 331.2) scale(0.800 1)" font-size="17.3" fill="#000" stroke="#000" stroke-width="0.25" textLength="33.8" lengthAdjust="spacing">70N</text>
</g>
<rect x="5" y="938" width="96" height="21.7" fill="#2b3cff"/>
<circle cx="15.8" cy="948.8" r="7.6" fill="none" stroke="#fff" stroke-width="1.7"/>
<path d="M19.3 946.2a4.3 4.3 0 1 0 0 5.2" fill="none" stroke="#e6e9ff" stroke-width="0.9"/>
<text x="30" y="955" font-size="16.4" fill="#d4daff" textLength="67" lengthAdjust="spacingAndGlyphs" style="font-weight:normal">WEACLIM</text>
<text transform="translate(276.0 970.3) scale(0.700 1)" font-size="27" fill="#3f5ee8" stroke="#3f5ee8" stroke-width="0" textLength="97.1" lengthAdjust="spacing">INITIAL</text>
<text transform="translate(361.0 970.3) scale(0.700 1)" font-size="27" fill="#3f5ee8" stroke="#3f5ee8" stroke-width="0" textLength="452.9" lengthAdjust="spacing">CONDITIONS:00Z26APR2026</text>
<rect x="106" y="982" width="53" height="21.5" fill="#ffe680"/>
<text transform="translate(170.0 999.0) scale(0.920 1)" font-size="16.6" fill="#000" stroke="#000" stroke-width="0.2" textLength="46.2" lengthAdjust="spacing">Trace</text>
<rect x="317" y="982" width="53" height="21.5" fill="#ffa010"/>
<text transform="translate(381.5 999.0) scale(0.920 1)" font-size="16.6" fill="#000" stroke="#000" stroke-width="0.2" textLength="42.4" lengthAdjust="spacing">Light</text>
<rect x="529" y="982" width="53" height="21.5" fill="#c00000"/>
<text transform="translate(594.0 999.0) scale(0.920 1)" font-size="16.6" fill="#000" stroke="#000" stroke-width="0.2" textLength="79.3" lengthAdjust="spacing">Moderate</text>
<rect x="741" y="982" width="53" height="21.5" fill="#663c32"/>
<text transform="translate(805.5 999.0) scale(0.920 1)" font-size="16.6" fill="#000" stroke="#000" stroke-width="0.2" textLength="57.6" lengthAdjust="spacing">Severe</text>
<g stroke="#000" stroke-width="1.5" stroke-linejoin="miter">
<path d="M391 1014.3L348.5 1025.5L391 1036.7Z" fill="#fff"/>
<rect x="391" y="1014.3" width="42.3" height="22.4" fill="#ffe680"/>
<rect x="433.3" y="1014.3" width="42.2" height="22.4" fill="#ffa010"/>
<rect x="475.5" y="1014.3" width="43" height="22.4" fill="#c00000"/>
<path d="M518.5 1014.3L561.5 1025.5L518.5 1036.7Z" fill="#663c32"/>
</g>
<g font-size="20.5" fill="#000" stroke="#000" stroke-width="0.3" text-anchor="middle">
<text x="391" y="1056.5">1</text><text x="433.5" y="1056.5">4</text><text x="476" y="1056.5">8</text><text x="519" y="1056.5" textLength="24" lengthAdjust="spacing">12</text>
</g>
</svg></body></html>
